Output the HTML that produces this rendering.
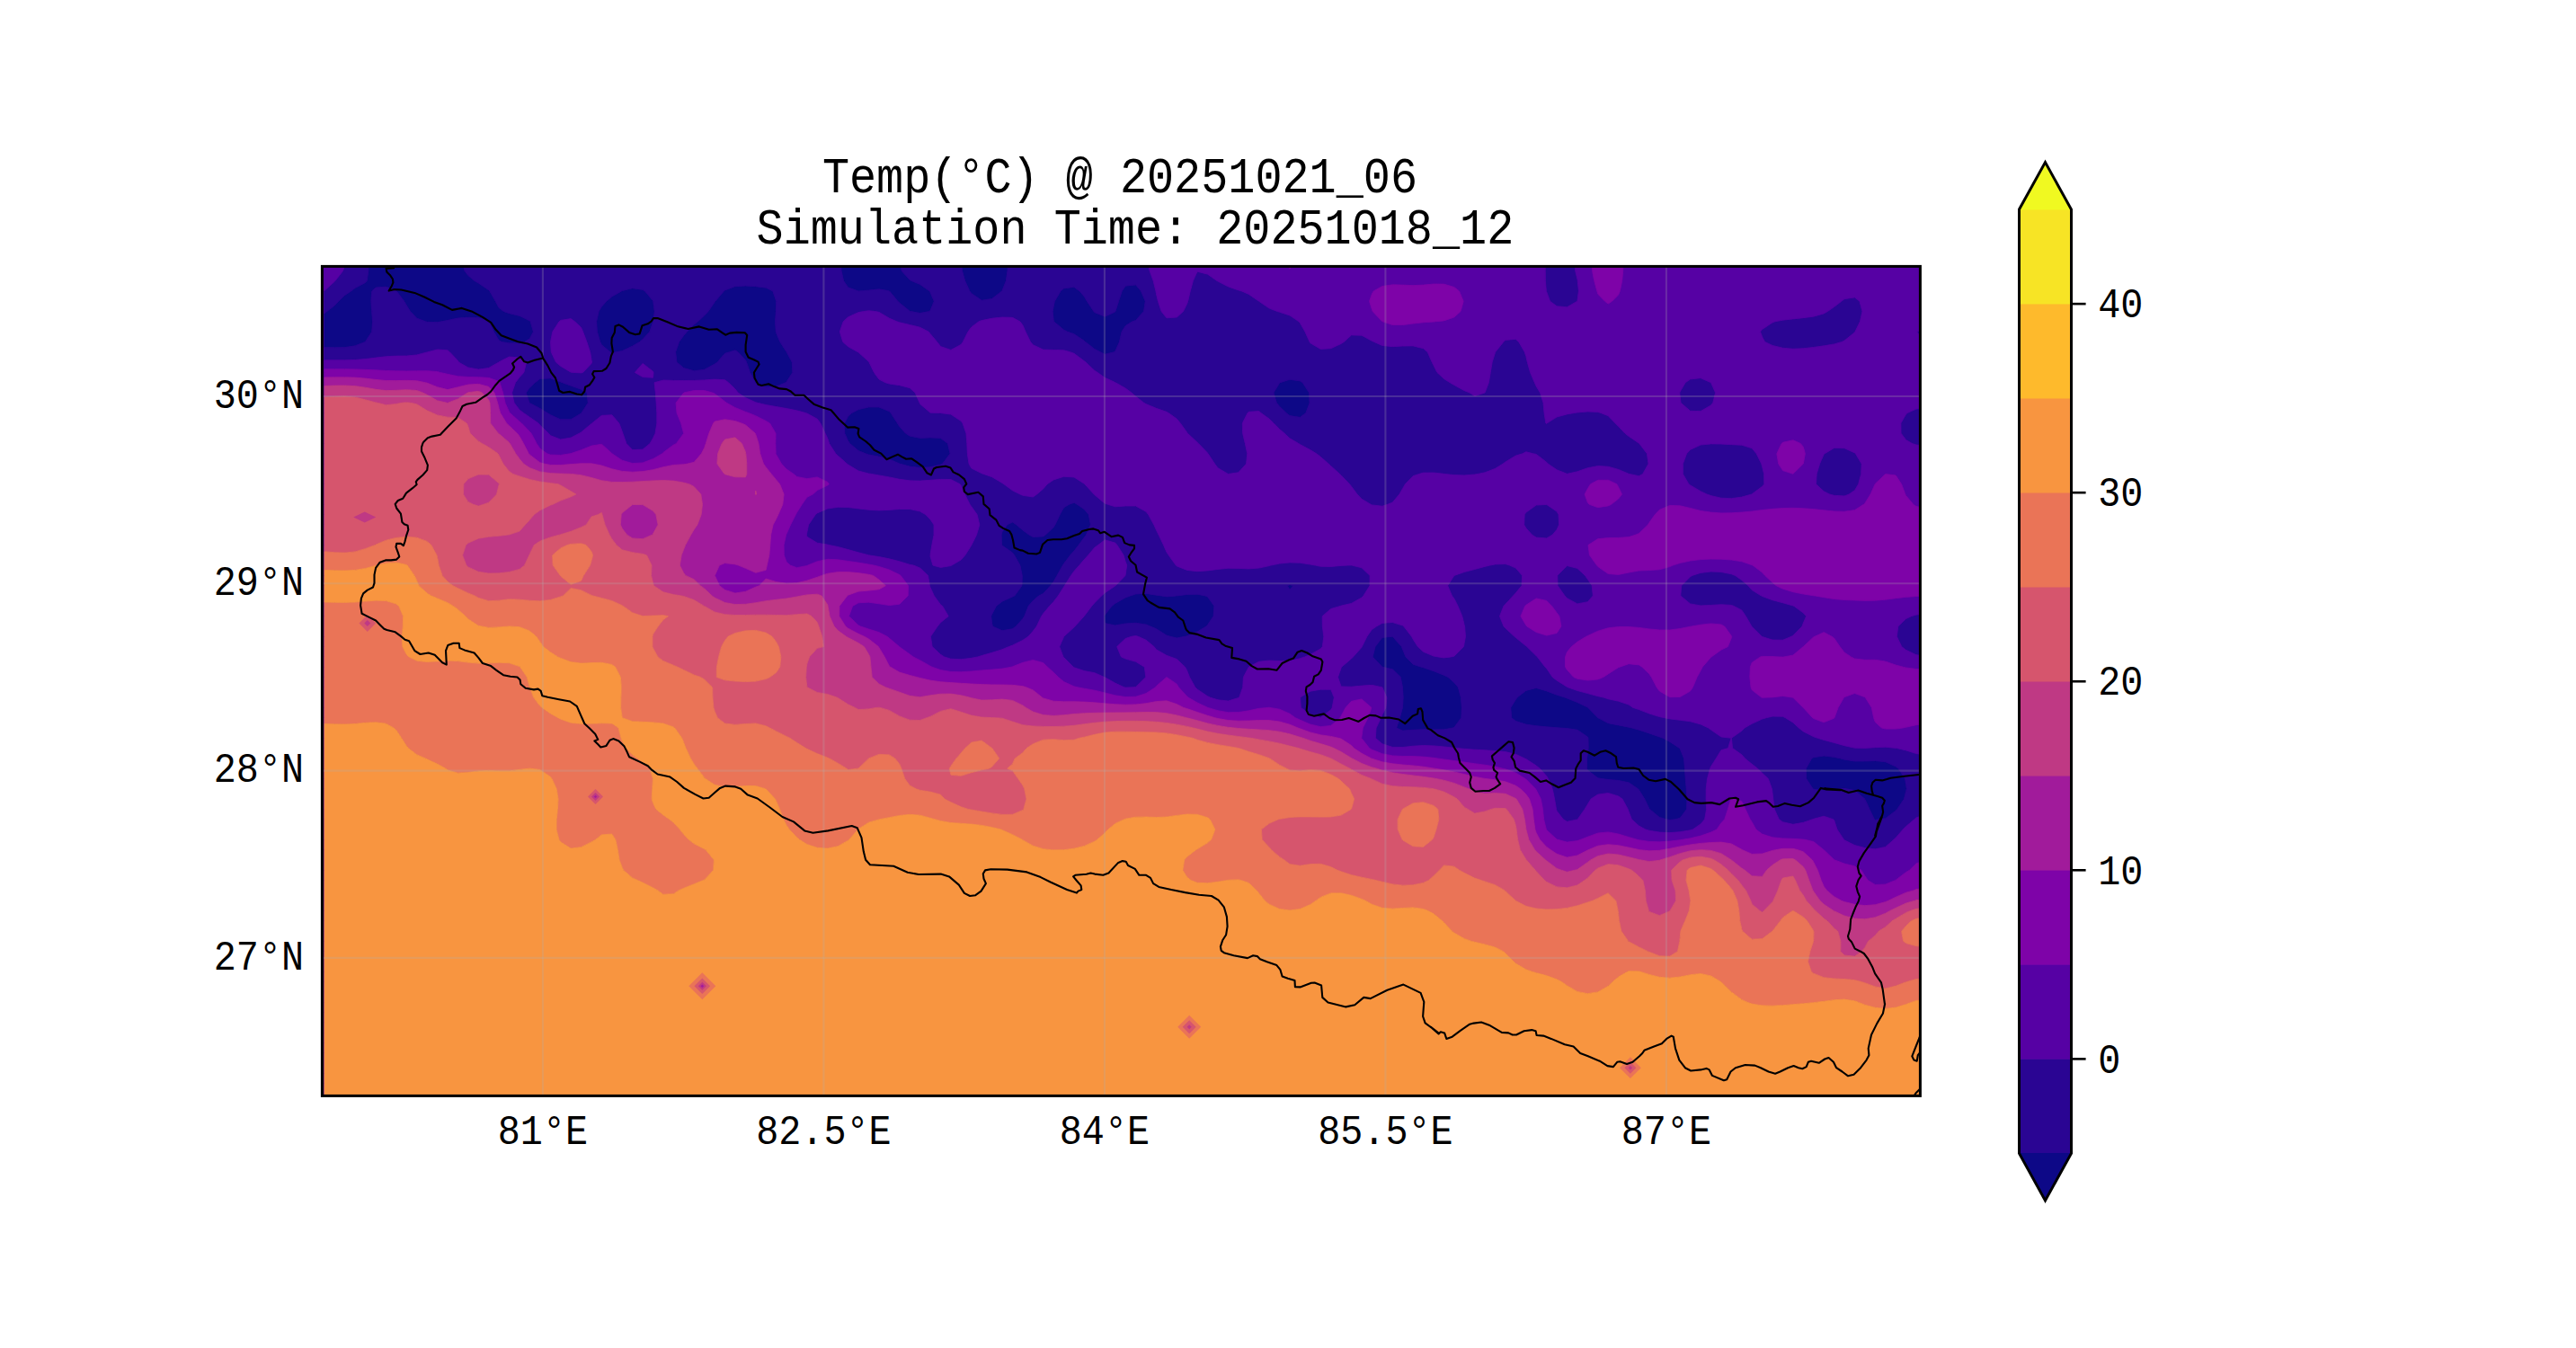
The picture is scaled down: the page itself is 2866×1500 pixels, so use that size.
<!DOCTYPE html><html><head><meta charset="utf-8"><style>html,body{margin:0;padding:0;background:#fff;}svg{display:block}</style></head><body>
<svg width="2866" height="1500" viewBox="0 0 2866 1500">
<rect x="0" y="0" width="2866" height="1500" fill="#ffffff"/>
<defs><clipPath id="pc"><rect x="358.4" y="296.4" width="1778.0" height="923.0"/></clipPath></defs>
<g clip-path="url(#pc)">
<rect x="358.4" y="296.4" width="1778.0" height="923.0" fill="#5601a4"/>
<path d="M418.0 267.4L429.4 267.4L440.8 267.4L452.3 267.4L463.7 267.4L475.1 267.4L486.6 267.4L498.0 267.4L509.4 267.4L517.2 267.4L515.4 278.7L514.6 290.0L516.8 301.3L520.8 306.5L528.0 312.6L532.3 315.1L543.7 322.8L544.8 323.9L551.2 335.2L555.1 342.6L560.4 346.5L566.5 348.7L578.0 351.4L589.4 357.1L590.1 357.8L593.3 369.1L589.4 376.7L583.6 380.4L578.0 381.7L566.5 381.8L558.4 380.4L555.1 378.8L549.4 369.1L544.1 357.8L543.7 357.4L532.3 353.6L520.8 353.2L509.4 354.0L498.0 356.4L491.0 357.8L486.6 358.6L475.1 358.3L473.6 357.8L463.7 354.1L456.5 346.5L452.3 339.8L449.7 335.2L441.2 323.9L440.8 323.6L429.4 319.1L418.0 320.0L413.7 323.9L412.8 335.2L413.6 346.5L414.5 357.8L413.7 369.1L406.6 380.1L406.2 380.4L395.1 384.8L383.7 386.5L372.3 386.8L360.9 386.5L360.9 380.4L360.9 369.1L360.9 357.8L360.9 348.9L363.8 346.5L372.3 339.9L376.8 335.2L383.7 328.5L390.7 323.9L395.1 320.5L406.6 314.5L408.2 312.6L409.9 301.3L410.0 290.0L410.0 278.7L409.8 267.4ZM875.1 275.4L879.1 278.7L886.5 285.6L886.8 290.0L886.5 291.8L875.1 297.0L874.2 290.0L874.7 278.7ZM943.6 267.4L955.1 267.4L966.5 267.4L977.9 267.4L989.3 267.4L1000.8 267.4L1003.2 267.4L1002.2 278.7L1001.7 290.0L1003.0 301.3L1012.2 311.5L1014.2 312.6L1023.6 316.5L1034.2 323.9L1035.0 325.5L1039.2 335.2L1035.0 345.6L1033.8 346.5L1023.6 348.4L1013.4 346.5L1012.2 346.2L1000.8 337.0L998.9 335.2L989.6 323.9L989.3 323.7L977.9 321.8L966.5 323.0L955.1 323.9L955.1 323.9L955.0 323.9L943.6 319.8L938.6 312.6L936.1 301.3L935.5 290.0L935.7 278.7L936.2 267.4ZM1080.8 267.4L1092.2 267.4L1103.6 267.4L1115.0 267.4L1120.9 267.4L1121.2 278.7L1121.4 290.0L1120.9 301.3L1119.3 312.6L1115.0 323.3L1114.7 323.9L1103.6 332.4L1092.2 334.2L1080.8 326.5L1078.9 323.9L1073.7 312.6L1070.5 301.3L1069.4 290.0L1069.8 278.7L1070.6 267.4ZM692.2 323.6L703.7 320.7L715.1 322.4L717.5 323.9L726.5 334.7L726.7 335.2L728.2 346.5L726.8 357.8L726.5 358.6L722.8 369.1L715.1 377.5L711.6 380.4L703.7 385.1L692.2 390.4L685.4 391.7L680.8 392.9L679.0 391.7L669.4 383.8L667.8 380.4L664.4 369.1L663.7 357.8L666.2 346.5L669.4 341.2L674.8 335.2L680.8 330.0L691.6 323.9ZM806.5 323.0L817.9 318.7L829.4 318.1L840.8 318.7L852.2 320.2L859.8 323.9L863.6 335.2L863.3 346.5L862.5 357.8L863.2 369.1L863.6 370.4L867.8 380.4L875.1 391.7L875.1 391.7L881.2 403.1L881.8 414.4L875.1 424.7L874.1 425.7L863.6 430.0L852.2 430.7L840.8 425.9L840.5 425.7L834.5 414.4L830.6 403.1L829.4 400.5L821.1 391.7L817.9 389.7L811.6 391.7L806.5 393.3L798.0 403.1L795.1 405.1L783.7 411.2L772.2 412.7L760.8 409.5L753.0 403.1L751.7 391.7L755.6 380.4L760.8 373.3L764.4 369.1L772.2 361.1L776.5 357.8L783.7 351.1L788.0 346.5L795.1 336.3L795.8 335.2L805.4 323.9ZM1183.6 320.9L1195.0 319.4L1201.0 323.9L1206.4 330.0L1209.3 335.2L1216.8 346.5L1217.9 347.7L1229.3 352.3L1240.7 347.1L1241.0 346.5L1244.6 335.2L1248.3 323.9L1252.2 318.2L1263.6 316.9L1269.4 323.9L1274.2 335.2L1272.5 346.5L1263.6 356.4L1259.7 357.8L1252.2 362.6L1248.0 369.1L1245.4 380.4L1240.7 391.0L1239.5 391.7L1229.3 394.2L1224.3 391.7L1217.9 388.4L1207.6 380.4L1206.4 379.3L1195.0 371.7L1187.6 369.1L1183.6 367.1L1172.5 357.8L1172.2 355.8L1171.2 346.5L1172.2 341.3L1173.4 335.2L1180.1 323.9ZM600.8 421.5L612.3 420.9L623.7 425.0L625.6 425.7L635.1 429.2L646.5 433.3L653.0 437.0L654.2 448.3L646.9 459.6L646.5 459.9L635.1 466.8L623.7 466.8L612.3 461.5L609.1 459.6L600.8 454.4L589.4 448.5L589.0 448.3L585.3 437.0L589.4 431.2L595.4 425.7ZM1435.0 422.3L1446.4 424.0L1449.2 425.7L1456.5 437.0L1457.0 448.3L1452.8 459.6L1446.4 464.3L1435.0 462.6L1431.1 459.6L1423.6 452.2L1420.4 448.3L1417.0 437.0L1423.6 426.2L1424.4 425.7ZM955.1 455.7L966.5 453.1L977.9 453.1L989.3 457.7L991.1 459.6L998.4 470.9L1000.8 474.7L1007.6 482.2L1012.2 485.2L1023.6 487.4L1035.0 486.9L1046.5 487.5L1054.4 493.5L1057.0 504.8L1048.6 516.1L1046.5 517.1L1035.0 519.8L1023.6 520.4L1012.2 519.1L1001.1 516.1L1000.8 515.9L989.3 510.9L977.9 508.1L966.5 505.9L963.3 504.8L955.1 501.5L945.5 493.5L943.6 490.6L939.8 482.2L939.6 470.9L943.6 463.3L947.7 459.6ZM1195.0 559.3L1198.4 561.3L1206.4 566.8L1211.2 572.6L1213.4 583.9L1208.4 595.2L1206.4 597.9L1200.1 606.5L1195.0 613.1L1190.7 617.8L1183.6 627.3L1182.4 629.1L1176.0 640.4L1172.2 647.2L1168.8 651.7L1160.7 660.4L1155.7 663.0L1149.3 668.4L1144.2 674.4L1139.7 685.7L1137.9 688.5L1130.3 697.0L1126.5 699.7L1115.0 701.7L1104.4 697.0L1103.6 693.3L1102.7 685.7L1103.6 683.5L1108.4 674.4L1115.0 669.2L1126.5 664.0L1128.8 663.0L1137.0 651.7L1137.3 640.4L1134.9 629.1L1128.6 617.8L1126.5 615.1L1115.0 607.0L1114.6 606.5L1114.1 595.2L1115.0 591.8L1120.5 583.9L1126.5 580.9L1130.9 583.9L1137.9 590.0L1145.1 595.2L1149.3 597.4L1160.7 596.9L1163.1 595.2L1172.2 586.7L1173.9 583.9L1179.3 572.6L1183.6 564.8L1189.5 561.3ZM1435.0 650.7L1438.8 651.7L1435.0 656.0L1432.2 651.7ZM1263.6 661.0L1275.0 660.4L1286.4 662.2L1292.3 663.0L1297.9 663.9L1308.9 663.0L1309.3 663.0L1320.7 661.5L1332.1 661.2L1341.0 663.0L1343.6 664.1L1350.9 674.4L1350.0 685.7L1343.6 695.3L1342.0 697.0L1332.1 702.9L1320.7 707.7L1318.1 708.3L1309.3 709.9L1302.1 708.3L1297.9 707.0L1286.4 699.7L1279.9 697.0L1275.0 694.9L1263.6 693.2L1252.2 693.9L1240.7 695.9L1229.3 693.6L1228.4 685.7L1229.3 684.3L1236.9 674.4L1240.7 671.4L1252.2 665.0L1257.6 663.0ZM1537.8 709.4L1549.3 708.3L1559.4 719.6L1560.7 723.0L1564.0 730.9L1572.1 739.2L1581.2 742.2L1583.5 742.8L1595.0 746.7L1606.4 751.3L1611.1 753.5L1617.8 759.5L1622.3 764.8L1625.4 776.1L1626.3 787.4L1625.8 798.7L1617.8 809.4L1616.2 810.0L1606.4 811.8L1595.0 811.9L1583.5 811.7L1572.1 812.2L1560.7 813.1L1553.7 810.0L1557.4 798.7L1560.5 787.4L1560.7 784.5L1561.2 776.1L1560.7 768.5L1560.5 764.8L1558.3 753.5L1549.3 744.8L1538.3 742.2L1537.8 742.1L1527.2 730.9L1530.1 719.6ZM1697.8 768.4L1709.2 765.5L1720.7 768.9L1732.1 773.3L1741.1 776.1L1743.5 777.0L1754.9 781.6L1766.4 787.1L1766.9 787.4L1777.8 798.7L1777.8 798.7L1789.2 804.7L1800.6 806.9L1812.1 809.2L1815.5 810.0L1823.5 812.2L1834.9 816.0L1846.3 820.0L1850.2 821.3L1857.8 825.4L1868.7 832.6L1869.2 833.3L1873.5 843.9L1874.4 855.2L1875.2 866.5L1876.2 877.8L1876.9 889.1L1876.6 900.4L1869.2 910.3L1863.9 911.7L1857.8 912.4L1853.8 911.7L1846.3 909.4L1835.4 900.4L1834.9 899.8L1829.8 889.1L1823.5 879.1L1822.4 877.8L1812.1 870.8L1800.6 868.4L1789.2 867.4L1781.9 866.5L1777.8 865.7L1766.4 857.1L1765.4 855.2L1765.6 843.9L1766.4 838.5L1767.2 832.6L1767.0 821.3L1766.4 820.0L1754.9 812.2L1743.5 810.5L1736.3 810.0L1732.1 809.7L1720.7 808.8L1709.2 807.7L1697.8 806.1L1686.4 802.4L1681.7 798.7L1680.8 787.4L1686.4 778.4L1688.0 776.1ZM2017.8 842.8L2029.2 841.0L2040.6 842.5L2047.4 843.9L2052.0 845.2L2063.5 847.1L2074.9 847.0L2086.3 846.6L2097.7 847.8L2109.2 853.0L2112.1 855.2L2119.5 866.5L2120.6 873.7L2121.3 877.8L2120.6 880.3L2118.4 889.1L2110.7 900.4L2109.2 902.1L2097.7 910.7L2089.7 911.7L2086.3 912.4L2085.5 911.7L2080.1 900.4L2074.9 889.3L2074.8 889.1L2063.5 879.5L2054.6 877.8L2052.0 877.3L2047.7 877.8L2040.6 878.5L2029.2 879.8L2017.8 878.2L2017.1 877.8L2009.6 866.5L2009.3 855.2L2015.7 843.9Z" fill="#0d0887" stroke="#0d0887" stroke-width="0.8" fill-rule="evenodd"/>
<path d="M383.7 267.4L395.1 267.4L406.6 267.4L409.8 267.4L410.0 278.7L410.0 290.0L409.9 301.3L408.2 312.6L406.6 314.5L395.1 320.5L390.7 323.9L383.7 328.5L376.8 335.2L372.3 339.9L363.8 346.5L360.9 348.9L360.9 346.5L360.9 335.2L360.9 323.9L360.9 323.6L372.3 313.2L372.9 312.6L381.7 301.3L383.7 294.6L384.8 290.0L383.7 278.7L383.7 278.5L381.2 267.4ZM520.8 267.4L532.3 267.4L543.7 267.4L555.1 267.4L566.5 267.4L578.0 267.4L589.4 267.4L600.8 267.4L612.3 267.4L623.7 267.4L635.1 267.4L646.5 267.4L658.0 267.4L669.4 267.4L680.8 267.4L692.2 267.4L703.7 267.4L715.1 267.4L726.5 267.4L737.9 267.4L749.4 267.4L760.8 267.4L772.2 267.4L783.7 267.4L795.1 267.4L806.5 267.4L817.9 267.4L829.4 267.4L840.8 267.4L852.2 267.4L863.6 267.4L875.1 267.4L886.5 267.4L897.9 267.4L909.3 267.4L920.8 267.4L932.2 267.4L936.2 267.4L935.7 278.7L935.5 290.0L936.1 301.3L938.6 312.6L943.6 319.8L955.0 323.9L955.1 323.9L955.1 323.9L966.5 323.0L977.9 321.8L989.3 323.7L989.6 323.9L998.9 335.2L1000.8 337.0L1012.2 346.2L1013.4 346.5L1023.6 348.4L1033.8 346.5L1035.0 345.6L1039.2 335.2L1035.0 325.5L1034.2 323.9L1023.6 316.5L1014.2 312.6L1012.2 311.5L1003.0 301.3L1001.7 290.0L1002.2 278.7L1003.2 267.4L1012.2 267.4L1023.6 267.4L1035.0 267.4L1046.5 267.4L1057.9 267.4L1069.3 267.4L1070.6 267.4L1069.8 278.7L1069.4 290.0L1070.5 301.3L1073.7 312.6L1078.9 323.9L1080.8 326.5L1092.2 334.2L1103.6 332.4L1114.7 323.9L1115.0 323.3L1119.3 312.6L1120.9 301.3L1121.4 290.0L1121.2 278.7L1120.9 267.4L1126.5 267.4L1137.9 267.4L1149.3 267.4L1160.7 267.4L1172.2 267.4L1183.6 267.4L1195.0 267.4L1206.4 267.4L1217.9 267.4L1229.3 267.4L1240.7 267.4L1252.2 267.4L1263.6 267.4L1275.0 267.4L1279.3 267.4L1277.7 278.7L1276.6 290.0L1279.0 301.3L1283.1 312.6L1285.9 323.9L1286.4 326.9L1288.4 335.2L1292.1 346.5L1297.9 353.8L1309.3 353.1L1316.5 346.5L1320.7 337.9L1321.7 335.2L1324.3 323.9L1327.4 312.6L1332.1 302.2L1343.6 305.2L1354.0 312.6L1355.0 313.1L1366.4 318.9L1377.8 322.9L1381.3 323.9L1389.3 327.4L1400.6 335.2L1400.7 335.3L1412.1 343.1L1421.0 346.5L1423.6 347.3L1435.0 351.0L1445.0 357.8L1446.4 359.4L1451.9 369.1L1457.0 380.4L1457.8 381.7L1469.3 388.5L1480.7 387.8L1492.1 382.5L1495.3 380.4L1503.5 372.9L1515.0 373.2L1526.4 379.4L1528.7 380.4L1537.8 384.5L1549.3 385.7L1560.7 385.1L1572.1 384.9L1583.5 387.7L1588.2 391.7L1593.2 403.1L1595.0 406.7L1598.9 414.4L1606.4 421.4L1613.1 425.7L1617.8 428.4L1629.2 434.7L1635.0 437.0L1640.7 440.7L1652.1 437.0L1652.1 437.0L1656.4 425.7L1658.3 414.4L1660.2 403.1L1663.5 392.4L1663.8 391.7L1672.8 380.4L1674.9 378.4L1686.4 377.4L1689.7 380.4L1696.2 391.7L1697.8 396.5L1699.3 403.1L1702.5 414.4L1707.3 425.7L1709.2 429.9L1713.5 437.0L1717.0 448.3L1718.0 459.6L1719.8 470.9L1720.7 471.5L1721.1 470.9L1732.1 464.1L1743.5 460.9L1751.1 459.6L1754.9 459.0L1766.4 458.0L1777.8 458.5L1781.1 459.6L1789.2 462.7L1797.1 470.9L1800.6 474.5L1807.9 482.2L1812.1 485.5L1823.5 493.3L1823.8 493.5L1832.4 504.8L1834.0 516.1L1827.7 527.4L1823.5 529.7L1812.7 527.4L1812.1 527.3L1800.6 522.4L1789.2 519.2L1777.8 518.6L1766.4 520.7L1754.9 524.8L1743.5 527.3L1732.1 522.8L1722.2 516.1L1720.7 514.3L1709.2 505.4L1705.8 504.8L1697.8 502.7L1693.9 504.8L1686.4 507.0L1674.9 514.0L1672.2 516.1L1663.5 521.4L1652.1 525.8L1644.1 527.4L1640.7 528.0L1629.2 528.9L1617.8 528.6L1606.9 527.4L1606.4 527.3L1595.0 526.0L1583.5 526.1L1578.9 527.4L1572.1 529.7L1563.4 538.7L1560.7 543.4L1556.9 550.0L1549.3 559.1L1543.8 561.3L1537.8 563.2L1526.4 561.9L1525.1 561.3L1515.0 555.2L1510.0 550.0L1503.5 541.2L1501.5 538.7L1492.1 528.9L1490.5 527.4L1480.7 518.5L1478.0 516.1L1469.3 508.3L1464.7 504.8L1457.8 500.6L1446.4 494.6L1444.8 493.5L1435.0 487.8L1429.1 482.2L1423.6 477.5L1417.1 470.9L1412.1 466.0L1403.0 459.6L1400.7 457.5L1389.3 458.3L1388.0 459.6L1382.3 470.9L1382.6 482.2L1385.3 493.5L1387.7 504.8L1386.6 516.1L1377.8 525.8L1366.4 527.4L1355.0 520.8L1351.5 516.1L1344.1 504.8L1343.6 504.1L1333.4 493.5L1332.1 492.3L1321.4 482.2L1320.7 481.2L1313.3 470.9L1309.3 466.1L1300.1 459.6L1297.9 458.3L1286.4 454.3L1275.0 449.6L1272.8 448.3L1263.6 441.1L1259.0 437.0L1252.2 432.0L1241.1 425.7L1240.7 425.5L1229.3 420.3L1221.1 414.4L1217.9 412.4L1208.0 403.1L1206.4 401.8L1195.0 393.3L1190.7 391.7L1183.6 389.7L1172.2 389.4L1160.7 389.1L1149.3 383.7L1146.6 380.4L1141.0 369.1L1137.9 361.7L1134.8 357.8L1126.5 353.3L1115.0 353.0L1103.6 354.2L1092.2 356.6L1089.0 357.8L1080.8 363.9L1077.0 369.1L1071.3 380.4L1069.3 383.3L1057.9 389.4L1046.5 385.5L1042.6 380.4L1035.0 371.4L1033.0 369.1L1023.6 364.2L1012.2 361.4L1000.8 358.8L997.9 357.8L989.3 354.0L977.9 347.3L973.7 346.5L966.5 345.7L960.9 346.5L955.1 347.6L943.6 352.8L938.2 357.8L934.3 369.1L937.7 380.4L943.6 385.7L954.4 391.7L955.1 392.1L966.5 402.4L966.9 403.1L972.4 414.4L977.9 422.1L985.0 425.7L989.3 427.1L1000.8 428.7L1012.2 431.7L1018.1 437.0L1023.1 448.3L1023.6 449.5L1035.0 459.2L1045.1 459.6L1046.5 459.6L1057.9 461.1L1069.3 468.6L1071.0 470.9L1074.9 482.2L1075.8 493.5L1076.3 504.8L1078.0 516.1L1080.8 521.1L1092.2 526.7L1094.2 527.4L1103.6 530.7L1115.0 537.4L1116.9 538.7L1126.5 545.8L1135.0 550.0L1137.9 551.3L1149.3 553.0L1153.6 550.0L1160.7 543.9L1165.1 538.7L1172.2 533.9L1183.6 530.3L1195.0 531.0L1206.4 538.3L1206.8 538.7L1217.2 550.0L1217.9 550.7L1229.3 560.3L1232.6 561.3L1240.7 563.8L1252.2 563.0L1263.6 563.0L1275.0 569.3L1277.6 572.6L1283.8 583.9L1286.4 589.7L1289.1 595.2L1294.5 606.5L1297.9 614.3L1300.2 617.8L1308.3 629.1L1309.3 629.9L1320.7 634.4L1332.1 635.7L1343.6 634.9L1355.0 633.4L1366.4 632.3L1377.8 632.4L1389.3 632.9L1400.7 632.1L1412.1 629.6L1413.9 629.1L1423.6 627.1L1435.0 625.9L1446.4 626.3L1457.8 628.1L1463.5 629.1L1469.3 630.3L1480.7 630.5L1492.1 629.4L1499.9 629.1L1503.5 629.0L1504.1 629.1L1515.0 631.8L1524.1 640.4L1524.0 651.7L1516.9 663.0L1515.0 665.0L1503.5 671.4L1492.1 674.1L1491.1 674.4L1480.7 677.5L1471.2 685.7L1471.3 697.0L1472.8 708.3L1471.3 719.6L1469.3 721.9L1457.8 728.4L1451.6 730.9L1446.4 732.7L1435.0 735.3L1423.6 735.5L1412.1 735.0L1400.7 736.2L1389.3 742.2L1389.3 742.2L1383.4 753.5L1382.7 764.8L1378.7 776.1L1377.8 776.6L1366.4 780.0L1355.0 778.8L1346.4 776.1L1343.6 774.8L1332.1 767.1L1329.8 764.8L1323.5 753.5L1320.7 746.3L1318.5 742.2L1309.3 733.5L1302.4 730.9L1297.9 729.3L1286.4 722.8L1284.0 719.6L1275.0 712.2L1266.5 708.3L1263.6 707.5L1258.8 708.3L1252.2 710.5L1242.7 719.6L1247.4 730.9L1252.2 733.1L1263.6 736.3L1273.3 742.2L1274.8 753.5L1263.6 764.5L1260.2 764.8L1252.2 765.1L1250.8 764.8L1240.7 760.1L1229.3 753.7L1228.7 753.5L1217.9 748.7L1206.4 746.6L1195.0 742.8L1194.2 742.2L1183.6 731.6L1183.0 730.9L1178.7 719.6L1183.6 708.5L1183.7 708.3L1195.0 697.9L1195.9 697.0L1206.2 685.7L1206.4 685.4L1214.6 674.4L1217.9 670.7L1225.5 663.0L1229.3 659.7L1240.7 652.0L1241.1 651.7L1252.0 640.4L1252.2 639.3L1253.7 629.1L1252.2 624.9L1250.1 617.8L1242.9 606.5L1240.7 604.1L1229.3 600.8L1221.7 606.5L1217.9 609.2L1210.7 617.8L1206.4 622.5L1200.8 629.1L1195.0 635.6L1191.5 640.4L1184.4 651.7L1183.6 653.0L1177.3 663.0L1172.2 669.6L1167.6 674.4L1160.7 682.8L1158.7 685.7L1153.3 697.0L1149.3 702.3L1144.0 708.3L1137.9 712.4L1126.5 718.1L1122.4 719.6L1115.0 722.7L1103.6 726.3L1092.2 729.6L1087.8 730.9L1080.8 732.3L1069.3 733.7L1057.9 733.2L1050.6 730.9L1046.5 728.3L1037.2 719.6L1035.4 708.3L1043.0 697.0L1046.5 692.7L1055.2 685.7L1048.6 674.4L1046.5 672.9L1039.3 663.0L1035.0 653.6L1034.4 651.7L1032.5 640.4L1023.6 632.0L1016.5 629.1L1012.2 628.3L1000.8 624.8L989.3 621.8L977.9 619.6L966.6 617.8L966.5 617.8L955.1 614.8L943.6 611.6L932.2 608.5L922.4 606.5L920.8 606.0L909.3 604.2L897.9 597.3L897.3 595.2L897.9 592.2L899.6 583.9L907.3 572.6L909.3 570.9L920.8 566.0L932.2 564.3L943.6 564.5L955.1 565.9L966.5 567.3L977.9 567.9L989.3 567.4L1000.8 566.5L1012.2 566.5L1023.6 569.1L1029.8 572.6L1035.0 577.9L1039.0 583.9L1039.0 595.2L1036.8 606.5L1035.0 617.5L1035.0 617.8L1035.0 619.0L1037.9 629.1L1046.5 631.4L1057.9 629.6L1058.8 629.1L1069.3 622.9L1073.8 617.8L1080.8 606.7L1080.9 606.5L1086.5 595.2L1089.8 583.9L1087.1 572.6L1080.8 563.7L1079.1 561.3L1073.4 550.0L1069.3 540.5L1068.1 538.7L1057.9 533.5L1046.5 533.4L1035.0 534.3L1023.6 535.1L1012.2 534.8L1000.8 533.3L989.3 530.9L977.9 528.9L969.6 527.4L966.5 527.0L955.1 524.0L943.6 517.1L942.4 516.1L932.2 507.0L929.8 504.8L922.6 493.5L920.8 487.8L918.1 482.2L912.9 470.9L909.3 466.2L897.9 460.0L896.7 459.6L886.5 456.8L875.1 454.5L863.6 452.5L852.2 450.5L843.1 448.3L840.8 447.7L829.4 442.5L821.1 437.0L817.9 432.8L810.5 425.7L806.5 422.7L795.1 422.1L783.7 422.9L772.2 423.4L760.8 423.5L749.4 423.4L737.9 423.0L728.0 425.7L729.3 437.0L730.1 448.3L730.8 459.6L730.8 470.9L729.0 482.2L726.5 487.5L723.1 493.5L715.1 500.1L703.7 500.5L696.9 493.5L693.0 482.2L692.2 480.0L688.8 470.9L680.8 461.7L669.4 462.3L658.7 470.9L658.0 471.4L646.5 481.0L644.4 482.2L635.1 487.1L623.7 489.0L612.3 484.6L610.2 482.2L600.8 473.0L599.0 470.9L589.4 464.2L582.6 459.6L578.0 456.0L572.1 448.3L569.6 437.0L573.5 425.7L578.0 419.7L582.9 414.4L585.7 403.1L578.0 397.9L566.5 397.0L555.1 402.8L554.8 403.1L543.7 409.4L532.3 411.1L520.8 408.9L510.4 403.1L509.4 401.3L500.3 391.7L498.0 389.8L486.6 388.9L475.9 391.7L475.1 391.9L463.7 394.9L452.3 396.0L440.8 396.1L429.4 396.7L418.0 398.1L406.6 399.5L395.1 400.4L383.7 400.8L372.3 400.8L360.9 400.8L360.9 391.7L360.9 386.5L372.3 386.8L383.7 386.5L395.1 384.8L406.2 380.4L406.6 380.1L413.7 369.1L414.5 357.8L413.6 346.5L412.8 335.2L413.7 323.9L418.0 320.0L429.4 319.1L440.8 323.6L441.2 323.9L449.7 335.2L452.3 339.8L456.5 346.5L463.7 354.1L473.6 357.8L475.1 358.3L486.6 358.6L491.0 357.8L498.0 356.4L509.4 354.0L520.8 353.2L532.3 353.6L543.7 357.4L544.1 357.8L549.4 369.1L555.1 378.8L558.4 380.4L566.5 381.8L578.0 381.7L583.6 380.4L589.4 376.7L593.3 369.1L590.1 357.8L589.4 357.1L578.0 351.4L566.5 348.7L560.4 346.5L555.1 342.6L551.2 335.2L544.8 323.9L543.7 322.8L532.3 315.1L528.0 312.6L520.8 306.5L516.8 301.3L514.6 290.0L515.4 278.7L517.2 267.4ZM874.7 278.7L874.2 290.0L875.1 297.0L886.5 291.8L886.8 290.0L886.5 285.6L879.1 278.7L875.1 275.4ZM691.6 323.9L680.8 330.0L674.8 335.2L669.4 341.2L666.2 346.5L663.7 357.8L664.4 369.1L667.8 380.4L669.4 383.8L679.0 391.7L680.8 392.9L685.4 391.7L692.2 390.4L703.7 385.1L711.6 380.4L715.1 377.5L722.8 369.1L726.5 358.6L726.8 357.8L728.2 346.5L726.7 335.2L726.5 334.7L717.5 323.9L715.1 322.4L703.7 320.7L692.2 323.6ZM805.4 323.9L795.8 335.2L795.1 336.3L788.0 346.5L783.7 351.1L776.5 357.8L772.2 361.1L764.4 369.1L760.8 373.3L755.6 380.4L751.7 391.7L753.0 403.1L760.8 409.5L772.2 412.7L783.7 411.2L795.1 405.1L798.0 403.1L806.5 393.3L811.6 391.7L817.9 389.7L821.1 391.7L829.4 400.5L830.6 403.1L834.5 414.4L840.5 425.7L840.8 425.9L852.2 430.7L863.6 430.0L874.1 425.7L875.1 424.7L881.8 414.4L881.2 403.1L875.1 391.7L875.1 391.7L867.8 380.4L863.6 370.4L863.2 369.1L862.5 357.8L863.3 346.5L863.6 335.2L859.8 323.9L852.2 320.2L840.8 318.7L829.4 318.1L817.9 318.7L806.5 323.0ZM1180.1 323.9L1173.4 335.2L1172.2 341.3L1171.2 346.5L1172.2 355.8L1172.5 357.8L1183.6 367.1L1187.6 369.1L1195.0 371.7L1206.4 379.3L1207.6 380.4L1217.9 388.4L1224.3 391.7L1229.3 394.2L1239.5 391.7L1240.7 391.0L1245.4 380.4L1248.0 369.1L1252.2 362.6L1259.7 357.8L1263.6 356.4L1272.5 346.5L1274.2 335.2L1269.4 323.9L1263.6 316.9L1252.2 318.2L1248.3 323.9L1244.6 335.2L1241.0 346.5L1240.7 347.1L1229.3 352.3L1217.9 347.7L1216.8 346.5L1209.3 335.2L1206.4 330.0L1201.0 323.9L1195.0 319.4L1183.6 320.9ZM622.1 357.8L614.8 369.1L612.5 380.4L613.2 391.7L618.5 403.1L623.7 407.4L635.1 414.2L637.1 414.4L646.5 415.0L648.6 414.4L658.0 404.5L658.6 403.1L658.0 400.2L656.6 391.7L652.9 380.4L648.6 369.1L646.5 364.3L639.5 357.8L635.1 354.6L623.7 356.4ZM706.3 414.4L715.1 419.6L726.5 420.3L727.1 414.4L726.5 413.3L715.1 404.4ZM595.4 425.7L589.4 431.2L585.3 437.0L589.0 448.3L589.4 448.5L600.8 454.4L609.1 459.6L612.3 461.5L623.7 466.8L635.1 466.8L646.5 459.9L646.9 459.6L654.2 448.3L653.0 437.0L646.5 433.3L635.1 429.2L625.6 425.7L623.7 425.0L612.3 420.9L600.8 421.5ZM1424.4 425.7L1423.6 426.2L1417.0 437.0L1420.4 448.3L1423.6 452.2L1431.1 459.6L1435.0 462.6L1446.4 464.3L1452.8 459.6L1457.0 448.3L1456.5 437.0L1449.2 425.7L1446.4 424.0L1435.0 422.3ZM947.7 459.6L943.6 463.3L939.6 470.9L939.8 482.2L943.6 490.6L945.5 493.5L955.1 501.5L963.3 504.8L966.5 505.9L977.9 508.1L989.3 510.9L1000.8 515.9L1001.1 516.1L1012.2 519.1L1023.6 520.4L1035.0 519.8L1046.5 517.1L1048.6 516.1L1057.0 504.8L1054.4 493.5L1046.5 487.5L1035.0 486.9L1023.6 487.4L1012.2 485.2L1007.6 482.2L1000.8 474.7L998.4 470.9L991.1 459.6L989.3 457.7L977.9 453.1L966.5 453.1L955.1 455.7ZM1189.5 561.3L1183.6 564.8L1179.3 572.6L1173.9 583.9L1172.2 586.7L1163.1 595.2L1160.7 596.9L1149.3 597.4L1145.1 595.2L1137.9 590.0L1130.9 583.9L1126.5 580.9L1120.5 583.9L1115.0 591.8L1114.1 595.2L1114.6 606.5L1115.0 607.0L1126.5 615.1L1128.6 617.8L1134.9 629.1L1137.3 640.4L1137.0 651.7L1128.8 663.0L1126.5 664.0L1115.0 669.2L1108.4 674.4L1103.6 683.5L1102.7 685.7L1103.6 693.3L1104.4 697.0L1115.0 701.7L1126.5 699.7L1130.3 697.0L1137.9 688.5L1139.7 685.7L1144.2 674.4L1149.3 668.4L1155.7 663.0L1160.7 660.4L1168.8 651.7L1172.2 647.2L1176.0 640.4L1182.4 629.1L1183.6 627.3L1190.7 617.8L1195.0 613.1L1200.1 606.5L1206.4 597.9L1208.4 595.2L1213.4 583.9L1211.2 572.6L1206.4 566.8L1198.4 561.3L1195.0 559.3ZM1432.2 651.7L1435.0 656.0L1438.8 651.7L1435.0 650.7ZM1257.6 663.0L1252.2 665.0L1240.7 671.4L1236.9 674.4L1229.3 684.3L1228.4 685.7L1229.3 693.6L1240.7 695.9L1252.2 693.9L1263.6 693.2L1275.0 694.9L1279.9 697.0L1286.4 699.7L1297.9 707.0L1302.1 708.3L1309.3 709.9L1318.1 708.3L1320.7 707.7L1332.1 702.9L1342.0 697.0L1343.6 695.3L1350.0 685.7L1350.9 674.4L1343.6 664.1L1341.0 663.0L1332.1 661.2L1320.7 661.5L1309.3 663.0L1308.9 663.0L1297.9 663.9L1292.3 663.0L1286.4 662.2L1275.0 660.4L1263.6 661.0ZM1720.7 267.4L1732.1 267.4L1743.5 267.4L1752.7 267.4L1752.1 278.7L1751.7 290.0L1752.6 301.3L1754.9 310.8L1755.2 312.6L1756.4 323.9L1754.9 334.7L1754.7 335.2L1743.5 341.7L1732.1 340.7L1724.6 335.2L1720.7 324.7L1720.4 323.9L1719.4 312.6L1719.3 301.3L1719.3 290.0L1719.3 278.7L1719.3 267.4ZM2052.0 332.7L2063.5 330.9L2068.9 335.2L2071.9 346.5L2069.4 357.8L2063.9 369.1L2063.5 369.8L2052.0 379.1L2049.1 380.4L2040.6 382.9L2029.2 384.8L2017.8 386.4L2006.3 387.7L1994.9 388.2L1983.5 387.2L1972.0 384.4L1963.6 380.4L1960.6 374.8L1958.5 369.1L1960.6 366.6L1972.0 358.9L1975.0 357.8L1983.5 356.2L1994.9 354.9L2006.3 353.7L2017.8 352.2L2029.2 348.9L2033.4 346.5L2040.6 341.6L2048.8 335.2ZM2143.4 364.7L2154.9 366.4L2164.0 369.1L2154.9 379.1L2152.1 380.4L2143.4 381.3L2140.3 380.4L2132.8 369.1ZM1880.6 422.0L1892.1 420.7L1903.4 425.7L1903.5 425.7L1908.5 437.0L1905.7 448.3L1903.5 450.9L1892.1 457.6L1880.6 457.3L1870.1 448.3L1869.2 441.2L1868.8 437.0L1869.2 435.9L1875.2 425.7ZM2132.0 455.1L2143.4 453.9L2154.9 454.3L2166.3 455.1L2166.3 459.6L2166.3 470.9L2166.3 482.2L2166.3 493.5L2166.3 494.9L2154.9 495.8L2143.4 496.1L2132.0 495.0L2127.5 493.5L2120.6 489.5L2115.1 482.2L2114.9 470.9L2120.6 460.9L2122.0 459.6ZM1880.6 500.4L1892.1 495.1L1903.5 493.9L1914.9 494.1L1926.3 494.7L1937.8 495.3L1949.2 498.8L1954.1 504.8L1959.7 516.1L1960.6 519.3L1962.6 527.4L1962.8 538.7L1960.6 541.3L1949.2 549.8L1948.8 550.0L1937.8 553.1L1926.3 554.7L1914.9 554.2L1903.5 551.6L1899.1 550.0L1892.1 546.7L1880.6 539.9L1878.9 538.7L1872.4 527.4L1872.4 516.1L1876.6 504.8ZM2040.6 498.5L2052.0 498.7L2063.5 504.0L2064.4 504.8L2071.1 516.1L2070.6 527.4L2067.6 538.7L2063.5 545.6L2057.1 550.0L2052.0 551.9L2040.6 551.3L2035.8 550.0L2029.2 546.8L2020.5 538.7L2021.2 527.4L2024.6 516.1L2029.2 505.6L2030.1 504.8ZM1697.8 570.2L1709.2 562.1L1720.7 561.4L1732.1 569.2L1734.0 572.6L1734.6 583.9L1732.1 589.3L1727.1 595.2L1720.7 598.9L1709.2 598.1L1704.6 595.2L1697.8 587.6L1695.7 583.9L1696.2 572.6ZM1663.5 627.9L1674.9 627.6L1679.6 629.1L1686.4 632.1L1693.6 640.4L1693.0 651.7L1686.4 659.8L1683.5 663.0L1674.9 672.3L1672.9 674.4L1668.5 685.7L1673.0 697.0L1674.9 698.9L1684.9 708.3L1686.4 709.5L1697.8 718.8L1698.8 719.6L1709.2 729.7L1710.4 730.9L1719.1 742.2L1720.7 743.8L1727.3 753.5L1732.1 757.2L1743.5 764.4L1744.3 764.8L1754.9 768.5L1766.4 771.6L1777.8 774.7L1784.1 776.1L1789.2 777.8L1800.6 780.2L1812.1 784.1L1816.8 787.4L1823.5 789.6L1834.9 794.0L1846.3 797.6L1851.7 798.7L1857.8 799.9L1869.2 801.3L1880.6 802.8L1892.1 805.9L1900.6 810.0L1903.5 812.1L1914.9 819.9L1926.1 821.3L1922.6 832.6L1914.9 834.8L1909.3 843.9L1903.5 853.0L1902.6 855.2L1899.5 866.5L1898.2 877.8L1898.1 889.1L1898.6 900.4L1896.6 911.7L1892.1 916.9L1883.3 923.0L1880.6 923.8L1869.2 925.7L1857.8 926.6L1846.3 926.1L1834.9 924.2L1830.8 923.0L1823.5 919.0L1815.4 911.7L1812.1 903.1L1811.2 900.4L1805.0 889.1L1800.6 885.9L1789.2 882.5L1777.8 884.0L1770.0 889.1L1766.4 895.0L1763.1 900.4L1755.2 911.7L1754.9 911.9L1743.5 914.3L1739.3 911.7L1732.1 902.4L1731.5 900.4L1729.6 889.1L1727.2 877.8L1722.4 866.5L1720.7 863.5L1713.2 855.2L1709.2 852.0L1697.8 844.6L1696.3 843.9L1686.4 839.3L1674.9 836.6L1663.5 835.5L1652.1 834.8L1640.7 834.2L1629.2 833.3L1621.4 832.6L1617.8 832.2L1606.4 830.9L1595.0 829.9L1583.5 829.5L1572.1 830.2L1560.7 831.5L1549.3 831.4L1537.8 827.7L1530.3 821.3L1531.1 810.0L1536.5 798.7L1537.8 795.4L1541.9 787.4L1542.9 776.1L1537.9 764.8L1537.8 764.8L1526.4 762.3L1515.0 763.1L1503.5 764.2L1492.1 763.9L1488.5 753.5L1492.1 743.4L1492.6 742.2L1503.5 732.9L1505.5 730.9L1515.0 720.3L1515.3 719.6L1520.9 708.3L1526.4 700.5L1531.5 697.0L1537.8 693.4L1549.3 692.5L1560.7 696.1L1561.8 697.0L1570.5 708.3L1572.1 711.3L1577.4 719.6L1583.5 725.2L1595.0 730.1L1599.9 730.9L1606.4 731.9L1614.6 730.9L1617.8 730.2L1628.4 719.6L1629.2 715.4L1630.5 708.3L1629.6 697.0L1629.2 695.5L1626.8 685.7L1622.1 674.4L1617.8 665.9L1615.5 663.0L1610.7 651.7L1617.8 640.6L1618.0 640.4L1629.2 636.5L1640.7 633.5L1652.1 630.4L1657.7 629.1ZM1530.1 719.6L1527.2 730.9L1537.8 742.1L1538.3 742.2L1549.3 744.8L1558.3 753.5L1560.5 764.8L1560.7 768.5L1561.2 776.1L1560.7 784.5L1560.5 787.4L1557.4 798.7L1553.7 810.0L1560.7 813.1L1572.1 812.2L1583.5 811.7L1595.0 811.9L1606.4 811.8L1616.2 810.0L1617.8 809.4L1625.8 798.7L1626.3 787.4L1625.4 776.1L1622.3 764.8L1617.8 759.5L1611.1 753.5L1606.4 751.3L1595.0 746.7L1583.5 742.8L1581.2 742.2L1572.1 739.2L1564.0 730.9L1560.7 723.0L1559.4 719.6L1549.3 708.3L1537.8 709.4ZM1688.0 776.1L1686.4 778.4L1680.8 787.4L1681.7 798.7L1686.4 802.4L1697.8 806.1L1709.2 807.7L1720.7 808.8L1732.1 809.7L1736.3 810.0L1743.5 810.5L1754.9 812.2L1766.4 820.0L1767.0 821.3L1767.2 832.6L1766.4 838.5L1765.6 843.9L1765.4 855.2L1766.4 857.1L1777.8 865.7L1781.9 866.5L1789.2 867.4L1800.6 868.4L1812.1 870.8L1822.4 877.8L1823.5 879.1L1829.8 889.1L1834.9 899.8L1835.4 900.4L1846.3 909.4L1853.8 911.7L1857.8 912.4L1863.9 911.7L1869.2 910.3L1876.6 900.4L1876.9 889.1L1876.2 877.8L1875.2 866.5L1874.4 855.2L1873.5 843.9L1869.2 833.3L1868.7 832.6L1857.8 825.4L1850.2 821.3L1846.3 820.0L1834.9 816.0L1823.5 812.2L1815.5 810.0L1812.1 809.2L1800.6 806.9L1789.2 804.7L1777.8 798.7L1777.8 798.7L1766.9 787.4L1766.4 787.1L1754.9 781.6L1743.5 777.0L1741.1 776.1L1732.1 773.3L1720.7 768.9L1709.2 765.5L1697.8 768.4ZM1743.5 629.6L1754.9 632.4L1763.5 640.4L1766.4 644.5L1771.2 651.7L1772.3 663.0L1766.4 669.7L1754.9 671.9L1743.5 665.7L1741.0 663.0L1733.1 651.7L1732.7 640.4ZM1892.1 637.4L1903.5 636.0L1914.9 636.5L1926.3 638.8L1930.6 640.4L1937.8 645.6L1945.0 651.7L1949.2 656.6L1959.6 663.0L1960.6 663.5L1972.0 667.7L1983.5 670.8L1994.9 674.0L1996.0 674.4L2006.3 682.0L2009.6 685.7L2006.3 693.3L2005.0 697.0L1994.9 707.2L1993.0 708.3L1983.5 712.2L1972.0 712.1L1960.6 708.5L1960.2 708.3L1949.2 697.4L1948.9 697.0L1942.4 685.7L1937.8 679.0L1929.0 674.4L1926.3 673.4L1914.9 672.7L1903.5 673.4L1892.1 673.9L1880.6 671.9L1869.8 663.0L1870.7 651.7L1880.6 641.8L1882.7 640.4ZM2132.0 684.1L2143.4 683.1L2154.9 683.4L2166.3 684.1L2166.3 685.7L2166.3 697.0L2166.3 708.3L2166.3 719.6L2166.3 728.5L2154.9 729.6L2143.4 730.1L2132.0 728.7L2120.6 723.3L2115.8 719.6L2110.4 708.3L2111.8 697.0L2120.6 688.6L2126.6 685.7ZM1457.8 769.2L1469.3 767.2L1480.7 767.3L1484.3 776.1L1482.1 787.4L1480.7 789.8L1469.3 798.4L1457.8 794.8L1447.4 787.4L1446.5 776.1ZM1972.0 797.1L1983.5 797.3L1986.3 798.7L1994.9 804.0L2001.3 810.0L2006.3 813.9L2017.8 819.8L2022.2 821.3L2029.2 823.4L2040.6 826.5L2052.0 829.7L2063.5 832.3L2074.9 832.5L2086.3 831.7L2097.7 831.3L2109.2 832.4L2110.5 832.6L2120.6 835.0L2132.0 838.6L2143.4 840.4L2154.9 839.7L2166.3 838.5L2166.3 843.9L2166.3 855.2L2166.3 866.5L2166.3 877.8L2166.3 889.1L2166.3 900.4L2166.3 910.1L2154.9 907.4L2143.4 906.1L2132.0 909.8L2129.9 911.7L2120.6 919.6L2117.2 923.0L2109.2 932.2L2106.9 934.3L2097.7 942.4L2086.3 944.8L2074.9 943.5L2063.5 940.5L2052.0 934.8L2051.5 934.3L2044.0 923.0L2040.6 912.5L2039.7 911.7L2029.2 908.2L2017.8 911.3L2016.7 911.7L2006.3 915.3L1994.9 917.3L1983.5 914.7L1979.3 911.7L1974.2 900.4L1972.8 889.1L1972.0 882.4L1971.4 877.8L1967.3 866.5L1960.6 860.2L1955.6 855.2L1949.2 850.3L1941.4 843.9L1937.8 839.8L1927.6 832.6L1926.4 821.3L1937.8 813.3L1941.0 810.0L1949.2 805.3L1960.6 800.1L1965.2 798.7ZM2015.7 843.9L2009.3 855.2L2009.6 866.5L2017.1 877.8L2017.8 878.2L2029.2 879.8L2040.6 878.5L2047.7 877.8L2052.0 877.3L2054.6 877.8L2063.5 879.5L2074.8 889.1L2074.9 889.3L2080.1 900.4L2085.5 911.7L2086.3 912.4L2089.7 911.7L2097.7 910.7L2109.2 902.1L2110.7 900.4L2118.4 889.1L2120.6 880.3L2121.3 877.8L2120.6 873.7L2119.5 866.5L2112.1 855.2L2109.2 853.0L2097.7 847.8L2086.3 846.6L2074.9 847.0L2063.5 847.1L2052.0 845.2L2047.4 843.9L2040.6 842.5L2029.2 841.0L2017.8 842.8Z" fill="#2a0593" stroke="#2a0593" stroke-width="0.8" fill-rule="evenodd"/>
<path d="M372.3 267.4L381.2 267.4L383.7 278.5L383.7 278.7L384.8 290.0L383.7 294.6L381.7 301.3L372.9 312.6L372.3 313.2L360.9 323.6L360.9 312.6L360.9 301.3L360.9 290.0L360.9 278.7L360.9 267.4ZM1286.4 267.4L1297.9 267.4L1309.3 267.4L1320.7 267.4L1332.1 267.4L1343.6 267.4L1355.0 267.4L1366.4 267.4L1377.8 267.4L1389.3 267.4L1400.7 267.4L1412.1 267.4L1423.6 267.4L1435.0 267.4L1446.4 267.4L1457.8 267.4L1469.3 267.4L1480.7 267.4L1492.1 267.4L1503.5 267.4L1515.0 267.4L1526.4 267.4L1537.8 267.4L1549.3 267.4L1560.7 267.4L1572.1 267.4L1583.5 267.4L1595.0 267.4L1606.4 267.4L1617.8 267.4L1629.2 267.4L1640.7 267.4L1652.1 267.4L1663.5 267.4L1674.9 267.4L1686.4 267.4L1697.8 267.4L1709.2 267.4L1719.3 267.4L1719.3 278.7L1719.3 290.0L1719.3 301.3L1719.4 312.6L1720.4 323.9L1720.7 324.7L1724.6 335.2L1732.1 340.7L1743.5 341.7L1754.7 335.2L1754.9 334.7L1756.4 323.9L1755.2 312.6L1754.9 310.8L1752.6 301.3L1751.7 290.0L1752.1 278.7L1752.7 267.4L1754.9 267.4L1766.4 267.4L1771.7 267.4L1771.1 278.7L1770.9 290.0L1771.5 301.3L1773.7 312.6L1776.8 323.9L1777.8 327.2L1785.5 335.2L1789.2 338.1L1793.6 335.2L1800.6 328.1L1802.3 323.9L1804.7 312.6L1805.8 301.3L1806.1 290.0L1806.0 278.7L1805.8 267.4L1812.1 267.4L1823.5 267.4L1834.9 267.4L1846.3 267.4L1857.8 267.4L1869.2 267.4L1880.6 267.4L1892.1 267.4L1903.5 267.4L1914.9 267.4L1926.3 267.4L1937.8 267.4L1949.2 267.4L1960.6 267.4L1972.0 267.4L1983.5 267.4L1994.9 267.4L2006.3 267.4L2017.8 267.4L2029.2 267.4L2040.6 267.4L2052.0 267.4L2063.5 267.4L2074.9 267.4L2086.3 267.4L2097.7 267.4L2109.2 267.4L2120.6 267.4L2132.0 267.4L2143.4 267.4L2154.9 267.4L2166.3 267.4L2166.3 278.7L2166.3 290.0L2166.3 301.3L2166.3 312.6L2166.3 323.9L2166.3 335.2L2166.3 346.5L2166.3 357.8L2166.3 369.1L2166.3 380.4L2166.3 391.7L2166.3 403.1L2166.3 414.4L2166.3 425.7L2166.3 437.0L2166.3 448.3L2166.3 455.1L2154.9 454.3L2143.4 453.9L2132.0 455.1L2122.0 459.6L2120.6 460.9L2114.9 470.9L2115.1 482.2L2120.6 489.5L2127.5 493.5L2132.0 495.0L2143.4 496.1L2154.9 495.8L2166.3 494.9L2166.3 504.8L2166.3 516.1L2166.3 527.4L2166.3 538.7L2166.3 550.0L2166.3 561.3L2166.3 563.3L2154.9 564.8L2143.4 565.5L2132.0 563.5L2128.8 561.3L2120.6 551.5L2119.8 550.0L2115.6 538.7L2109.2 528.9L2097.7 527.5L2086.3 538.3L2086.1 538.7L2081.0 550.0L2074.9 559.9L2073.4 561.3L2063.5 567.6L2052.0 569.2L2040.6 568.9L2029.2 567.8L2017.8 566.6L2006.3 565.7L1994.9 565.3L1983.5 565.5L1972.0 566.3L1960.6 567.5L1949.2 569.0L1937.8 570.1L1926.3 570.8L1914.9 570.9L1903.5 570.1L1892.1 568.4L1880.6 565.4L1869.2 562.8L1857.8 562.4L1846.3 567.3L1841.3 572.6L1834.9 581.6L1833.4 583.9L1823.5 593.6L1819.5 595.2L1812.1 597.6L1800.6 598.4L1789.2 598.6L1777.8 599.6L1767.0 606.5L1768.5 617.8L1776.6 629.1L1777.8 630.5L1789.2 638.5L1800.6 639.4L1812.1 637.1L1823.5 635.0L1834.9 634.6L1846.3 633.8L1857.8 630.6L1861.1 629.1L1869.2 626.5L1880.6 624.0L1892.1 622.6L1903.5 622.1L1914.9 622.2L1926.3 623.0L1937.8 624.8L1949.2 628.7L1950.0 629.1L1960.6 636.9L1963.7 640.4L1972.0 648.2L1976.2 651.7L1983.5 655.2L1994.9 658.7L2006.3 661.0L2017.8 662.8L2019.4 663.0L2029.2 664.7L2040.6 666.6L2052.0 667.6L2063.5 668.0L2074.9 668.4L2086.3 668.2L2097.7 667.3L2109.2 665.7L2120.6 664.4L2132.0 663.6L2143.4 663.4L2154.9 663.5L2166.3 663.6L2166.3 674.4L2166.3 684.1L2154.9 683.4L2143.4 683.1L2132.0 684.1L2126.6 685.7L2120.6 688.6L2111.8 697.0L2110.4 708.3L2115.8 719.6L2120.6 723.3L2132.0 728.7L2143.4 730.1L2154.9 729.6L2166.3 728.5L2166.3 730.9L2166.3 742.2L2166.3 744.4L2154.9 744.7L2143.4 744.9L2132.0 744.4L2120.6 742.9L2117.6 742.2L2109.2 740.0L2097.7 736.0L2086.3 734.2L2074.9 734.3L2063.5 732.9L2059.5 730.9L2052.0 725.9L2047.1 719.6L2040.6 710.0L2038.2 708.3L2029.2 703.6L2018.9 708.3L2017.8 708.8L2006.3 719.5L2006.2 719.6L1994.9 729.1L1984.7 730.9L1983.5 731.1L1979.3 730.9L1972.0 730.6L1960.6 730.4L1958.6 730.9L1949.2 737.2L1947.4 742.2L1946.8 753.5L1948.0 764.8L1949.2 767.8L1959.8 776.1L1960.6 776.3L1966.8 776.1L1972.0 775.9L1983.5 774.5L1993.9 776.1L1994.9 776.3L2006.2 787.4L2006.3 787.5L2016.6 798.7L2017.8 799.6L2029.2 803.8L2040.6 799.2L2041.0 798.7L2045.1 787.4L2051.6 776.1L2052.0 775.7L2063.5 771.5L2074.9 775.8L2075.2 776.1L2082.3 787.4L2084.6 798.7L2086.3 803.5L2093.4 810.0L2097.7 811.1L2109.2 811.1L2117.0 810.0L2120.6 809.3L2132.0 806.7L2143.4 805.6L2154.9 806.0L2166.3 806.8L2166.3 810.0L2166.3 821.3L2166.3 832.6L2166.3 838.5L2154.9 839.7L2143.4 840.4L2132.0 838.6L2120.6 835.0L2110.5 832.6L2109.2 832.4L2097.7 831.3L2086.3 831.7L2074.9 832.5L2063.5 832.3L2052.0 829.7L2040.6 826.5L2029.2 823.4L2022.2 821.3L2017.8 819.8L2006.3 813.9L2001.3 810.0L1994.9 804.0L1986.3 798.7L1983.5 797.3L1972.0 797.1L1965.2 798.7L1960.6 800.1L1949.2 805.3L1941.0 810.0L1937.8 813.3L1926.4 821.3L1927.6 832.6L1937.8 839.8L1941.4 843.9L1949.2 850.3L1955.6 855.2L1960.6 860.2L1967.3 866.5L1971.4 877.8L1972.0 882.4L1972.8 889.1L1974.2 900.4L1979.3 911.7L1983.5 914.7L1994.9 917.3L2006.3 915.3L2016.7 911.7L2017.8 911.3L2029.2 908.2L2039.7 911.7L2040.6 912.5L2044.0 923.0L2051.5 934.3L2052.0 934.8L2063.5 940.5L2074.9 943.5L2086.3 944.8L2097.7 942.4L2106.9 934.3L2109.2 932.2L2117.2 923.0L2120.6 919.6L2129.9 911.7L2132.0 909.8L2143.4 906.1L2154.9 907.4L2166.3 910.1L2166.3 911.7L2166.3 923.0L2166.3 934.3L2166.3 945.7L2166.3 957.0L2166.3 961.1L2154.9 958.3L2144.0 957.0L2143.4 956.9L2143.3 957.0L2132.0 960.8L2124.4 968.3L2120.6 970.5L2109.2 979.2L2108.6 979.6L2097.7 984.0L2086.3 984.4L2078.3 979.6L2074.9 974.7L2071.0 968.3L2063.5 963.8L2052.0 961.0L2041.6 957.0L2040.6 956.6L2029.2 945.7L2029.1 945.7L2017.8 936.6L2008.0 934.3L2006.3 934.1L1994.9 933.3L1983.5 932.9L1972.0 931.8L1960.6 928.1L1953.8 923.0L1949.2 914.7L1947.2 911.7L1942.0 900.4L1937.8 891.7L1929.7 889.1L1926.3 888.2L1925.8 889.1L1922.4 900.4L1918.7 911.7L1914.9 915.8L1910.0 923.0L1903.5 926.1L1892.1 930.1L1880.6 932.8L1871.9 934.3L1869.2 934.7L1857.8 936.1L1846.3 936.8L1834.9 936.4L1823.5 934.7L1821.6 934.3L1812.1 931.5L1800.6 928.0L1789.2 925.9L1777.8 927.0L1766.4 931.2L1758.6 934.3L1754.9 935.6L1743.5 937.1L1733.0 934.3L1732.1 934.0L1720.7 923.6L1720.4 923.0L1717.6 911.7L1716.5 900.4L1714.3 889.1L1709.2 879.0L1708.5 877.8L1697.8 867.1L1696.9 866.5L1686.4 859.9L1674.9 855.8L1672.2 855.2L1663.5 853.1L1652.1 851.2L1640.7 849.7L1629.2 848.1L1617.8 846.5L1606.4 844.9L1599.2 843.9L1595.0 843.3L1583.5 842.1L1572.1 841.6L1560.7 841.5L1549.3 840.9L1537.8 838.7L1526.4 834.2L1523.7 832.6L1515.0 821.7L1514.7 821.3L1515.0 819.6L1516.3 810.0L1522.0 798.7L1525.9 787.4L1515.0 777.9L1503.5 780.3L1497.0 787.4L1492.1 796.8L1491.1 798.7L1480.7 807.4L1469.3 808.7L1457.8 806.0L1446.4 801.1L1441.2 798.7L1435.0 794.2L1423.6 789.2L1412.8 787.4L1412.1 787.1L1411.0 787.4L1400.7 788.3L1389.3 790.8L1377.8 792.6L1366.4 792.7L1355.0 790.7L1343.8 787.4L1343.6 787.3L1332.1 781.9L1322.0 776.1L1320.7 774.9L1311.4 764.8L1309.3 761.2L1297.9 753.5L1286.4 763.4L1285.5 764.8L1275.0 771.6L1263.6 775.2L1252.2 775.5L1240.7 773.8L1229.3 770.9L1217.9 768.2L1206.4 766.2L1199.0 764.8L1195.0 763.8L1183.6 758.6L1177.5 753.5L1172.2 748.3L1165.5 742.2L1160.7 737.6L1149.3 734.4L1137.9 737.3L1126.5 741.8L1125.2 742.2L1115.0 744.1L1103.6 745.1L1092.2 745.9L1080.8 747.0L1069.3 747.7L1057.9 747.5L1046.5 745.5L1037.1 742.2L1035.0 741.2L1023.6 734.7L1016.1 730.9L1012.2 728.0L1000.8 719.8L1000.6 719.6L989.3 710.1L987.1 708.3L977.9 703.6L966.5 700.0L957.5 697.0L955.1 695.8L944.5 685.7L948.6 674.4L955.1 670.8L966.5 670.2L977.9 671.8L989.3 673.6L1000.8 672.2L1010.2 663.0L1010.5 651.7L1002.1 640.4L1000.8 639.6L989.3 634.0L977.9 630.4L972.4 629.1L966.5 628.0L955.1 626.1L943.6 624.4L932.2 622.8L920.8 622.3L909.3 624.7L898.7 629.1L897.9 629.5L886.5 631.7L879.4 629.1L875.1 625.4L872.3 617.8L872.1 606.5L874.6 595.2L875.1 594.1L879.6 583.9L885.4 572.6L886.5 570.4L892.3 561.3L897.9 553.3L904.4 550.0L909.3 545.6L920.8 540.0L922.3 538.7L920.8 536.4L909.3 530.9L897.9 532.7L886.5 530.4L883.0 527.4L875.1 522.1L869.5 516.1L863.6 505.7L863.2 504.8L862.9 493.5L863.1 482.2L856.5 470.9L852.2 468.4L840.8 462.7L833.2 459.6L829.4 458.2L817.9 453.5L808.5 448.3L806.5 446.7L795.1 438.0L792.9 437.0L783.7 434.5L772.2 434.5L760.8 436.9L760.7 437.0L752.0 448.3L753.0 459.6L757.6 470.9L760.6 482.2L752.4 493.5L749.4 494.9L737.9 503.5L736.7 504.8L726.5 510.6L715.1 514.9L703.7 515.6L692.2 512.2L681.1 504.8L680.8 504.4L669.4 494.2L658.0 496.1L646.5 500.7L635.1 504.6L634.0 504.8L623.7 506.4L612.3 506.0L608.8 504.8L600.8 499.1L597.1 493.5L591.1 482.2L589.4 480.3L580.4 470.9L578.0 469.1L567.5 459.6L566.5 458.3L562.1 448.3L559.6 437.0L556.1 425.7L555.1 424.4L543.7 420.3L532.3 419.7L520.8 419.4L509.4 418.7L498.0 416.3L489.6 414.4L486.6 413.5L475.1 412.7L463.7 412.8L452.3 412.9L440.8 412.8L429.4 412.4L418.0 411.8L406.6 411.3L395.1 410.9L383.7 410.8L372.3 410.8L360.9 410.8L360.9 403.1L360.9 400.8L372.3 400.8L383.7 400.8L395.1 400.4L406.6 399.5L418.0 398.1L429.4 396.7L440.8 396.1L452.3 396.0L463.7 394.9L475.1 391.9L475.9 391.7L486.6 388.9L498.0 389.8L500.3 391.7L509.4 401.3L510.4 403.1L520.8 408.9L532.3 411.1L543.7 409.4L554.8 403.1L555.1 402.8L566.5 397.0L578.0 397.9L585.7 403.1L582.9 414.4L578.0 419.7L573.5 425.7L569.6 437.0L572.1 448.3L578.0 456.0L582.6 459.6L589.4 464.2L599.0 470.9L600.8 473.0L610.2 482.2L612.3 484.6L623.7 489.0L635.1 487.1L644.4 482.2L646.5 481.0L658.0 471.4L658.7 470.9L669.4 462.3L680.8 461.7L688.8 470.9L692.2 480.0L693.0 482.2L696.9 493.5L703.7 500.5L715.1 500.1L723.1 493.5L726.5 487.5L729.0 482.2L730.8 470.9L730.8 459.6L730.1 448.3L729.3 437.0L728.0 425.7L737.9 423.0L749.4 423.4L760.8 423.5L772.2 423.4L783.7 422.9L795.1 422.1L806.5 422.7L810.5 425.7L817.9 432.8L821.1 437.0L829.4 442.5L840.8 447.7L843.1 448.3L852.2 450.5L863.6 452.5L875.1 454.5L886.5 456.8L896.7 459.6L897.9 460.0L909.3 466.2L912.9 470.9L918.1 482.2L920.8 487.8L922.6 493.5L929.8 504.8L932.2 507.0L942.4 516.1L943.6 517.1L955.1 524.0L966.5 527.0L969.6 527.4L977.9 528.9L989.3 530.9L1000.8 533.3L1012.2 534.8L1023.6 535.1L1035.0 534.3L1046.5 533.4L1057.9 533.5L1068.1 538.7L1069.3 540.5L1073.4 550.0L1079.1 561.3L1080.8 563.7L1087.1 572.6L1089.8 583.9L1086.5 595.2L1080.9 606.5L1080.8 606.7L1073.8 617.8L1069.3 622.9L1058.8 629.1L1057.9 629.6L1046.5 631.4L1037.9 629.1L1035.0 619.0L1035.0 617.8L1035.0 617.5L1036.8 606.5L1039.0 595.2L1039.0 583.9L1035.0 577.9L1029.8 572.6L1023.6 569.1L1012.2 566.5L1000.8 566.5L989.3 567.4L977.9 567.9L966.5 567.3L955.1 565.9L943.6 564.5L932.2 564.3L920.8 566.0L909.3 570.9L907.3 572.6L899.6 583.9L897.9 592.2L897.3 595.2L897.9 597.3L909.3 604.2L920.8 606.0L922.4 606.5L932.2 608.5L943.6 611.6L955.1 614.8L966.5 617.8L966.6 617.8L977.9 619.6L989.3 621.8L1000.8 624.8L1012.2 628.3L1016.5 629.1L1023.6 632.0L1032.5 640.4L1034.4 651.7L1035.0 653.6L1039.3 663.0L1046.5 672.9L1048.6 674.4L1055.2 685.7L1046.5 692.7L1043.0 697.0L1035.4 708.3L1037.2 719.6L1046.5 728.3L1050.6 730.9L1057.9 733.2L1069.3 733.7L1080.8 732.3L1087.8 730.9L1092.2 729.6L1103.6 726.3L1115.0 722.7L1122.4 719.6L1126.5 718.1L1137.9 712.4L1144.0 708.3L1149.3 702.3L1153.3 697.0L1158.7 685.7L1160.7 682.8L1167.6 674.4L1172.2 669.6L1177.3 663.0L1183.6 653.0L1184.4 651.7L1191.5 640.4L1195.0 635.6L1200.8 629.1L1206.4 622.5L1210.7 617.8L1217.9 609.2L1221.7 606.5L1229.3 600.8L1240.7 604.1L1242.9 606.5L1250.1 617.8L1252.2 624.9L1253.7 629.1L1252.2 639.3L1252.0 640.4L1241.1 651.7L1240.7 652.0L1229.3 659.7L1225.5 663.0L1217.9 670.7L1214.6 674.4L1206.4 685.4L1206.2 685.7L1195.9 697.0L1195.0 697.9L1183.7 708.3L1183.6 708.5L1178.7 719.6L1183.0 730.9L1183.6 731.6L1194.2 742.2L1195.0 742.8L1206.4 746.6L1217.9 748.7L1228.7 753.5L1229.3 753.7L1240.7 760.1L1250.8 764.8L1252.2 765.1L1260.2 764.8L1263.6 764.5L1274.8 753.5L1273.3 742.2L1263.6 736.3L1252.2 733.1L1247.4 730.9L1242.7 719.6L1252.2 710.5L1258.8 708.3L1263.6 707.5L1266.5 708.3L1275.0 712.2L1284.0 719.6L1286.4 722.8L1297.9 729.3L1302.4 730.9L1309.3 733.5L1318.5 742.2L1320.7 746.3L1323.5 753.5L1329.8 764.8L1332.1 767.1L1343.6 774.8L1346.4 776.1L1355.0 778.8L1366.4 780.0L1377.8 776.6L1378.7 776.1L1382.7 764.8L1383.4 753.5L1389.3 742.2L1389.3 742.2L1400.7 736.2L1412.1 735.0L1423.6 735.5L1435.0 735.3L1446.4 732.7L1451.6 730.9L1457.8 728.4L1469.3 721.9L1471.3 719.6L1472.8 708.3L1471.3 697.0L1471.2 685.7L1480.7 677.5L1491.1 674.4L1492.1 674.1L1503.5 671.4L1515.0 665.0L1516.9 663.0L1524.0 651.7L1524.1 640.4L1515.0 631.8L1504.1 629.1L1503.5 629.0L1499.9 629.1L1492.1 629.4L1480.7 630.5L1469.3 630.3L1463.5 629.1L1457.8 628.1L1446.4 626.3L1435.0 625.9L1423.6 627.1L1413.9 629.1L1412.1 629.6L1400.7 632.1L1389.3 632.9L1377.8 632.4L1366.4 632.3L1355.0 633.4L1343.6 634.9L1332.1 635.7L1320.7 634.4L1309.3 629.9L1308.3 629.1L1300.2 617.8L1297.9 614.3L1294.5 606.5L1289.1 595.2L1286.4 589.7L1283.8 583.9L1277.6 572.6L1275.0 569.3L1263.6 563.0L1252.2 563.0L1240.7 563.8L1232.6 561.3L1229.3 560.3L1217.9 550.7L1217.2 550.0L1206.8 538.7L1206.4 538.3L1195.0 531.0L1183.6 530.3L1172.2 533.9L1165.1 538.7L1160.7 543.9L1153.6 550.0L1149.3 553.0L1137.9 551.3L1135.0 550.0L1126.5 545.8L1116.9 538.7L1115.0 537.4L1103.6 530.7L1094.2 527.4L1092.2 526.7L1080.8 521.1L1078.0 516.1L1076.3 504.8L1075.8 493.5L1074.9 482.2L1071.0 470.9L1069.3 468.6L1057.9 461.1L1046.5 459.6L1045.1 459.6L1035.0 459.2L1023.6 449.5L1023.1 448.3L1018.1 437.0L1012.2 431.7L1000.8 428.7L989.3 427.1L985.0 425.7L977.9 422.1L972.4 414.4L966.9 403.1L966.5 402.4L955.1 392.1L954.4 391.7L943.6 385.7L937.7 380.4L934.3 369.1L938.2 357.8L943.6 352.8L955.1 347.6L960.9 346.5L966.5 345.7L973.7 346.5L977.9 347.3L989.3 354.0L997.9 357.8L1000.8 358.8L1012.2 361.4L1023.6 364.2L1033.0 369.1L1035.0 371.4L1042.6 380.4L1046.5 385.5L1057.9 389.4L1069.3 383.3L1071.3 380.4L1077.0 369.1L1080.8 363.9L1089.0 357.8L1092.2 356.6L1103.6 354.2L1115.0 353.0L1126.5 353.3L1134.8 357.8L1137.9 361.7L1141.0 369.1L1146.6 380.4L1149.3 383.7L1160.7 389.1L1172.2 389.4L1183.6 389.7L1190.7 391.7L1195.0 393.3L1206.4 401.8L1208.0 403.1L1217.9 412.4L1221.1 414.4L1229.3 420.3L1240.7 425.5L1241.1 425.7L1252.2 432.0L1259.0 437.0L1263.6 441.1L1272.8 448.3L1275.0 449.6L1286.4 454.3L1297.9 458.3L1300.1 459.6L1309.3 466.1L1313.3 470.9L1320.7 481.2L1321.4 482.2L1332.1 492.3L1333.4 493.5L1343.6 504.1L1344.1 504.8L1351.5 516.1L1355.0 520.8L1366.4 527.4L1377.8 525.8L1386.6 516.1L1387.7 504.8L1385.3 493.5L1382.6 482.2L1382.3 470.9L1388.0 459.6L1389.3 458.3L1400.7 457.5L1403.0 459.6L1412.1 466.0L1417.1 470.9L1423.6 477.5L1429.1 482.2L1435.0 487.8L1444.8 493.5L1446.4 494.6L1457.8 500.6L1464.7 504.8L1469.3 508.3L1478.0 516.1L1480.7 518.5L1490.5 527.4L1492.1 528.9L1501.5 538.7L1503.5 541.2L1510.0 550.0L1515.0 555.2L1525.1 561.3L1526.4 561.9L1537.8 563.2L1543.8 561.3L1549.3 559.1L1556.9 550.0L1560.7 543.4L1563.4 538.7L1572.1 529.7L1578.9 527.4L1583.5 526.1L1595.0 526.0L1606.4 527.3L1606.9 527.4L1617.8 528.6L1629.2 528.9L1640.7 528.0L1644.1 527.4L1652.1 525.8L1663.5 521.4L1672.2 516.1L1674.9 514.0L1686.4 507.0L1693.9 504.8L1697.8 502.7L1705.8 504.8L1709.2 505.4L1720.7 514.3L1722.2 516.1L1732.1 522.8L1743.5 527.3L1754.9 524.8L1766.4 520.7L1777.8 518.6L1789.2 519.2L1800.6 522.4L1812.1 527.3L1812.7 527.4L1823.5 529.7L1827.7 527.4L1834.0 516.1L1832.4 504.8L1823.8 493.5L1823.5 493.3L1812.1 485.5L1807.9 482.2L1800.6 474.5L1797.1 470.9L1789.2 462.7L1781.1 459.6L1777.8 458.5L1766.4 458.0L1754.9 459.0L1751.1 459.6L1743.5 460.9L1732.1 464.1L1721.1 470.9L1720.7 471.5L1719.8 470.9L1718.0 459.6L1717.0 448.3L1713.5 437.0L1709.2 429.9L1707.3 425.7L1702.5 414.4L1699.3 403.1L1697.8 396.5L1696.2 391.7L1689.7 380.4L1686.4 377.4L1674.9 378.4L1672.8 380.4L1663.8 391.7L1663.5 392.4L1660.2 403.1L1658.3 414.4L1656.4 425.7L1652.1 437.0L1652.1 437.0L1640.7 440.7L1635.0 437.0L1629.2 434.7L1617.8 428.4L1613.1 425.7L1606.4 421.4L1598.9 414.4L1595.0 406.7L1593.2 403.1L1588.2 391.7L1583.5 387.7L1572.1 384.9L1560.7 385.1L1549.3 385.7L1537.8 384.5L1528.7 380.4L1526.4 379.4L1515.0 373.2L1503.5 372.9L1495.3 380.4L1492.1 382.5L1480.7 387.8L1469.3 388.5L1457.8 381.7L1457.0 380.4L1451.9 369.1L1446.4 359.4L1445.0 357.8L1435.0 351.0L1423.6 347.3L1421.0 346.5L1412.1 343.1L1400.7 335.3L1400.6 335.2L1389.3 327.4L1381.3 323.9L1377.8 322.9L1366.4 318.9L1355.0 313.1L1354.0 312.6L1343.6 305.2L1332.1 302.2L1327.4 312.6L1324.3 323.9L1321.7 335.2L1320.7 337.9L1316.5 346.5L1309.3 353.1L1297.9 353.8L1292.1 346.5L1288.4 335.2L1286.4 326.9L1285.9 323.9L1283.1 312.6L1279.0 301.3L1276.6 290.0L1277.7 278.7L1279.3 267.4ZM1434.3 278.7L1433.6 290.0L1435.0 299.4L1438.2 290.0L1436.7 278.7L1435.0 272.3ZM1528.2 323.9L1526.4 327.0L1523.5 335.2L1526.4 344.3L1527.1 346.5L1537.8 357.7L1538.1 357.8L1549.3 361.6L1560.7 361.6L1572.1 360.1L1583.5 358.8L1595.0 358.1L1597.4 357.8L1606.4 356.9L1617.8 353.1L1625.1 346.5L1628.2 335.2L1623.5 323.9L1617.8 319.4L1606.4 316.1L1595.0 316.0L1583.5 317.1L1572.1 317.6L1560.7 317.1L1549.3 316.8L1537.8 318.5ZM2048.8 335.2L2040.6 341.6L2033.4 346.5L2029.2 348.9L2017.8 352.2L2006.3 353.7L1994.9 354.9L1983.5 356.2L1975.0 357.8L1972.0 358.9L1960.6 366.6L1958.5 369.1L1960.6 374.8L1963.6 380.4L1972.0 384.4L1983.5 387.2L1994.9 388.2L2006.3 387.7L2017.8 386.4L2029.2 384.8L2040.6 382.9L2049.1 380.4L2052.0 379.1L2063.5 369.8L2063.9 369.1L2069.4 357.8L2071.9 346.5L2068.9 335.2L2063.5 330.9L2052.0 332.7ZM2132.8 369.1L2140.3 380.4L2143.4 381.3L2152.1 380.4L2154.9 379.1L2164.0 369.1L2154.9 366.4L2143.4 364.7ZM1875.2 425.7L1869.2 435.9L1868.8 437.0L1869.2 441.2L1870.1 448.3L1880.6 457.3L1892.1 457.6L1903.5 450.9L1905.7 448.3L1908.5 437.0L1903.5 425.7L1903.4 425.7L1892.1 420.7L1880.6 422.0ZM1982.1 493.5L1976.8 504.8L1978.7 516.1L1983.5 523.6L1994.9 527.3L2006.3 516.1L2006.3 516.1L2008.4 504.8L2006.3 497.2L2003.3 493.5L1994.9 489.7L1983.5 492.3ZM1876.6 504.8L1872.4 516.1L1872.4 527.4L1878.9 538.7L1880.6 539.9L1892.1 546.7L1899.1 550.0L1903.5 551.6L1914.9 554.2L1926.3 554.7L1937.8 553.1L1948.8 550.0L1949.2 549.8L1960.6 541.3L1962.8 538.7L1962.6 527.4L1960.6 519.3L1959.7 516.1L1954.1 504.8L1949.2 498.8L1937.8 495.3L1926.3 494.7L1914.9 494.1L1903.5 493.9L1892.1 495.1L1880.6 500.4ZM2030.1 504.8L2029.2 505.6L2024.6 516.1L2021.2 527.4L2020.5 538.7L2029.2 546.8L2035.8 550.0L2040.6 551.3L2052.0 551.9L2057.1 550.0L2063.5 545.6L2067.6 538.7L2070.6 527.4L2071.1 516.1L2064.4 504.8L2063.5 504.0L2052.0 498.7L2040.6 498.5ZM1769.5 538.7L1766.4 543.8L1763.1 550.0L1766.4 559.3L1768.3 561.3L1777.8 564.7L1789.2 562.9L1792.6 561.3L1800.6 555.1L1804.5 550.0L1800.6 541.9L1798.8 538.7L1789.2 534.2L1777.8 534.3ZM1696.2 572.6L1695.7 583.9L1697.8 587.6L1704.6 595.2L1709.2 598.1L1720.7 598.9L1727.1 595.2L1732.1 589.3L1734.6 583.9L1734.0 572.6L1732.1 569.2L1720.7 561.4L1709.2 562.1L1697.8 570.2ZM1657.7 629.1L1652.1 630.4L1640.7 633.5L1629.2 636.5L1618.0 640.4L1617.8 640.6L1610.7 651.7L1615.5 663.0L1617.8 665.9L1622.1 674.4L1626.8 685.7L1629.2 695.5L1629.6 697.0L1630.5 708.3L1629.2 715.4L1628.4 719.6L1617.8 730.2L1614.6 730.9L1606.4 731.9L1599.9 730.9L1595.0 730.1L1583.5 725.2L1577.4 719.6L1572.1 711.3L1570.5 708.3L1561.8 697.0L1560.7 696.1L1549.3 692.5L1537.8 693.4L1531.5 697.0L1526.4 700.5L1520.9 708.3L1515.3 719.6L1515.0 720.3L1505.5 730.9L1503.5 732.9L1492.6 742.2L1492.1 743.4L1488.5 753.5L1492.1 763.9L1503.5 764.2L1515.0 763.1L1526.4 762.3L1537.8 764.8L1537.9 764.8L1542.9 776.1L1541.9 787.4L1537.8 795.4L1536.5 798.7L1531.1 810.0L1530.3 821.3L1537.8 827.7L1549.3 831.4L1560.7 831.5L1572.1 830.2L1583.5 829.5L1595.0 829.9L1606.4 830.9L1617.8 832.2L1621.4 832.6L1629.2 833.3L1640.7 834.2L1652.1 834.8L1663.5 835.5L1674.9 836.6L1686.4 839.3L1696.3 843.9L1697.8 844.6L1709.2 852.0L1713.2 855.2L1720.7 863.5L1722.4 866.5L1727.2 877.8L1729.6 889.1L1731.5 900.4L1732.1 902.4L1739.3 911.7L1743.5 914.3L1754.9 911.9L1755.2 911.7L1763.1 900.4L1766.4 895.0L1770.0 889.1L1777.8 884.0L1789.2 882.5L1800.6 885.9L1805.0 889.1L1811.2 900.4L1812.1 903.1L1815.4 911.7L1823.5 919.0L1830.8 923.0L1834.9 924.2L1846.3 926.1L1857.8 926.6L1869.2 925.7L1880.6 923.8L1883.3 923.0L1892.1 916.9L1896.6 911.7L1898.6 900.4L1898.1 889.1L1898.2 877.8L1899.5 866.5L1902.6 855.2L1903.5 853.0L1909.3 843.9L1914.9 834.8L1922.6 832.6L1926.1 821.3L1914.9 819.9L1903.5 812.1L1900.6 810.0L1892.1 805.9L1880.6 802.8L1869.2 801.3L1857.8 799.9L1851.7 798.7L1846.3 797.6L1834.9 794.0L1823.5 789.6L1816.8 787.4L1812.1 784.1L1800.6 780.2L1789.2 777.8L1784.1 776.1L1777.8 774.7L1766.4 771.6L1754.9 768.5L1744.3 764.8L1743.5 764.4L1732.1 757.2L1727.3 753.5L1720.7 743.8L1719.1 742.2L1710.4 730.9L1709.2 729.7L1698.8 719.6L1697.8 718.8L1686.4 709.5L1684.9 708.3L1674.9 698.9L1673.0 697.0L1668.5 685.7L1672.9 674.4L1674.9 672.3L1683.5 663.0L1686.4 659.8L1693.0 651.7L1693.6 640.4L1686.4 632.1L1679.6 629.1L1674.9 627.6L1663.5 627.9ZM1732.7 640.4L1733.1 651.7L1741.0 663.0L1743.5 665.7L1754.9 671.9L1766.4 669.7L1772.3 663.0L1771.2 651.7L1766.4 644.5L1763.5 640.4L1754.9 632.4L1743.5 629.6ZM1882.7 640.4L1880.6 641.8L1870.7 651.7L1869.8 663.0L1880.6 671.9L1892.1 673.9L1903.5 673.4L1914.9 672.7L1926.3 673.4L1929.0 674.4L1937.8 679.0L1942.4 685.7L1948.9 697.0L1949.2 697.4L1960.2 708.3L1960.6 708.5L1972.0 712.1L1983.5 712.2L1993.0 708.3L1994.9 707.2L2005.0 697.0L2006.3 693.3L2009.6 685.7L2006.3 682.0L1996.0 674.4L1994.9 674.0L1983.5 670.8L1972.0 667.7L1960.6 663.5L1959.6 663.0L1949.2 656.6L1945.0 651.7L1937.8 645.6L1930.6 640.4L1926.3 638.8L1914.9 636.5L1903.5 636.0L1892.1 637.4ZM1696.7 674.4L1691.9 685.7L1697.8 695.7L1698.9 697.0L1709.2 703.5L1720.7 707.1L1732.1 704.5L1736.9 697.0L1734.9 685.7L1732.1 681.9L1726.6 674.4L1720.7 668.4L1709.2 665.9L1697.8 673.3ZM1881.9 697.0L1880.6 697.2L1869.2 699.5L1857.8 701.0L1846.3 701.0L1834.9 699.9L1823.5 698.4L1812.1 697.5L1800.6 697.5L1789.2 698.8L1777.8 702.2L1766.4 707.5L1764.7 708.3L1754.9 714.3L1748.4 719.6L1743.5 725.5L1741.5 730.9L1741.5 742.2L1743.5 745.4L1750.8 753.5L1754.9 755.3L1766.4 757.1L1777.8 756.0L1783.9 753.5L1789.2 750.0L1800.6 742.7L1802.1 742.2L1812.1 738.7L1823.5 739.9L1826.9 742.2L1834.9 749.9L1837.3 753.5L1843.2 764.8L1846.3 769.0L1857.8 775.7L1869.2 775.5L1880.6 769.0L1883.4 764.8L1888.1 753.5L1892.1 746.3L1894.2 742.2L1903.5 731.4L1904.2 730.9L1914.9 723.2L1922.4 719.6L1926.3 709.9L1926.7 708.3L1926.3 707.5L1918.7 697.0L1914.9 694.9L1903.5 693.9L1892.1 695.2ZM1446.5 776.1L1447.4 787.4L1457.8 794.8L1469.3 798.4L1480.7 789.8L1482.1 787.4L1484.3 776.1L1480.7 767.3L1469.3 767.2L1457.8 769.2ZM623.7 356.4L635.1 354.6L639.5 357.8L646.5 364.3L648.6 369.1L652.9 380.4L656.6 391.7L658.0 400.2L658.6 403.1L658.0 404.5L648.6 414.4L646.5 415.0L637.1 414.4L635.1 414.2L623.7 407.4L618.5 403.1L613.2 391.7L612.5 380.4L614.8 369.1L622.1 357.8ZM715.1 404.4L726.5 413.3L727.1 414.4L726.5 420.3L715.1 419.6L706.3 414.4Z" fill="#5601a4" stroke="#5601a4" stroke-width="0.8" fill-rule="evenodd"/>
<path d="M1435.0 272.3L1436.7 278.7L1438.2 290.0L1435.0 299.4L1433.6 290.0L1434.3 278.7ZM1777.8 267.4L1789.2 267.4L1800.6 267.4L1805.8 267.4L1806.0 278.7L1806.1 290.0L1805.8 301.3L1804.7 312.6L1802.3 323.9L1800.6 328.1L1793.6 335.2L1789.2 338.1L1785.5 335.2L1777.8 327.2L1776.8 323.9L1773.7 312.6L1771.5 301.3L1770.9 290.0L1771.1 278.7L1771.7 267.4ZM1537.8 318.5L1549.3 316.8L1560.7 317.1L1572.1 317.6L1583.5 317.1L1595.0 316.0L1606.4 316.1L1617.8 319.4L1623.5 323.9L1628.2 335.2L1625.1 346.5L1617.8 353.1L1606.4 356.9L1597.4 357.8L1595.0 358.1L1583.5 358.8L1572.1 360.1L1560.7 361.6L1549.3 361.6L1538.1 357.8L1537.8 357.7L1527.1 346.5L1526.4 344.3L1523.5 335.2L1526.4 327.0L1528.2 323.9ZM372.3 410.8L383.7 410.8L395.1 410.9L406.6 411.3L418.0 411.8L429.4 412.4L440.8 412.8L452.3 412.9L463.7 412.8L475.1 412.7L486.6 413.5L489.6 414.4L498.0 416.3L509.4 418.7L520.8 419.4L532.3 419.7L543.7 420.3L555.1 424.4L556.1 425.7L559.6 437.0L562.1 448.3L566.5 458.3L567.5 459.6L578.0 469.1L580.4 470.9L589.4 480.3L591.1 482.2L597.1 493.5L600.8 499.1L608.8 504.8L612.3 506.0L623.7 506.4L634.0 504.8L635.1 504.6L646.5 500.7L658.0 496.1L669.4 494.2L680.8 504.4L681.1 504.8L692.2 512.2L703.7 515.6L715.1 514.9L726.5 510.6L736.7 504.8L737.9 503.5L749.4 494.9L752.4 493.5L760.6 482.2L757.6 470.9L753.0 459.6L752.0 448.3L760.7 437.0L760.8 436.9L772.2 434.5L783.7 434.5L792.9 437.0L795.1 438.0L806.5 446.7L808.5 448.3L817.9 453.5L829.4 458.2L833.2 459.6L840.8 462.7L852.2 468.4L856.5 470.9L863.1 482.2L862.9 493.5L863.2 504.8L863.6 505.7L869.5 516.1L875.1 522.1L883.0 527.4L886.5 530.4L897.9 532.7L909.3 530.9L920.8 536.4L922.3 538.7L920.8 540.0L909.3 545.6L904.4 550.0L897.9 553.3L892.3 561.3L886.5 570.4L885.4 572.6L879.6 583.9L875.1 594.1L874.6 595.2L872.1 606.5L872.3 617.8L875.1 625.4L879.4 629.1L886.5 631.7L897.9 629.5L898.7 629.1L909.3 624.7L920.8 622.3L932.2 622.8L943.6 624.4L955.1 626.1L966.5 628.0L972.4 629.1L977.9 630.4L989.3 634.0L1000.8 639.6L1002.1 640.4L1010.5 651.7L1010.2 663.0L1000.8 672.2L989.3 673.6L977.9 671.8L966.5 670.2L955.1 670.8L948.6 674.4L944.5 685.7L955.1 695.8L957.5 697.0L966.5 700.0L977.9 703.6L987.1 708.3L989.3 710.1L1000.6 719.6L1000.8 719.8L1012.2 728.0L1016.1 730.9L1023.6 734.7L1035.0 741.2L1037.1 742.2L1046.5 745.5L1057.9 747.5L1069.3 747.7L1080.8 747.0L1092.2 745.9L1103.6 745.1L1115.0 744.1L1125.2 742.2L1126.5 741.8L1137.9 737.3L1149.3 734.4L1160.7 737.6L1165.5 742.2L1172.2 748.3L1177.5 753.5L1183.6 758.6L1195.0 763.8L1199.0 764.8L1206.4 766.2L1217.9 768.2L1229.3 770.9L1240.7 773.8L1252.2 775.5L1263.6 775.2L1275.0 771.6L1285.5 764.8L1286.4 763.4L1297.9 753.5L1309.3 761.2L1311.4 764.8L1320.7 774.9L1322.0 776.1L1332.1 781.9L1343.6 787.3L1343.8 787.4L1355.0 790.7L1366.4 792.7L1377.8 792.6L1389.3 790.8L1400.7 788.3L1411.0 787.4L1412.1 787.1L1412.8 787.4L1423.6 789.2L1435.0 794.2L1441.2 798.7L1446.4 801.1L1457.8 806.0L1469.3 808.7L1480.7 807.4L1491.1 798.7L1492.1 796.8L1497.0 787.4L1503.5 780.3L1515.0 777.9L1525.9 787.4L1522.0 798.7L1516.3 810.0L1515.0 819.6L1514.7 821.3L1515.0 821.7L1523.7 832.6L1526.4 834.2L1537.8 838.7L1549.3 840.9L1560.7 841.5L1572.1 841.6L1583.5 842.1L1595.0 843.3L1599.2 843.9L1606.4 844.9L1617.8 846.5L1629.2 848.1L1640.7 849.7L1652.1 851.2L1663.5 853.1L1672.2 855.2L1674.9 855.8L1686.4 859.9L1696.9 866.5L1697.8 867.1L1708.5 877.8L1709.2 879.0L1714.3 889.1L1716.5 900.4L1717.6 911.7L1720.4 923.0L1720.7 923.6L1732.1 934.0L1733.0 934.3L1743.5 937.1L1754.9 935.6L1758.6 934.3L1766.4 931.2L1777.8 927.0L1789.2 925.9L1800.6 928.0L1812.1 931.5L1821.6 934.3L1823.5 934.7L1834.9 936.4L1846.3 936.8L1857.8 936.1L1869.2 934.7L1871.9 934.3L1880.6 932.8L1892.1 930.1L1903.5 926.1L1910.0 923.0L1914.9 915.8L1918.7 911.7L1922.4 900.4L1925.8 889.1L1926.3 888.2L1929.7 889.1L1937.8 891.7L1942.0 900.4L1947.2 911.7L1949.2 914.7L1953.8 923.0L1960.6 928.1L1972.0 931.8L1983.5 932.9L1994.9 933.3L2006.3 934.1L2008.0 934.3L2017.8 936.6L2029.1 945.7L2029.2 945.7L2040.6 956.6L2041.6 957.0L2052.0 961.0L2063.5 963.8L2071.0 968.3L2074.9 974.7L2078.3 979.6L2086.3 984.4L2097.7 984.0L2108.6 979.6L2109.2 979.2L2120.6 970.5L2124.4 968.3L2132.0 960.8L2143.3 957.0L2143.4 956.9L2144.0 957.0L2154.9 958.3L2166.3 961.1L2166.3 968.3L2166.3 979.6L2166.3 989.7L2154.9 988.6L2143.4 988.1L2132.0 989.6L2128.9 990.9L2120.6 993.2L2109.2 998.2L2101.0 1002.2L2097.7 1003.6L2086.3 1006.7L2074.9 1007.6L2063.5 1006.3L2052.0 1003.5L2048.8 1002.2L2040.6 997.7L2032.6 990.9L2029.2 986.4L2026.2 979.6L2022.3 968.3L2017.8 959.5L2016.4 957.0L2006.3 947.8L2000.0 945.7L1994.9 944.3L1983.5 944.3L1975.6 945.7L1972.0 946.4L1960.6 950.0L1949.2 950.4L1938.5 945.7L1937.8 945.3L1926.3 938.9L1914.9 937.1L1903.5 937.5L1892.1 938.4L1880.6 939.9L1869.2 941.9L1857.8 944.3L1849.4 945.7L1846.3 946.3L1834.9 946.8L1824.7 945.7L1823.5 945.5L1812.1 943.1L1800.6 940.7L1789.2 939.7L1777.8 941.2L1767.1 945.7L1766.4 946.0L1754.9 951.9L1743.5 954.1L1732.1 950.2L1725.4 945.7L1720.7 942.4L1713.2 934.3L1709.2 926.7L1707.9 923.0L1706.3 911.7L1705.1 900.4L1701.5 889.1L1697.8 883.8L1691.6 877.8L1686.4 874.2L1674.9 869.8L1663.5 867.8L1653.2 866.5L1652.1 866.4L1640.7 864.3L1629.2 861.5L1617.8 858.9L1606.4 856.8L1596.5 855.2L1595.0 855.0L1583.5 853.2L1572.1 851.9L1560.7 851.0L1549.3 849.8L1537.8 847.8L1526.4 844.2L1525.7 843.9L1515.0 838.3L1506.3 832.6L1503.5 829.5L1492.1 822.1L1489.2 821.3L1480.7 819.4L1469.3 817.8L1457.8 814.9L1446.4 810.8L1444.2 810.0L1435.0 806.2L1423.6 803.0L1412.1 801.5L1400.7 801.5L1389.3 802.0L1377.8 802.2L1366.4 801.5L1355.0 799.5L1351.8 798.7L1343.6 796.3L1332.1 792.5L1320.7 788.6L1316.8 787.4L1309.3 783.6L1297.9 779.8L1286.4 780.6L1275.0 782.7L1263.6 783.9L1252.2 784.2L1240.7 783.7L1229.3 782.8L1217.9 781.8L1206.4 781.1L1195.0 780.7L1183.6 780.8L1172.2 780.2L1160.7 776.9L1159.5 776.1L1149.3 767.9L1141.7 764.8L1137.9 763.6L1126.5 762.3L1115.0 762.0L1103.6 761.9L1092.2 761.6L1080.8 761.0L1069.3 760.3L1057.9 759.6L1046.5 758.7L1035.0 757.1L1023.6 754.4L1020.1 753.5L1012.2 751.4L1000.8 748.1L990.7 742.2L989.3 740.9L984.2 730.9L977.9 720.4L977.5 719.6L966.5 711.0L961.7 708.3L955.1 705.3L943.6 699.2L940.8 697.0L933.7 685.7L933.9 674.4L942.6 663.0L943.6 662.2L955.1 658.1L966.5 657.1L977.9 655.8L985.4 651.7L977.9 645.1L971.5 640.4L966.5 639.3L955.1 637.6L943.6 636.6L932.2 636.6L920.8 638.2L914.2 640.4L909.3 642.2L897.9 646.1L886.5 648.7L875.1 649.2L863.6 647.5L852.2 644.0L844.8 651.7L840.8 653.1L829.4 658.3L817.9 660.0L806.5 656.4L800.5 651.7L795.3 640.4L800.4 629.1L806.5 626.6L817.9 627.9L821.6 629.1L829.4 632.3L840.8 637.3L852.2 634.3L853.3 629.1L855.8 617.8L856.8 606.5L857.6 595.2L860.1 583.9L863.6 577.5L865.9 572.6L870.8 561.3L872.1 550.0L867.6 538.7L863.6 533.9L858.2 527.4L852.2 519.9L849.5 516.1L845.7 504.8L844.0 493.5L840.8 483.4L840.3 482.2L829.4 472.8L824.9 470.9L817.9 468.5L806.5 466.7L795.1 469.1L793.6 470.9L788.8 482.2L785.3 493.5L783.7 498.3L780.3 504.8L772.2 514.3L764.7 516.1L760.8 516.7L749.4 517.4L737.9 519.7L726.5 522.7L715.1 524.6L703.7 525.2L692.2 524.4L680.8 521.8L669.4 518.0L659.5 516.1L658.0 515.8L646.5 515.7L642.4 516.1L635.1 516.6L623.7 517.5L612.3 517.4L605.7 516.1L600.8 514.7L589.4 506.0L588.3 504.8L582.5 493.5L578.0 485.5L575.5 482.2L566.5 473.7L563.6 470.9L556.7 459.6L555.1 454.2L553.7 448.3L550.0 437.0L543.7 430.3L532.3 427.3L520.8 428.0L509.4 430.8L498.0 433.6L486.6 430.7L475.1 426.1L473.2 425.7L463.7 423.7L452.3 423.3L440.8 423.6L429.4 423.5L418.0 422.4L406.6 421.1L395.1 420.1L383.7 419.8L372.3 419.8L360.9 419.9L360.9 414.4L360.9 410.8ZM1983.5 492.3L1994.9 489.7L2003.3 493.5L2006.3 497.2L2008.4 504.8L2006.3 516.1L2006.3 516.1L1994.9 527.3L1983.5 523.6L1978.7 516.1L1976.8 504.8L1982.1 493.5ZM1777.8 534.3L1789.2 534.2L1798.8 538.7L1800.6 541.9L1804.5 550.0L1800.6 555.1L1792.6 561.3L1789.2 562.9L1777.8 564.7L1768.3 561.3L1766.4 559.3L1763.1 550.0L1766.4 543.8L1769.5 538.7ZM2086.3 538.3L2097.7 527.5L2109.2 528.9L2115.6 538.7L2119.8 550.0L2120.6 551.5L2128.8 561.3L2132.0 563.5L2143.4 565.5L2154.9 564.8L2166.3 563.3L2166.3 572.6L2166.3 583.9L2166.3 595.2L2166.3 606.5L2166.3 617.8L2166.3 629.1L2166.3 640.4L2166.3 651.7L2166.3 663.0L2166.3 663.6L2154.9 663.5L2143.4 663.4L2132.0 663.6L2120.6 664.4L2109.2 665.7L2097.7 667.3L2086.3 668.2L2074.9 668.4L2063.5 668.0L2052.0 667.6L2040.6 666.6L2029.2 664.7L2019.4 663.0L2017.8 662.8L2006.3 661.0L1994.9 658.7L1983.5 655.2L1976.2 651.7L1972.0 648.2L1963.7 640.4L1960.6 636.9L1950.0 629.1L1949.2 628.7L1937.8 624.8L1926.3 623.0L1914.9 622.2L1903.5 622.1L1892.1 622.6L1880.6 624.0L1869.2 626.5L1861.1 629.1L1857.8 630.6L1846.3 633.8L1834.9 634.6L1823.5 635.0L1812.1 637.1L1800.6 639.4L1789.2 638.5L1777.8 630.5L1776.6 629.1L1768.5 617.8L1767.0 606.5L1777.8 599.6L1789.2 598.6L1800.6 598.4L1812.1 597.6L1819.5 595.2L1823.5 593.6L1833.4 583.9L1834.9 581.6L1841.3 572.6L1846.3 567.3L1857.8 562.4L1869.2 562.8L1880.6 565.4L1892.1 568.4L1903.5 570.1L1914.9 570.9L1926.3 570.8L1937.8 570.1L1949.2 569.0L1960.6 567.5L1972.0 566.3L1983.5 565.5L1994.9 565.3L2006.3 565.7L2017.8 566.6L2029.2 567.8L2040.6 568.9L2052.0 569.2L2063.5 567.6L2073.4 561.3L2074.9 559.9L2081.0 550.0L2086.1 538.7ZM1697.8 673.3L1709.2 665.9L1720.7 668.4L1726.6 674.4L1732.1 681.9L1734.9 685.7L1736.9 697.0L1732.1 704.5L1720.7 707.1L1709.2 703.5L1698.9 697.0L1697.8 695.7L1691.9 685.7L1696.7 674.4ZM1892.1 695.2L1903.5 693.9L1914.9 694.9L1918.7 697.0L1926.3 707.5L1926.7 708.3L1926.3 709.9L1922.4 719.6L1914.9 723.2L1904.2 730.9L1903.5 731.4L1894.2 742.2L1892.1 746.3L1888.1 753.5L1883.4 764.8L1880.6 769.0L1869.2 775.5L1857.8 775.7L1846.3 769.0L1843.2 764.8L1837.3 753.5L1834.9 749.9L1826.9 742.2L1823.5 739.9L1812.1 738.7L1802.1 742.2L1800.6 742.7L1789.2 750.0L1783.9 753.5L1777.8 756.0L1766.4 757.1L1754.9 755.3L1750.8 753.5L1743.5 745.4L1741.5 742.2L1741.5 730.9L1743.5 725.5L1748.4 719.6L1754.9 714.3L1764.7 708.3L1766.4 707.5L1777.8 702.2L1789.2 698.8L1800.6 697.5L1812.1 697.5L1823.5 698.4L1834.9 699.9L1846.3 701.0L1857.8 701.0L1869.2 699.5L1880.6 697.2L1881.9 697.0ZM2029.2 703.6L2038.2 708.3L2040.6 710.0L2047.1 719.6L2052.0 725.9L2059.5 730.9L2063.5 732.9L2074.9 734.3L2086.3 734.2L2097.7 736.0L2109.2 740.0L2117.6 742.2L2120.6 742.9L2132.0 744.4L2143.4 744.9L2154.9 744.7L2166.3 744.4L2166.3 753.5L2166.3 764.8L2166.3 776.1L2166.3 787.4L2166.3 798.7L2166.3 806.8L2154.9 806.0L2143.4 805.6L2132.0 806.7L2120.6 809.3L2117.0 810.0L2109.2 811.1L2097.7 811.1L2093.4 810.0L2086.3 803.5L2084.6 798.7L2082.3 787.4L2075.2 776.1L2074.9 775.8L2063.5 771.5L2052.0 775.7L2051.6 776.1L2045.1 787.4L2041.0 798.7L2040.6 799.2L2029.2 803.8L2017.8 799.6L2016.6 798.7L2006.3 787.5L2006.2 787.4L1994.9 776.3L1993.9 776.1L1983.5 774.5L1972.0 775.9L1966.8 776.1L1960.6 776.3L1959.8 776.1L1949.2 767.8L1948.0 764.8L1946.8 753.5L1947.4 742.2L1949.2 737.2L1958.6 730.9L1960.6 730.4L1972.0 730.6L1979.3 730.9L1983.5 731.1L1984.7 730.9L1994.9 729.1L2006.2 719.6L2006.3 719.5L2017.8 708.8L2018.9 708.3Z" fill="#7e03a8" stroke="#7e03a8" stroke-width="0.8" fill-rule="evenodd"/>
<path d="M372.3 419.8L383.7 419.8L395.1 420.1L406.6 421.1L418.0 422.4L429.4 423.5L440.8 423.6L452.3 423.3L463.7 423.7L473.2 425.7L475.1 426.1L486.6 430.7L498.0 433.6L509.4 430.8L520.8 428.0L532.3 427.3L543.7 430.3L550.0 437.0L553.7 448.3L555.1 454.2L556.7 459.6L563.6 470.9L566.5 473.7L575.5 482.2L578.0 485.5L582.5 493.5L588.3 504.8L589.4 506.0L600.8 514.7L605.7 516.1L612.3 517.4L623.7 517.5L635.1 516.6L642.4 516.1L646.5 515.7L658.0 515.8L659.5 516.1L669.4 518.0L680.8 521.8L692.2 524.4L703.7 525.2L715.1 524.6L726.5 522.7L737.9 519.7L749.4 517.4L760.8 516.7L764.7 516.1L772.2 514.3L780.3 504.8L783.7 498.3L785.3 493.5L788.8 482.2L793.6 470.9L795.1 469.1L806.5 466.7L817.9 468.5L824.9 470.9L829.4 472.8L840.3 482.2L840.8 483.4L844.0 493.5L845.7 504.8L849.5 516.1L852.2 519.9L858.2 527.4L863.6 533.9L867.6 538.7L872.1 550.0L870.8 561.3L865.9 572.6L863.6 577.5L860.1 583.9L857.6 595.2L856.8 606.5L855.8 617.8L853.3 629.1L852.2 634.3L840.8 637.3L829.4 632.3L821.6 629.1L817.9 627.9L806.5 626.6L800.4 629.1L795.3 640.4L800.5 651.7L806.5 656.4L817.9 660.0L829.4 658.3L840.8 653.1L844.8 651.7L852.2 644.0L863.6 647.5L875.1 649.2L886.5 648.7L897.9 646.1L909.3 642.2L914.2 640.4L920.8 638.2L932.2 636.6L943.6 636.6L955.1 637.6L966.5 639.3L971.5 640.4L977.9 645.1L985.4 651.7L977.9 655.8L966.5 657.1L955.1 658.1L943.6 662.2L942.6 663.0L933.9 674.4L933.7 685.7L940.8 697.0L943.6 699.2L955.1 705.3L961.7 708.3L966.5 711.0L977.5 719.6L977.9 720.4L984.2 730.9L989.3 740.9L990.7 742.2L1000.8 748.1L1012.2 751.4L1020.1 753.5L1023.6 754.4L1035.0 757.1L1046.5 758.7L1057.9 759.6L1069.3 760.3L1080.8 761.0L1092.2 761.6L1103.6 761.9L1115.0 762.0L1126.5 762.3L1137.9 763.6L1141.7 764.8L1149.3 767.9L1159.5 776.1L1160.7 776.9L1172.2 780.2L1183.6 780.8L1195.0 780.7L1206.4 781.1L1217.9 781.8L1229.3 782.8L1240.7 783.7L1252.2 784.2L1263.6 783.9L1275.0 782.7L1286.4 780.6L1297.9 779.8L1309.3 783.6L1316.8 787.4L1320.7 788.6L1332.1 792.5L1343.6 796.3L1351.8 798.7L1355.0 799.5L1366.4 801.5L1377.8 802.2L1389.3 802.0L1400.7 801.5L1412.1 801.5L1423.6 803.0L1435.0 806.2L1444.2 810.0L1446.4 810.8L1457.8 814.9L1469.3 817.8L1480.7 819.4L1489.2 821.3L1492.1 822.1L1503.5 829.5L1506.3 832.6L1515.0 838.3L1525.7 843.9L1526.4 844.2L1537.8 847.8L1549.3 849.8L1560.7 851.0L1572.1 851.9L1583.5 853.2L1595.0 855.0L1596.5 855.2L1606.4 856.8L1617.8 858.9L1629.2 861.5L1640.7 864.3L1652.1 866.4L1653.2 866.5L1663.5 867.8L1674.9 869.8L1686.4 874.2L1691.6 877.8L1697.8 883.8L1701.5 889.1L1705.1 900.4L1706.3 911.7L1707.9 923.0L1709.2 926.7L1713.2 934.3L1720.7 942.4L1725.4 945.7L1732.1 950.2L1743.5 954.1L1754.9 951.9L1766.4 946.0L1767.1 945.7L1777.8 941.2L1789.2 939.7L1800.6 940.7L1812.1 943.1L1823.5 945.5L1824.7 945.7L1834.9 946.8L1846.3 946.3L1849.4 945.7L1857.8 944.3L1869.2 941.9L1880.6 939.9L1892.1 938.4L1903.5 937.5L1914.9 937.1L1926.3 938.9L1937.8 945.3L1938.5 945.7L1949.2 950.4L1960.6 950.0L1972.0 946.4L1975.6 945.7L1983.5 944.3L1994.9 944.3L2000.0 945.7L2006.3 947.8L2016.4 957.0L2017.8 959.5L2022.3 968.3L2026.2 979.6L2029.2 986.4L2032.6 990.9L2040.6 997.7L2048.8 1002.2L2052.0 1003.5L2063.5 1006.3L2074.9 1007.6L2086.3 1006.7L2097.7 1003.6L2101.0 1002.2L2109.2 998.2L2120.6 993.2L2128.9 990.9L2132.0 989.6L2143.4 988.1L2154.9 988.6L2166.3 989.7L2166.3 990.9L2166.3 1001.7L2154.9 1000.9L2143.4 1000.4L2132.0 1001.6L2130.4 1002.2L2120.6 1005.0L2109.2 1010.3L2102.7 1013.5L2097.7 1016.3L2086.3 1020.8L2074.9 1022.7L2063.5 1022.1L2052.0 1019.0L2040.6 1013.7L2040.2 1013.5L2029.2 1006.3L2024.9 1002.2L2017.8 992.1L2017.0 990.9L2012.7 979.6L2008.7 968.3L2006.3 964.5L1997.6 957.0L1994.9 955.6L1983.5 955.8L1980.5 957.0L1972.0 962.6L1965.5 968.3L1960.6 975.4L1949.2 974.8L1941.2 968.3L1937.8 966.1L1926.4 957.0L1926.3 956.9L1914.9 949.7L1903.5 946.4L1892.5 945.7L1892.1 945.6L1891.8 945.7L1880.6 946.8L1869.2 949.7L1857.8 953.7L1846.8 957.0L1846.3 957.3L1834.9 958.7L1826.3 957.0L1823.5 956.6L1812.1 953.7L1800.6 951.0L1789.2 950.0L1777.8 952.5L1769.6 957.0L1766.4 959.4L1754.9 967.6L1751.9 968.3L1743.5 970.3L1737.4 968.3L1732.1 966.4L1720.7 957.8L1719.7 957.0L1709.2 947.5L1707.6 945.7L1700.9 934.3L1697.9 923.0L1697.8 922.2L1696.3 911.7L1693.8 900.4L1687.1 889.1L1686.4 888.5L1674.9 883.3L1663.5 882.5L1652.1 883.1L1640.7 881.1L1634.2 877.8L1629.2 875.9L1617.8 871.4L1606.4 868.2L1597.9 866.5L1595.0 866.0L1583.5 864.3L1572.1 862.9L1560.7 861.5L1549.3 859.8L1537.8 857.2L1531.9 855.2L1526.4 853.8L1515.0 849.5L1504.3 843.9L1503.5 843.5L1492.1 836.6L1484.1 832.6L1480.7 831.1L1469.3 827.6L1457.8 824.2L1449.7 821.3L1446.4 820.3L1435.0 816.8L1423.6 814.2L1412.1 812.7L1400.7 811.9L1389.3 811.3L1377.8 810.5L1373.6 810.0L1366.4 809.3L1355.0 807.4L1343.6 804.9L1332.1 801.8L1320.7 798.8L1320.2 798.7L1309.3 795.9L1297.9 793.7L1286.4 792.6L1275.0 792.5L1263.6 792.7L1252.2 792.9L1240.7 793.0L1229.3 793.1L1217.9 793.3L1206.4 793.7L1195.0 794.5L1183.6 795.7L1172.2 796.4L1160.7 795.6L1149.3 792.0L1141.4 787.4L1137.9 784.9L1126.5 779.4L1115.0 778.1L1103.6 778.8L1092.2 779.1L1080.8 776.7L1078.8 776.1L1069.3 773.8L1057.9 772.1L1046.5 772.2L1035.0 773.8L1023.6 775.7L1012.2 774.3L1000.8 770.2L989.3 766.2L985.4 764.8L977.9 761.0L970.2 753.5L969.0 742.2L967.9 730.9L966.5 728.1L961.4 719.6L955.1 715.5L943.6 709.5L941.5 708.3L932.2 701.6L928.1 697.0L923.1 685.7L921.0 674.4L920.8 673.0L914.1 663.0L909.3 661.2L897.9 661.9L891.5 663.0L886.5 664.0L875.1 666.0L863.6 667.3L852.2 668.7L840.8 670.7L829.4 672.3L817.9 672.6L806.5 670.5L795.1 665.1L792.2 663.0L783.7 654.9L779.3 651.7L772.2 644.7L762.9 640.4L760.8 637.8L756.3 629.1L758.2 617.8L760.8 611.0L762.6 606.5L768.7 595.2L772.2 589.2L775.9 583.9L780.2 572.6L781.5 561.3L779.8 550.0L772.2 541.5L766.9 538.7L760.8 537.1L749.4 535.1L737.9 534.5L726.5 534.9L715.1 535.6L703.7 536.2L692.2 536.6L680.8 536.4L669.4 534.7L658.0 531.5L646.5 528.7L635.5 527.4L635.1 527.4L623.7 527.1L612.3 526.6L600.8 524.9L589.4 520.6L582.5 516.1L578.0 510.6L573.8 504.8L567.3 493.5L566.5 492.4L555.1 482.6L554.4 482.2L545.7 470.9L545.6 459.6L545.0 448.3L543.7 445.0L536.4 437.0L532.3 435.3L520.8 436.7L520.2 437.0L509.4 443.9L498.3 448.3L498.0 448.4L497.5 448.3L486.6 445.8L475.1 439.2L470.5 437.0L463.7 434.5L452.3 433.7L440.8 434.3L429.4 434.6L418.0 433.3L406.6 431.2L395.1 429.6L383.7 429.0L372.3 429.1L360.9 429.4L360.9 425.7L360.9 419.9ZM803.1 493.5L798.6 504.8L797.9 516.1L805.9 527.4L806.5 527.7L817.9 530.8L829.4 530.9L830.8 527.4L830.8 516.1L829.8 504.8L829.4 502.8L825.4 493.5L817.9 486.8L806.5 489.0ZM840.3 550.0L840.8 550.6L841.7 550.0L840.8 546.1ZM692.2 570.8L703.7 561.5L715.1 561.6L726.5 568.5L729.8 572.6L732.1 583.9L726.5 594.1L725.4 595.2L715.1 599.7L703.7 598.9L697.7 595.2L692.2 588.0L690.3 583.9L691.2 572.6Z" fill="#a11b9b" stroke="#a11b9b" stroke-width="0.8" fill-rule="evenodd"/>
<path d="M372.3 429.1L383.7 429.0L395.1 429.6L406.6 431.2L418.0 433.3L429.4 434.6L440.8 434.3L452.3 433.7L463.7 434.5L470.5 437.0L475.1 439.2L486.6 445.8L497.5 448.3L498.0 448.4L498.3 448.3L509.4 443.9L520.2 437.0L520.8 436.7L532.3 435.3L536.4 437.0L543.7 445.0L545.0 448.3L545.6 459.6L545.7 470.9L554.4 482.2L555.1 482.6L566.5 492.4L567.3 493.5L573.8 504.8L578.0 510.6L582.5 516.1L589.4 520.6L600.8 524.9L612.3 526.6L623.7 527.1L635.1 527.4L635.5 527.4L646.5 528.7L658.0 531.5L669.4 534.7L680.8 536.4L692.2 536.6L703.7 536.2L715.1 535.6L726.5 534.9L737.9 534.5L749.4 535.1L760.8 537.1L766.9 538.7L772.2 541.5L779.8 550.0L781.5 561.3L780.2 572.6L775.9 583.9L772.2 589.2L768.7 595.2L762.6 606.5L760.8 611.0L758.2 617.8L756.3 629.1L760.8 637.8L762.9 640.4L772.2 644.7L779.3 651.7L783.7 654.9L792.2 663.0L795.1 665.1L806.5 670.5L817.9 672.6L829.4 672.3L840.8 670.7L852.2 668.7L863.6 667.3L875.1 666.0L886.5 664.0L891.5 663.0L897.9 661.9L909.3 661.2L914.1 663.0L920.8 673.0L921.0 674.4L923.1 685.7L928.1 697.0L932.2 701.6L941.5 708.3L943.6 709.5L955.1 715.5L961.4 719.6L966.5 728.1L967.9 730.9L969.0 742.2L970.2 753.5L977.9 761.0L985.4 764.8L989.3 766.2L1000.8 770.2L1012.2 774.3L1023.6 775.7L1035.0 773.8L1046.5 772.2L1057.9 772.1L1069.3 773.8L1078.8 776.1L1080.8 776.7L1092.2 779.1L1103.6 778.8L1115.0 778.1L1126.5 779.4L1137.9 784.9L1141.4 787.4L1149.3 792.0L1160.7 795.6L1172.2 796.4L1183.6 795.7L1195.0 794.5L1206.4 793.7L1217.9 793.3L1229.3 793.1L1240.7 793.0L1252.2 792.9L1263.6 792.7L1275.0 792.5L1286.4 792.6L1297.9 793.7L1309.3 795.9L1320.2 798.7L1320.7 798.8L1332.1 801.8L1343.6 804.9L1355.0 807.4L1366.4 809.3L1373.6 810.0L1377.8 810.5L1389.3 811.3L1400.7 811.9L1412.1 812.7L1423.6 814.2L1435.0 816.8L1446.4 820.3L1449.7 821.3L1457.8 824.2L1469.3 827.6L1480.7 831.1L1484.1 832.6L1492.1 836.6L1503.5 843.5L1504.3 843.9L1515.0 849.5L1526.4 853.8L1531.9 855.2L1537.8 857.2L1549.3 859.8L1560.7 861.5L1572.1 862.9L1583.5 864.3L1595.0 866.0L1597.9 866.5L1606.4 868.2L1617.8 871.4L1629.2 875.9L1634.2 877.8L1640.7 881.1L1652.1 883.1L1663.5 882.5L1674.9 883.3L1686.4 888.5L1687.1 889.1L1693.8 900.4L1696.3 911.7L1697.8 922.2L1697.9 923.0L1700.9 934.3L1707.6 945.7L1709.2 947.5L1719.7 957.0L1720.7 957.8L1732.1 966.4L1737.4 968.3L1743.5 970.3L1751.9 968.3L1754.9 967.6L1766.4 959.4L1769.6 957.0L1777.8 952.5L1789.2 950.0L1800.6 951.0L1812.1 953.7L1823.5 956.6L1826.3 957.0L1834.9 958.7L1846.3 957.3L1846.8 957.0L1857.8 953.7L1869.2 949.7L1880.6 946.8L1891.8 945.7L1892.1 945.6L1892.5 945.7L1903.5 946.4L1914.9 949.7L1926.3 956.9L1926.4 957.0L1937.8 966.1L1941.2 968.3L1949.2 974.8L1960.6 975.4L1965.5 968.3L1972.0 962.6L1980.5 957.0L1983.5 955.8L1994.9 955.6L1997.6 957.0L2006.3 964.5L2008.7 968.3L2012.7 979.6L2017.0 990.9L2017.8 992.1L2024.9 1002.2L2029.2 1006.3L2040.2 1013.5L2040.6 1013.7L2052.0 1019.0L2063.5 1022.1L2074.9 1022.7L2086.3 1020.8L2097.7 1016.3L2102.7 1013.5L2109.2 1010.3L2120.6 1005.0L2130.4 1002.2L2132.0 1001.6L2143.4 1000.4L2154.9 1000.9L2166.3 1001.7L2166.3 1002.2L2166.3 1011.4L2154.9 1010.5L2143.4 1010.0L2132.0 1011.3L2125.4 1013.5L2120.6 1015.5L2109.2 1022.3L2105.0 1024.8L2097.7 1031.5L2090.2 1036.1L2086.3 1040.9L2078.4 1047.4L2074.9 1054.2L2071.1 1058.7L2063.5 1064.1L2052.0 1063.0L2047.8 1058.7L2047.9 1047.4L2044.7 1036.1L2040.6 1033.0L2033.2 1024.8L2029.2 1022.1L2020.0 1013.5L2017.8 1011.3L2009.6 1002.2L2006.3 996.1L2002.4 990.9L1997.5 979.6L1994.9 975.0L1983.5 977.0L1981.9 979.6L1977.9 990.9L1972.9 1002.2L1972.0 1003.4L1962.4 1013.5L1960.6 1015.1L1958.0 1013.5L1949.2 1006.0L1947.8 1002.2L1942.5 990.9L1937.8 984.9L1933.9 979.6L1926.3 971.9L1922.7 968.3L1914.9 961.8L1907.3 957.0L1903.5 955.3L1892.1 953.2L1880.6 954.2L1872.0 957.0L1869.2 958.9L1859.6 968.3L1860.1 979.6L1864.0 990.9L1864.6 1002.2L1858.0 1013.5L1857.8 1013.8L1846.3 1018.7L1834.9 1014.4L1834.4 1013.5L1831.2 1002.2L1830.4 990.9L1827.9 979.6L1823.5 975.1L1815.6 968.3L1812.1 966.8L1800.6 962.7L1789.2 961.6L1777.8 966.0L1774.8 968.3L1766.4 977.0L1762.8 979.6L1754.9 985.0L1743.5 987.8L1732.1 986.9L1720.7 981.3L1718.6 979.6L1709.2 969.5L1708.2 968.3L1698.3 957.0L1697.8 956.3L1691.4 945.7L1688.6 934.3L1687.1 923.0L1686.4 918.7L1684.3 911.7L1676.2 900.4L1674.9 899.6L1663.5 899.3L1659.2 900.4L1652.1 902.9L1640.7 905.1L1633.1 900.4L1629.2 898.2L1621.4 889.1L1617.8 886.8L1606.4 881.0L1595.4 877.8L1595.0 877.7L1583.5 876.4L1572.1 875.8L1560.7 875.5L1549.3 874.7L1537.8 872.2L1526.4 866.9L1525.7 866.5L1515.0 862.4L1503.5 856.2L1502.0 855.2L1492.1 850.1L1480.8 843.9L1480.7 843.9L1469.3 839.7L1457.8 836.6L1446.4 833.1L1445.0 832.6L1435.0 830.1L1423.6 827.2L1412.1 824.9L1400.7 822.9L1392.1 821.3L1389.3 821.0L1377.8 819.5L1366.4 818.0L1355.0 816.3L1343.6 814.0L1332.1 811.1L1327.7 810.0L1320.7 808.4L1309.3 806.2L1297.9 804.4L1286.4 803.3L1275.0 802.6L1263.6 802.3L1252.2 802.3L1240.7 802.6L1229.3 803.2L1217.9 804.3L1206.4 805.7L1195.0 807.3L1183.6 808.2L1172.2 808.5L1160.7 808.4L1149.3 808.0L1137.9 806.7L1126.5 803.0L1115.0 799.2L1107.1 798.7L1103.6 798.6L1092.2 798.1L1080.8 796.1L1069.3 792.3L1057.9 788.7L1046.5 791.4L1035.0 797.4L1031.1 798.7L1023.6 801.5L1012.2 801.2L1005.5 798.7L1000.8 796.9L989.3 790.4L979.2 787.4L977.9 787.2L975.3 787.4L966.5 788.9L955.1 789.6L951.3 787.4L943.6 783.8L932.2 776.5L931.3 776.1L920.8 772.5L909.3 770.5L898.1 764.8L897.9 764.3L896.6 753.5L897.3 742.2L897.9 738.6L900.6 730.9L909.3 721.3L916.4 719.6L914.7 708.3L910.9 697.0L909.3 692.6L903.1 685.7L897.9 683.0L886.5 683.7L875.1 684.7L863.6 684.5L852.2 684.2L840.8 684.2L829.4 684.5L817.9 684.5L806.5 683.7L795.1 681.0L783.7 674.5L783.4 674.4L772.2 667.6L760.8 663.5L758.3 663.0L749.4 661.6L737.9 658.8L727.5 651.7L726.5 648.6L724.5 640.4L725.0 629.1L719.5 617.8L715.1 616.4L703.7 614.7L692.2 611.8L685.9 606.5L680.8 599.7L678.2 595.2L673.1 583.9L670.0 572.6L669.4 570.4L665.4 572.6L658.0 575.0L652.2 583.9L646.5 586.7L635.1 591.3L623.7 594.8L622.2 595.2L612.3 597.9L600.8 602.1L594.2 606.5L589.4 616.4L588.8 617.8L583.5 629.1L578.0 633.4L566.5 636.5L555.1 637.8L543.7 638.0L532.3 636.3L520.8 630.9L518.9 629.1L514.6 617.8L518.4 606.5L520.8 604.3L532.3 599.2L543.7 597.3L555.1 596.3L564.5 595.2L566.5 594.9L578.0 591.1L584.4 583.9L589.4 578.5L594.3 572.6L600.8 567.9L612.3 562.2L614.9 561.3L623.7 557.1L635.1 552.8L640.9 550.0L635.1 546.6L623.7 539.9L621.1 538.7L612.3 537.6L600.8 536.0L589.4 533.5L578.0 529.9L570.7 527.4L566.5 524.5L559.9 516.1L555.1 506.7L554.1 504.8L543.7 497.5L536.4 493.5L532.3 490.9L523.1 482.2L520.8 474.3L519.2 470.9L509.4 464.4L498.0 464.2L486.6 461.9L481.4 459.6L475.1 456.8L463.7 449.7L456.9 448.3L452.3 447.8L447.0 448.3L440.8 449.5L429.4 450.7L420.2 448.3L418.0 447.9L406.6 444.8L395.1 442.0L383.7 441.0L372.3 441.3L360.9 442.1L360.9 437.0L360.9 429.4ZM691.2 572.6L690.3 583.9L692.2 588.0L697.7 595.2L703.7 598.9L715.1 599.7L725.4 595.2L726.5 594.1L732.1 583.9L729.8 572.6L726.5 568.5L715.1 561.6L703.7 561.5L692.2 570.8ZM806.5 489.0L817.9 486.8L825.4 493.5L829.4 502.8L829.8 504.8L830.8 516.1L830.8 527.4L829.4 530.9L817.9 530.8L806.5 527.7L805.9 527.4L797.9 516.1L798.6 504.8L803.1 493.5ZM520.8 532.8L532.3 528.0L543.7 528.2L555.1 537.8L555.4 538.7L555.1 539.5L552.5 550.0L543.7 559.2L537.8 561.3L532.3 563.1L526.6 561.3L520.8 558.4L515.4 550.0L515.9 538.7ZM840.8 546.1L841.7 550.0L840.8 550.6L840.3 550.0Z" fill="#bf3984" stroke="#bf3984" stroke-width="0.8" fill-rule="evenodd"/>
<path d="M372.3 441.3L383.7 441.0L395.1 442.0L406.6 444.8L418.0 447.9L420.2 448.3L429.4 450.7L440.8 449.5L447.0 448.3L452.3 447.8L456.9 448.3L463.7 449.7L475.1 456.8L481.4 459.6L486.6 461.9L498.0 464.2L509.4 464.4L519.2 470.9L520.8 474.3L523.1 482.2L532.3 490.9L536.4 493.5L543.7 497.5L554.1 504.8L555.1 506.7L559.9 516.1L566.5 524.5L570.7 527.4L578.0 529.9L589.4 533.5L600.8 536.0L612.3 537.6L621.1 538.7L623.7 539.9L635.1 546.6L640.9 550.0L635.1 552.8L623.7 557.1L614.9 561.3L612.3 562.2L600.8 567.9L594.3 572.6L589.4 578.5L584.4 583.9L578.0 591.1L566.5 594.9L564.5 595.2L555.1 596.3L543.7 597.3L532.3 599.2L520.8 604.3L518.4 606.5L514.6 617.8L518.9 629.1L520.8 630.9L532.3 636.3L543.7 638.0L555.1 637.8L566.5 636.5L578.0 633.4L583.5 629.1L588.8 617.8L589.4 616.4L594.2 606.5L600.8 602.1L612.3 597.9L622.2 595.2L623.7 594.8L635.1 591.3L646.5 586.7L652.2 583.9L658.0 575.0L665.4 572.6L669.4 570.4L670.0 572.6L673.1 583.9L678.2 595.2L680.8 599.7L685.9 606.5L692.2 611.8L703.7 614.7L715.1 616.4L719.5 617.8L725.0 629.1L724.5 640.4L726.5 648.6L727.5 651.7L737.9 658.8L749.4 661.6L758.3 663.0L760.8 663.5L772.2 667.6L783.4 674.4L783.7 674.5L795.1 681.0L806.5 683.7L817.9 684.5L829.4 684.5L840.8 684.2L852.2 684.2L863.6 684.5L875.1 684.7L886.5 683.7L897.9 683.0L903.1 685.7L909.3 692.6L910.9 697.0L914.7 708.3L916.4 719.6L909.3 721.3L900.6 730.9L897.9 738.6L897.3 742.2L896.6 753.5L897.9 764.3L898.1 764.8L909.3 770.5L920.8 772.5L931.3 776.1L932.2 776.5L943.6 783.8L951.3 787.4L955.1 789.6L966.5 788.9L975.3 787.4L977.9 787.2L979.2 787.4L989.3 790.4L1000.8 796.9L1005.5 798.7L1012.2 801.2L1023.6 801.5L1031.1 798.7L1035.0 797.4L1046.5 791.4L1057.9 788.7L1069.3 792.3L1080.8 796.1L1092.2 798.1L1103.6 798.6L1107.1 798.7L1115.0 799.2L1126.5 803.0L1137.9 806.7L1149.3 808.0L1160.7 808.4L1172.2 808.5L1183.6 808.2L1195.0 807.3L1206.4 805.7L1217.9 804.3L1229.3 803.2L1240.7 802.6L1252.2 802.3L1263.6 802.3L1275.0 802.6L1286.4 803.3L1297.9 804.4L1309.3 806.2L1320.7 808.4L1327.7 810.0L1332.1 811.1L1343.6 814.0L1355.0 816.3L1366.4 818.0L1377.8 819.5L1389.3 821.0L1392.1 821.3L1400.7 822.9L1412.1 824.9L1423.6 827.2L1435.0 830.1L1445.0 832.6L1446.4 833.1L1457.8 836.6L1469.3 839.7L1480.7 843.9L1480.8 843.9L1492.1 850.1L1502.0 855.2L1503.5 856.2L1515.0 862.4L1525.7 866.5L1526.4 866.9L1537.8 872.2L1549.3 874.7L1560.7 875.5L1572.1 875.8L1583.5 876.4L1595.0 877.7L1595.4 877.8L1606.4 881.0L1617.8 886.8L1621.4 889.1L1629.2 898.2L1633.1 900.4L1640.7 905.1L1652.1 902.9L1659.2 900.4L1663.5 899.3L1674.9 899.6L1676.2 900.4L1684.3 911.7L1686.4 918.7L1687.1 923.0L1688.6 934.3L1691.4 945.7L1697.8 956.3L1698.3 957.0L1708.2 968.3L1709.2 969.5L1718.6 979.6L1720.7 981.3L1732.1 986.9L1743.5 987.8L1754.9 985.0L1762.8 979.6L1766.4 977.0L1774.8 968.3L1777.8 966.0L1789.2 961.6L1800.6 962.7L1812.1 966.8L1815.6 968.3L1823.5 975.1L1827.9 979.6L1830.4 990.9L1831.2 1002.2L1834.4 1013.5L1834.9 1014.4L1846.3 1018.7L1857.8 1013.8L1858.0 1013.5L1864.6 1002.2L1864.0 990.9L1860.1 979.6L1859.6 968.3L1869.2 958.9L1872.0 957.0L1880.6 954.2L1892.1 953.2L1903.5 955.3L1907.3 957.0L1914.9 961.8L1922.7 968.3L1926.3 971.9L1933.9 979.6L1937.8 984.9L1942.5 990.9L1947.8 1002.2L1949.2 1006.0L1958.0 1013.5L1960.6 1015.1L1962.4 1013.5L1972.0 1003.4L1972.9 1002.2L1977.9 990.9L1981.9 979.6L1983.5 977.0L1994.9 975.0L1997.5 979.6L2002.4 990.9L2006.3 996.1L2009.6 1002.2L2017.8 1011.3L2020.0 1013.5L2029.2 1022.1L2033.2 1024.8L2040.6 1033.0L2044.7 1036.1L2047.9 1047.4L2047.8 1058.7L2052.0 1063.0L2063.5 1064.1L2071.1 1058.7L2074.9 1054.2L2078.4 1047.4L2086.3 1040.9L2090.2 1036.1L2097.7 1031.5L2105.0 1024.8L2109.2 1022.3L2120.6 1015.5L2125.4 1013.5L2132.0 1011.3L2143.4 1010.0L2154.9 1010.5L2166.3 1011.4L2166.3 1013.5L2166.3 1022.5L2154.9 1021.3L2143.4 1020.7L2132.0 1022.3L2126.3 1024.8L2120.6 1030.4L2115.6 1036.1L2117.6 1047.4L2120.6 1049.6L2132.0 1052.7L2143.4 1053.4L2154.9 1053.2L2166.3 1052.7L2166.3 1058.7L2166.3 1070.0L2166.3 1081.3L2166.3 1089.6L2154.9 1089.0L2143.4 1088.7L2132.0 1089.5L2121.1 1092.6L2120.6 1092.7L2109.2 1097.1L2097.7 1100.0L2086.3 1097.9L2074.9 1093.7L2071.3 1092.6L2063.5 1090.6L2052.0 1089.5L2040.6 1089.0L2029.2 1087.7L2017.8 1083.2L2015.3 1081.3L2011.5 1070.0L2013.8 1058.7L2017.6 1047.4L2017.8 1042.3L2017.9 1036.1L2017.8 1035.8L2010.7 1024.8L2006.3 1020.4L1995.3 1013.5L1994.9 1013.2L1994.4 1013.5L1983.5 1020.9L1980.7 1024.8L1972.0 1036.0L1971.9 1036.1L1960.6 1044.6L1949.2 1045.2L1938.6 1036.1L1937.8 1033.9L1935.8 1024.8L1934.8 1013.5L1932.8 1002.2L1927.9 990.9L1926.3 988.8L1918.4 979.6L1914.9 976.2L1906.0 968.3L1903.5 966.6L1892.1 963.0L1880.6 965.6L1877.1 968.3L1876.0 979.6L1879.1 990.9L1880.6 1000.8L1880.9 1002.2L1880.6 1004.1L1879.3 1013.5L1874.7 1024.8L1869.8 1036.1L1869.2 1043.5L1868.8 1047.4L1866.4 1058.7L1857.8 1064.1L1846.3 1063.7L1834.9 1059.3L1833.5 1058.7L1823.5 1053.8L1812.1 1047.7L1811.7 1047.4L1803.9 1036.1L1801.4 1024.8L1800.6 1016.4L1800.2 1013.5L1797.8 1002.2L1789.2 993.8L1777.8 999.5L1772.0 1002.2L1766.4 1004.0L1754.9 1007.8L1743.5 1010.4L1732.1 1011.7L1720.7 1012.0L1709.2 1011.0L1697.8 1008.3L1686.4 1002.3L1686.2 1002.2L1674.9 991.5L1674.3 990.9L1663.5 984.7L1652.1 980.9L1648.2 979.6L1640.7 977.1L1629.2 971.3L1623.8 968.3L1617.8 964.2L1606.4 962.9L1601.3 968.3L1595.0 974.5L1589.5 979.6L1583.5 982.4L1572.1 984.8L1560.7 985.2L1549.3 983.9L1537.8 981.2L1531.0 979.6L1526.4 978.5L1515.0 976.2L1503.5 973.6L1492.1 969.8L1488.0 968.3L1480.7 964.6L1469.3 961.3L1457.8 961.6L1446.4 963.3L1435.0 961.6L1429.0 957.0L1423.6 953.4L1414.5 945.7L1412.1 942.7L1404.2 934.3L1403.4 923.0L1412.1 916.3L1422.3 911.7L1423.6 911.4L1435.0 909.5L1446.4 908.9L1457.8 908.9L1469.3 909.1L1480.7 908.9L1492.1 907.1L1503.4 900.4L1503.5 900.2L1506.6 889.1L1503.5 882.5L1501.6 877.8L1492.1 869.1L1489.3 866.5L1480.7 861.7L1469.3 857.4L1457.8 856.7L1446.4 857.9L1435.0 857.1L1431.5 855.2L1423.6 851.2L1412.6 843.9L1412.1 843.7L1400.7 839.7L1389.3 836.3L1378.4 832.6L1377.8 832.5L1366.4 830.5L1355.0 828.7L1343.6 826.4L1332.1 823.3L1326.9 821.3L1320.7 820.0L1309.3 817.7L1297.9 815.9L1286.4 815.0L1275.0 814.7L1263.6 814.5L1252.2 814.2L1240.7 814.2L1229.3 815.1L1217.9 817.3L1206.4 820.2L1200.7 821.3L1195.0 823.3L1183.6 823.7L1172.2 822.7L1160.7 823.2L1149.3 827.8L1142.0 832.6L1137.9 837.6L1129.2 843.9L1126.5 850.0L1120.7 855.2L1126.5 857.6L1132.7 866.5L1137.9 873.9L1139.7 877.8L1142.0 889.1L1138.8 900.4L1137.9 901.4L1126.5 906.3L1115.0 906.4L1103.6 904.9L1092.2 903.0L1080.8 901.1L1077.1 900.4L1069.3 897.8L1057.9 892.6L1051.0 889.1L1046.5 884.2L1035.0 881.1L1023.6 879.3L1019.3 877.8L1012.2 874.0L1006.7 866.5L1002.9 855.2L1000.8 850.3L995.8 843.9L989.3 839.9L977.9 839.4L966.5 843.9L966.5 843.9L955.1 855.0L953.5 855.2L943.6 856.6L942.0 855.2L932.2 849.2L922.7 843.9L920.8 843.1L909.3 838.6L897.9 833.3L896.7 832.6L886.5 826.3L878.9 821.3L875.1 819.5L863.6 813.7L856.6 810.0L852.2 807.8L840.8 805.0L829.4 805.5L817.9 806.4L806.5 805.0L798.3 798.7L795.1 791.2L793.9 787.4L792.9 776.1L792.6 764.8L783.7 756.0L779.6 753.5L772.2 751.0L760.8 745.5L753.9 742.2L749.4 740.3L737.9 735.4L731.9 730.9L726.5 721.0L725.9 719.6L725.9 708.3L726.5 705.8L732.2 697.0L737.9 689.7L743.4 685.7L737.9 684.6L726.5 685.1L715.1 685.6L703.7 681.8L693.4 674.4L692.2 673.7L680.8 668.5L669.4 665.5L659.8 663.0L658.0 662.4L646.5 656.7L635.1 654.5L626.3 663.0L623.7 663.9L612.3 667.5L600.8 668.8L589.4 668.3L578.0 667.2L566.5 666.8L555.1 668.2L543.7 668.7L532.3 665.3L528.3 663.0L520.8 659.9L509.4 654.5L504.0 651.7L498.0 647.2L492.1 640.4L488.2 629.1L486.6 620.4L486.0 617.8L479.8 606.5L475.1 602.4L463.7 598.2L452.3 597.3L440.8 598.4L429.4 601.2L418.0 606.1L417.3 606.5L406.6 610.5L395.1 613.9L383.7 615.1L372.3 614.7L360.9 613.8L360.9 606.5L360.9 595.2L360.9 583.9L360.9 572.6L360.9 561.3L360.9 550.0L360.9 538.7L360.9 527.4L360.9 516.1L360.9 504.8L360.9 493.5L360.9 482.2L360.9 470.9L360.9 459.6L360.9 448.3L360.9 442.1ZM515.9 538.7L515.4 550.0L520.8 558.4L526.6 561.3L532.3 563.1L537.8 561.3L543.7 559.2L552.5 550.0L555.1 539.5L555.4 538.7L555.1 537.8L543.7 528.2L532.3 528.0L520.8 532.8ZM631.1 606.5L623.7 610.0L614.6 617.8L615.2 629.1L623.3 640.4L623.7 641.1L635.1 650.4L646.5 646.4L649.3 640.4L656.5 629.1L658.0 623.9L659.6 617.8L658.0 613.6L652.2 606.5L646.5 604.8L635.1 605.4ZM809.8 708.3L806.5 712.6L802.7 719.6L799.6 730.9L797.4 742.2L797.3 753.5L806.5 756.8L817.9 758.0L829.4 758.6L840.8 758.1L852.2 755.5L856.7 753.5L863.6 748.4L867.7 742.2L868.8 730.9L866.4 719.6L863.6 714.3L859.1 708.3L852.2 704.1L840.8 701.4L829.4 701.8L817.9 704.5ZM1073.6 832.6L1069.3 837.8L1063.9 843.9L1057.9 852.5L1056.3 855.2L1057.9 862.3L1069.3 863.3L1080.8 859.7L1092.2 856.8L1100.3 855.2L1103.6 853.3L1111.7 843.9L1103.9 832.6L1103.6 832.4L1092.2 824.1L1080.8 826.1ZM1560.4 900.4L1555.1 911.7L1555.2 923.0L1560.1 934.3L1560.7 935.0L1572.1 941.7L1583.5 942.4L1593.6 934.3L1595.0 931.8L1597.9 923.0L1600.8 911.7L1599.8 900.4L1595.0 896.4L1583.5 892.7L1572.1 893.8L1560.7 900.2Z" fill="#d6556d" stroke="#d6556d" stroke-width="0.8" fill-rule="evenodd"/>
<path d="M418.0 606.1L429.4 601.2L440.8 598.4L452.3 597.3L463.7 598.2L475.1 602.4L479.8 606.5L486.0 617.8L486.6 620.4L488.2 629.1L492.1 640.4L498.0 647.2L504.0 651.7L509.4 654.5L520.8 659.9L528.3 663.0L532.3 665.3L543.7 668.7L555.1 668.2L566.5 666.8L578.0 667.2L589.4 668.3L600.8 668.8L612.3 667.5L623.7 663.9L626.3 663.0L635.1 654.5L646.5 656.7L658.0 662.4L659.8 663.0L669.4 665.5L680.8 668.5L692.2 673.7L693.4 674.4L703.7 681.8L715.1 685.6L726.5 685.1L737.9 684.6L743.4 685.7L737.9 689.7L732.2 697.0L726.5 705.8L725.9 708.3L725.9 719.6L726.5 721.0L731.9 730.9L737.9 735.4L749.4 740.3L753.9 742.2L760.8 745.5L772.2 751.0L779.6 753.5L783.7 756.0L792.6 764.8L792.9 776.1L793.9 787.4L795.1 791.2L798.3 798.7L806.5 805.0L817.9 806.4L829.4 805.5L840.8 805.0L852.2 807.8L856.6 810.0L863.6 813.7L875.1 819.5L878.9 821.3L886.5 826.3L896.7 832.6L897.9 833.3L909.3 838.6L920.8 843.1L922.7 843.9L932.2 849.2L942.0 855.2L943.6 856.6L953.5 855.2L955.1 855.0L966.5 843.9L966.5 843.9L977.9 839.4L989.3 839.9L995.8 843.9L1000.8 850.3L1002.9 855.2L1006.7 866.5L1012.2 874.0L1019.3 877.8L1023.6 879.3L1035.0 881.1L1046.5 884.2L1051.0 889.1L1057.9 892.6L1069.3 897.8L1077.1 900.4L1080.8 901.1L1092.2 903.0L1103.6 904.9L1115.0 906.4L1126.5 906.3L1137.9 901.4L1138.8 900.4L1142.0 889.1L1139.7 877.8L1137.9 873.9L1132.7 866.5L1126.5 857.6L1120.7 855.2L1126.5 850.0L1129.2 843.9L1137.9 837.6L1142.0 832.6L1149.3 827.8L1160.7 823.2L1172.2 822.7L1183.6 823.7L1195.0 823.3L1200.7 821.3L1206.4 820.2L1217.9 817.3L1229.3 815.1L1240.7 814.2L1252.2 814.2L1263.6 814.5L1275.0 814.7L1286.4 815.0L1297.9 815.9L1309.3 817.7L1320.7 820.0L1326.9 821.3L1332.1 823.3L1343.6 826.4L1355.0 828.7L1366.4 830.5L1377.8 832.5L1378.4 832.6L1389.3 836.3L1400.7 839.7L1412.1 843.7L1412.6 843.9L1423.6 851.2L1431.5 855.2L1435.0 857.1L1446.4 857.9L1457.8 856.7L1469.3 857.4L1480.7 861.7L1489.3 866.5L1492.1 869.1L1501.6 877.8L1503.5 882.5L1506.6 889.1L1503.5 900.2L1503.4 900.4L1492.1 907.1L1480.7 908.9L1469.3 909.1L1457.8 908.9L1446.4 908.9L1435.0 909.5L1423.6 911.4L1422.3 911.7L1412.1 916.3L1403.4 923.0L1404.2 934.3L1412.1 942.7L1414.5 945.7L1423.6 953.4L1429.0 957.0L1435.0 961.6L1446.4 963.3L1457.8 961.6L1469.3 961.3L1480.7 964.6L1488.0 968.3L1492.1 969.8L1503.5 973.6L1515.0 976.2L1526.4 978.5L1531.0 979.6L1537.8 981.2L1549.3 983.9L1560.7 985.2L1572.1 984.8L1583.5 982.4L1589.5 979.6L1595.0 974.5L1601.3 968.3L1606.4 962.9L1617.8 964.2L1623.8 968.3L1629.2 971.3L1640.7 977.1L1648.2 979.6L1652.1 980.9L1663.5 984.7L1674.3 990.9L1674.9 991.5L1686.2 1002.2L1686.4 1002.3L1697.8 1008.3L1709.2 1011.0L1720.7 1012.0L1732.1 1011.7L1743.5 1010.4L1754.9 1007.8L1766.4 1004.0L1772.0 1002.2L1777.8 999.5L1789.2 993.8L1797.8 1002.2L1800.2 1013.5L1800.6 1016.4L1801.4 1024.8L1803.9 1036.1L1811.7 1047.4L1812.1 1047.7L1823.5 1053.8L1833.5 1058.7L1834.9 1059.3L1846.3 1063.7L1857.8 1064.1L1866.4 1058.7L1868.8 1047.4L1869.2 1043.5L1869.8 1036.1L1874.7 1024.8L1879.3 1013.5L1880.6 1004.1L1880.9 1002.2L1880.6 1000.8L1879.1 990.9L1876.0 979.6L1877.1 968.3L1880.6 965.6L1892.1 963.0L1903.5 966.6L1906.0 968.3L1914.9 976.2L1918.4 979.6L1926.3 988.8L1927.9 990.9L1932.8 1002.2L1934.8 1013.5L1935.8 1024.8L1937.8 1033.9L1938.6 1036.1L1949.2 1045.2L1960.6 1044.6L1971.9 1036.1L1972.0 1036.0L1980.7 1024.8L1983.5 1020.9L1994.4 1013.5L1994.9 1013.2L1995.3 1013.5L2006.3 1020.4L2010.7 1024.8L2017.8 1035.8L2017.9 1036.1L2017.8 1042.3L2017.6 1047.4L2013.8 1058.7L2011.5 1070.0L2015.3 1081.3L2017.8 1083.2L2029.2 1087.7L2040.6 1089.0L2052.0 1089.5L2063.5 1090.6L2071.3 1092.6L2074.9 1093.7L2086.3 1097.9L2097.7 1100.0L2109.2 1097.1L2120.6 1092.7L2121.1 1092.6L2132.0 1089.5L2143.4 1088.7L2154.9 1089.0L2166.3 1089.6L2166.3 1092.6L2166.3 1103.9L2166.3 1113.6L2154.9 1112.6L2143.4 1112.0L2132.0 1113.5L2127.0 1115.2L2120.6 1117.6L2109.2 1121.1L2097.7 1122.4L2086.3 1121.3L2074.9 1118.2L2067.3 1115.2L2063.5 1113.8L2052.0 1112.1L2040.6 1112.7L2029.2 1114.3L2021.2 1115.2L2017.8 1115.7L2006.3 1116.8L1994.9 1117.7L1983.5 1118.7L1972.0 1119.2L1960.6 1118.9L1949.2 1117.1L1943.9 1115.2L1937.8 1112.4L1926.4 1103.9L1926.3 1103.8L1914.9 1092.7L1914.8 1092.6L1903.5 1085.9L1892.1 1083.5L1880.6 1084.7L1869.2 1087.0L1857.8 1088.2L1846.3 1087.3L1834.9 1084.4L1825.0 1081.3L1823.5 1080.8L1812.1 1080.7L1810.6 1081.3L1800.6 1087.1L1794.1 1092.6L1789.2 1097.3L1777.8 1103.8L1777.4 1103.9L1766.4 1105.7L1757.4 1103.9L1754.9 1103.4L1743.5 1096.7L1737.6 1092.6L1732.1 1089.8L1720.7 1085.6L1709.2 1082.6L1704.7 1081.3L1697.8 1078.8L1686.4 1072.1L1684.0 1070.0L1674.9 1060.7L1672.5 1058.7L1663.5 1054.1L1652.1 1050.9L1640.7 1048.3L1637.3 1047.4L1629.2 1044.5L1617.8 1038.0L1615.5 1036.1L1606.4 1026.5L1604.8 1024.8L1595.0 1016.8L1588.9 1013.5L1583.5 1011.5L1572.1 1009.9L1560.7 1010.5L1549.3 1011.2L1537.8 1010.3L1526.4 1006.3L1519.1 1002.2L1515.0 1000.4L1503.5 996.3L1492.1 993.8L1480.7 993.9L1469.3 998.4L1464.1 1002.2L1457.8 1006.5L1446.4 1011.5L1435.0 1013.0L1423.6 1011.5L1412.1 1006.2L1407.2 1002.2L1400.7 994.0L1398.1 990.9L1389.3 982.4L1380.8 979.6L1377.8 978.9L1366.4 979.3L1365.2 979.6L1355.0 981.3L1343.6 982.7L1332.1 982.3L1325.2 979.6L1320.7 976.1L1315.9 968.3L1317.6 957.0L1320.7 953.4L1330.6 945.7L1332.1 944.8L1343.6 937.8L1347.6 934.3L1351.8 923.0L1346.2 911.7L1343.6 909.8L1332.1 906.3L1320.7 906.1L1309.3 907.4L1297.9 909.1L1286.4 909.5L1275.0 909.1L1263.6 909.2L1252.2 911.2L1250.7 911.7L1240.7 916.5L1232.8 923.0L1229.3 926.6L1220.7 934.3L1217.9 936.2L1206.4 941.4L1195.0 944.2L1184.0 945.7L1183.6 945.7L1172.2 945.9L1169.5 945.7L1160.7 944.7L1149.3 941.2L1137.9 934.7L1137.4 934.3L1126.5 928.7L1115.0 923.6L1113.8 923.0L1103.6 920.6L1092.2 918.4L1080.8 917.1L1069.3 916.3L1057.9 915.5L1046.5 913.5L1040.0 911.7L1035.0 910.3L1023.6 907.2L1012.2 906.3L1000.8 907.5L989.3 909.7L978.9 911.7L977.9 911.9L966.5 915.2L955.1 922.5L954.6 923.0L944.6 934.3L943.6 935.2L932.2 941.7L920.8 944.1L909.3 943.3L897.9 939.6L889.6 934.3L886.5 931.8L878.3 923.0L875.1 918.3L871.7 911.7L867.5 900.4L863.6 891.4L862.6 889.1L852.2 878.1L851.6 877.8L840.8 874.6L829.4 874.5L817.9 875.4L806.5 875.7L795.1 873.3L784.9 866.5L783.7 865.4L776.0 855.2L772.2 850.2L768.4 843.9L763.1 832.6L760.8 826.6L758.7 821.3L750.7 810.0L749.4 809.0L737.9 805.1L726.5 803.9L715.1 803.3L703.7 802.8L692.2 798.7L692.2 798.7L690.6 787.4L690.8 776.1L691.2 764.8L690.4 753.5L684.6 742.2L680.8 739.5L669.4 737.3L658.0 737.6L646.5 738.1L635.1 736.6L623.7 732.3L620.6 730.9L612.3 725.6L604.6 719.6L600.8 714.2L596.7 708.3L589.4 702.1L578.0 697.7L566.8 697.0L566.5 696.9L566.4 697.0L555.1 697.9L543.7 698.4L536.0 697.0L532.3 696.3L520.8 688.8L517.9 685.7L509.4 678.0L504.4 674.4L498.0 670.7L486.6 665.8L479.8 663.0L475.1 660.1L466.1 651.7L463.7 646.2L461.0 640.4L453.2 629.1L452.3 628.5L440.8 625.9L429.4 626.9L419.0 629.1L418.0 629.4L406.6 632.5L395.1 634.4L383.7 635.0L372.3 634.8L360.9 634.4L360.9 629.1L360.9 617.8L360.9 613.8L372.3 614.7L383.7 615.1L395.1 613.9L406.6 610.5L417.3 606.5ZM635.1 605.4L646.5 604.8L652.2 606.5L658.0 613.6L659.6 617.8L658.0 623.9L656.5 629.1L649.3 640.4L646.5 646.4L635.1 650.4L623.7 641.1L623.3 640.4L615.2 629.1L614.6 617.8L623.7 610.0L631.1 606.5ZM372.3 670.3L383.7 670.4L395.1 670.0L406.6 669.0L418.0 668.2L429.4 668.5L440.8 672.0L443.8 674.4L448.6 685.7L448.3 697.0L447.3 708.3L447.8 719.6L452.3 728.3L454.9 730.9L463.7 735.3L475.1 736.5L486.6 735.9L498.0 735.1L509.4 735.6L520.8 737.1L532.3 738.1L543.7 737.8L555.1 737.3L566.5 737.7L578.0 741.6L578.7 742.2L586.3 753.5L589.4 764.5L589.5 764.8L593.7 776.1L600.8 785.6L603.0 787.4L612.3 793.9L620.9 798.7L623.7 800.2L635.1 804.2L646.5 805.4L658.0 805.2L669.4 804.7L680.8 804.9L688.2 810.0L691.0 821.3L692.2 824.1L696.0 832.6L703.7 839.8L709.3 843.9L715.1 847.9L723.0 855.2L726.5 866.5L725.8 877.8L725.2 889.1L726.5 893.2L729.8 900.4L737.9 906.9L744.7 911.7L749.4 915.3L756.4 923.0L760.8 928.6L766.3 934.3L772.2 938.8L783.7 944.7L785.2 945.7L794.4 957.0L793.7 968.3L783.7 978.9L782.3 979.6L772.2 983.7L760.8 988.3L754.9 990.9L749.4 994.7L737.9 995.3L732.0 990.9L726.5 987.8L715.1 982.1L709.6 979.6L703.7 976.9L693.7 968.3L692.2 965.2L689.1 957.0L687.3 945.7L684.8 934.3L680.8 928.1L669.4 928.9L662.6 934.3L658.0 936.9L646.5 942.7L635.1 944.1L623.7 936.8L622.0 934.3L619.0 923.0L619.2 911.7L620.4 900.4L621.0 889.1L619.2 877.8L614.0 866.5L612.3 864.3L600.8 856.5L590.0 855.2L589.4 855.1L588.7 855.2L578.0 856.4L566.5 857.9L555.1 857.9L543.7 857.4L532.3 857.9L520.8 859.6L509.4 860.2L498.0 856.8L495.9 855.2L486.6 850.1L475.1 844.8L473.3 843.9L463.7 839.7L454.4 832.6L452.3 830.1L446.7 821.3L440.8 812.5L438.0 810.0L429.4 805.2L418.0 803.8L406.6 804.3L395.1 805.5L383.7 806.0L372.3 805.8L360.9 805.5L360.9 798.7L360.9 787.4L360.9 776.1L360.9 764.8L360.9 753.5L360.9 742.2L360.9 730.9L360.9 719.6L360.9 708.3L360.9 697.0L360.9 685.7L360.9 674.4L360.9 670.0ZM817.9 704.5L829.4 701.8L840.8 701.4L852.2 704.1L859.1 708.3L863.6 714.3L866.4 719.6L868.8 730.9L867.7 742.2L863.6 748.4L856.7 753.5L852.2 755.5L840.8 758.1L829.4 758.6L817.9 758.0L806.5 756.8L797.3 753.5L797.4 742.2L799.6 730.9L802.7 719.6L806.5 712.6L809.8 708.3ZM1080.8 826.1L1092.2 824.1L1103.6 832.4L1103.9 832.6L1111.7 843.9L1103.6 853.3L1100.3 855.2L1092.2 856.8L1080.8 859.7L1069.3 863.3L1057.9 862.3L1056.3 855.2L1057.9 852.5L1063.9 843.9L1069.3 837.8L1073.6 832.6ZM1560.7 900.2L1572.1 893.8L1583.5 892.7L1595.0 896.4L1599.8 900.4L1600.8 911.7L1597.9 923.0L1595.0 931.8L1593.6 934.3L1583.5 942.4L1572.1 941.7L1560.7 935.0L1560.1 934.3L1555.2 923.0L1555.1 911.7L1560.4 900.4ZM2132.0 1022.3L2143.4 1020.7L2154.9 1021.3L2166.3 1022.5L2166.3 1024.8L2166.3 1036.1L2166.3 1047.4L2166.3 1052.7L2154.9 1053.2L2143.4 1053.4L2132.0 1052.7L2120.6 1049.6L2117.6 1047.4L2115.6 1036.1L2120.6 1030.4L2126.3 1024.8Z" fill="#ea7457" stroke="#ea7457" stroke-width="0.8" fill-rule="evenodd"/>
<path d="M429.4 626.9L440.8 625.9L452.3 628.5L453.2 629.1L461.0 640.4L463.7 646.2L466.1 651.7L475.1 660.1L479.8 663.0L486.6 665.8L498.0 670.7L504.4 674.4L509.4 678.0L517.9 685.7L520.8 688.8L532.3 696.3L536.0 697.0L543.7 698.4L555.1 697.9L566.4 697.0L566.5 696.9L566.8 697.0L578.0 697.7L589.4 702.1L596.7 708.3L600.8 714.2L604.6 719.6L612.3 725.6L620.6 730.9L623.7 732.3L635.1 736.6L646.5 738.1L658.0 737.6L669.4 737.3L680.8 739.5L684.6 742.2L690.4 753.5L691.2 764.8L690.8 776.1L690.6 787.4L692.2 798.7L692.2 798.7L703.7 802.8L715.1 803.3L726.5 803.9L737.9 805.1L749.4 809.0L750.7 810.0L758.7 821.3L760.8 826.6L763.1 832.6L768.4 843.9L772.2 850.2L776.0 855.2L783.7 865.4L784.9 866.5L795.1 873.3L806.5 875.7L817.9 875.4L829.4 874.5L840.8 874.6L851.6 877.8L852.2 878.1L862.6 889.1L863.6 891.4L867.5 900.4L871.7 911.7L875.1 918.3L878.3 923.0L886.5 931.8L889.6 934.3L897.9 939.6L909.3 943.3L920.8 944.1L932.2 941.7L943.6 935.2L944.6 934.3L954.6 923.0L955.1 922.5L966.5 915.2L977.9 911.9L978.9 911.7L989.3 909.7L1000.8 907.5L1012.2 906.3L1023.6 907.2L1035.0 910.3L1040.0 911.7L1046.5 913.5L1057.9 915.5L1069.3 916.3L1080.8 917.1L1092.2 918.4L1103.6 920.6L1113.8 923.0L1115.0 923.6L1126.5 928.7L1137.4 934.3L1137.9 934.7L1149.3 941.2L1160.7 944.7L1169.5 945.7L1172.2 945.9L1183.6 945.7L1184.0 945.7L1195.0 944.2L1206.4 941.4L1217.9 936.2L1220.7 934.3L1229.3 926.6L1232.8 923.0L1240.7 916.5L1250.7 911.7L1252.2 911.2L1263.6 909.2L1275.0 909.1L1286.4 909.5L1297.9 909.1L1309.3 907.4L1320.7 906.1L1332.1 906.3L1343.6 909.8L1346.2 911.7L1351.8 923.0L1347.6 934.3L1343.6 937.8L1332.1 944.8L1330.6 945.7L1320.7 953.4L1317.6 957.0L1315.9 968.3L1320.7 976.1L1325.2 979.6L1332.1 982.3L1343.6 982.7L1355.0 981.3L1365.2 979.6L1366.4 979.3L1377.8 978.9L1380.8 979.6L1389.3 982.4L1398.1 990.9L1400.7 994.0L1407.2 1002.2L1412.1 1006.2L1423.6 1011.5L1435.0 1013.0L1446.4 1011.5L1457.8 1006.5L1464.1 1002.2L1469.3 998.4L1480.7 993.9L1492.1 993.8L1503.5 996.3L1515.0 1000.4L1519.1 1002.2L1526.4 1006.3L1537.8 1010.3L1549.3 1011.2L1560.7 1010.5L1572.1 1009.9L1583.5 1011.5L1588.9 1013.5L1595.0 1016.8L1604.8 1024.8L1606.4 1026.5L1615.5 1036.1L1617.8 1038.0L1629.2 1044.5L1637.3 1047.4L1640.7 1048.3L1652.1 1050.9L1663.5 1054.1L1672.5 1058.7L1674.9 1060.7L1684.0 1070.0L1686.4 1072.1L1697.8 1078.8L1704.7 1081.3L1709.2 1082.6L1720.7 1085.6L1732.1 1089.8L1737.6 1092.6L1743.5 1096.7L1754.9 1103.4L1757.4 1103.9L1766.4 1105.7L1777.4 1103.9L1777.8 1103.8L1789.2 1097.3L1794.1 1092.6L1800.6 1087.1L1810.6 1081.3L1812.1 1080.7L1823.5 1080.8L1825.0 1081.3L1834.9 1084.4L1846.3 1087.3L1857.8 1088.2L1869.2 1087.0L1880.6 1084.7L1892.1 1083.5L1903.5 1085.9L1914.8 1092.6L1914.9 1092.7L1926.3 1103.8L1926.4 1103.9L1937.8 1112.4L1943.9 1115.2L1949.2 1117.1L1960.6 1118.9L1972.0 1119.2L1983.5 1118.7L1994.9 1117.7L2006.3 1116.8L2017.8 1115.7L2021.2 1115.2L2029.2 1114.3L2040.6 1112.7L2052.0 1112.1L2063.5 1113.8L2067.3 1115.2L2074.9 1118.2L2086.3 1121.3L2097.7 1122.4L2109.2 1121.1L2120.6 1117.6L2127.0 1115.2L2132.0 1113.5L2143.4 1112.0L2154.9 1112.6L2166.3 1113.6L2166.3 1115.2L2166.3 1126.5L2166.3 1137.8L2166.3 1149.1L2166.3 1160.4L2166.3 1171.7L2166.3 1183.0L2166.3 1194.3L2166.3 1205.6L2166.3 1217.0L2166.3 1228.3L2166.3 1239.6L2154.9 1239.6L2143.4 1239.6L2132.0 1239.6L2120.6 1239.6L2109.2 1239.6L2097.7 1239.6L2086.3 1239.6L2074.9 1239.6L2063.5 1239.6L2052.0 1239.6L2040.6 1239.6L2029.2 1239.6L2017.8 1239.6L2006.3 1239.6L1994.9 1239.6L1983.5 1239.6L1972.0 1239.6L1960.6 1239.6L1949.2 1239.6L1937.8 1239.6L1926.3 1239.6L1914.9 1239.6L1903.5 1239.6L1892.1 1239.6L1880.6 1239.6L1869.2 1239.6L1857.8 1239.6L1846.3 1239.6L1834.9 1239.6L1823.5 1239.6L1812.1 1239.6L1800.6 1239.6L1789.2 1239.6L1777.8 1239.6L1766.4 1239.6L1754.9 1239.6L1743.5 1239.6L1732.1 1239.6L1720.7 1239.6L1709.2 1239.6L1697.8 1239.6L1686.4 1239.6L1674.9 1239.6L1663.5 1239.6L1652.1 1239.6L1640.7 1239.6L1629.2 1239.6L1617.8 1239.6L1606.4 1239.6L1595.0 1239.6L1583.5 1239.6L1572.1 1239.6L1560.7 1239.6L1549.3 1239.6L1537.8 1239.6L1526.4 1239.6L1515.0 1239.6L1503.5 1239.6L1492.1 1239.6L1480.7 1239.6L1469.3 1239.6L1457.8 1239.6L1446.4 1239.6L1435.0 1239.6L1423.6 1239.6L1412.1 1239.6L1400.7 1239.6L1389.3 1239.6L1377.8 1239.6L1366.4 1239.6L1355.0 1239.6L1343.6 1239.6L1332.1 1239.6L1320.7 1239.6L1309.3 1239.6L1297.9 1239.6L1286.4 1239.6L1275.0 1239.6L1263.6 1239.6L1252.2 1239.6L1240.7 1239.6L1229.3 1239.6L1217.9 1239.6L1206.4 1239.6L1195.0 1239.6L1183.6 1239.6L1172.2 1239.6L1160.7 1239.6L1149.3 1239.6L1137.9 1239.6L1126.5 1239.6L1115.0 1239.6L1103.6 1239.6L1092.2 1239.6L1080.8 1239.6L1069.3 1239.6L1057.9 1239.6L1046.5 1239.6L1035.0 1239.6L1023.6 1239.6L1012.2 1239.6L1000.8 1239.6L989.3 1239.6L977.9 1239.6L966.5 1239.6L955.1 1239.6L943.6 1239.6L932.2 1239.6L920.8 1239.6L909.3 1239.6L897.9 1239.6L886.5 1239.6L875.1 1239.6L863.6 1239.6L852.2 1239.6L840.8 1239.6L829.4 1239.6L817.9 1239.6L806.5 1239.6L795.1 1239.6L783.7 1239.6L772.2 1239.6L760.8 1239.6L749.4 1239.6L737.9 1239.6L726.5 1239.6L715.1 1239.6L703.7 1239.6L692.2 1239.6L680.8 1239.6L669.4 1239.6L658.0 1239.6L646.5 1239.6L635.1 1239.6L623.7 1239.6L612.3 1239.6L600.8 1239.6L589.4 1239.6L578.0 1239.6L566.5 1239.6L555.1 1239.6L543.7 1239.6L532.3 1239.6L520.8 1239.6L509.4 1239.6L498.0 1239.6L486.6 1239.6L475.1 1239.6L463.7 1239.6L452.3 1239.6L440.8 1239.6L429.4 1239.6L418.0 1239.6L406.6 1239.6L395.1 1239.6L383.7 1239.6L372.3 1239.6L360.9 1239.6L360.9 1228.3L360.9 1217.0L360.9 1205.6L360.9 1194.3L360.9 1183.0L360.9 1171.7L360.9 1160.4L360.9 1149.1L360.9 1137.8L360.9 1126.5L360.9 1115.2L360.9 1103.9L360.9 1092.6L360.9 1081.3L360.9 1070.0L360.9 1058.7L360.9 1047.4L360.9 1036.1L360.9 1024.8L360.9 1013.5L360.9 1002.2L360.9 990.9L360.9 979.6L360.9 968.3L360.9 957.0L360.9 945.7L360.9 934.3L360.9 923.0L360.9 911.7L360.9 900.4L360.9 889.1L360.9 877.8L360.9 866.5L360.9 855.2L360.9 843.9L360.9 832.6L360.9 821.3L360.9 810.0L360.9 805.5L372.3 805.8L383.7 806.0L395.1 805.5L406.6 804.3L418.0 803.8L429.4 805.2L438.0 810.0L440.8 812.5L446.7 821.3L452.3 830.1L454.4 832.6L463.7 839.7L473.3 843.9L475.1 844.8L486.6 850.1L495.9 855.2L498.0 856.8L509.4 860.2L520.8 859.6L532.3 857.9L543.7 857.4L555.1 857.9L566.5 857.9L578.0 856.4L588.7 855.2L589.4 855.1L590.0 855.2L600.8 856.5L612.3 864.3L614.0 866.5L619.2 877.8L621.0 889.1L620.4 900.4L619.2 911.7L619.0 923.0L622.0 934.3L623.7 936.8L635.1 944.1L646.5 942.7L658.0 936.9L662.6 934.3L669.4 928.9L680.8 928.1L684.8 934.3L687.3 945.7L689.1 957.0L692.2 965.2L693.7 968.3L703.7 976.9L709.6 979.6L715.1 982.1L726.5 987.8L732.0 990.9L737.9 995.3L749.4 994.7L754.9 990.9L760.8 988.3L772.2 983.7L782.3 979.6L783.7 978.9L793.7 968.3L794.4 957.0L785.2 945.7L783.7 944.7L772.2 938.8L766.3 934.3L760.8 928.6L756.4 923.0L749.4 915.3L744.7 911.7L737.9 906.9L729.8 900.4L726.5 893.2L725.2 889.1L725.8 877.8L726.5 866.5L723.0 855.2L715.1 847.9L709.3 843.9L703.7 839.8L696.0 832.6L692.2 824.1L691.0 821.3L688.2 810.0L680.8 804.9L669.4 804.7L658.0 805.2L646.5 805.4L635.1 804.2L623.7 800.2L620.9 798.7L612.3 793.9L603.0 787.4L600.8 785.6L593.7 776.1L589.5 764.8L589.4 764.5L586.3 753.5L578.7 742.2L578.0 741.6L566.5 737.7L555.1 737.3L543.7 737.8L532.3 738.1L520.8 737.1L509.4 735.6L498.0 735.1L486.6 735.9L475.1 736.5L463.7 735.3L454.9 730.9L452.3 728.3L447.8 719.6L447.3 708.3L448.3 697.0L448.6 685.7L443.8 674.4L440.8 672.0L429.4 668.5L418.0 668.2L406.6 669.0L395.1 670.0L383.7 670.4L372.3 670.3L360.9 670.0L360.9 663.0L360.9 651.7L360.9 640.4L360.9 634.4L372.3 634.8L383.7 635.0L395.1 634.4L406.6 632.5L418.0 629.4L419.0 629.1Z" fill="#f89540" stroke="#f89540" stroke-width="0.8" fill-rule="evenodd"/>
<polygon points="766.3,1097.3 781.3,1082.3 796.3,1097.3 781.3,1112.3" fill="#ea7457"/>
<polygon points="772.5,1097.3 781.3,1088.5 790.1,1097.3 781.3,1106.1" fill="#d6556d"/>
<polygon points="776.8,1097.3 781.3,1092.8 785.8,1097.3 781.3,1101.8" fill="#bf3984"/>
<polygon points="779.5,1097.3 781.3,1095.5 783.1,1097.3 781.3,1099.1" fill="#a11b9b"/>
<polygon points="1310.2,1142.8 1323.2,1129.8 1336.2,1142.8 1323.2,1155.8" fill="#ea7457"/>
<polygon points="1315.7,1142.8 1323.2,1135.3 1330.7,1142.8 1323.2,1150.3" fill="#d6556d"/>
<polygon points="1320.7,1142.8 1323.2,1140.3 1325.7,1142.8 1323.2,1145.3" fill="#bf3984"/>
<polygon points="1802.0,1188.2 1813.9,1176.3 1825.8,1188.2 1813.9,1200.1" fill="#ea7457"/>
<polygon points="1807.4,1188.2 1813.9,1181.7 1820.4,1188.2 1813.9,1194.7" fill="#d6556d"/>
<polygon points="1811.7,1188.2 1813.9,1186.0 1816.1,1188.2 1813.9,1190.4" fill="#bf3984"/>
<polygon points="654.0,886.5 662.5,878.0 671.0,886.5 662.5,895.0" fill="#d6556d"/>
<polygon points="658.0,886.5 662.5,882.0 667.0,886.5 662.5,891.0" fill="#bf3984"/>
<polygon points="660.9,886.5 662.5,884.9 664.1,886.5 662.5,888.1" fill="#a11b9b"/>
<polygon points="399.5,693.6 408.8,684.3 418.1,693.6 408.8,702.9" fill="#d6556d"/>
<polygon points="405.3,693.6 408.8,690.1 412.3,693.6 408.8,697.1" fill="#bf3984"/>
<polygon points="393.2,575.6 405.7,569.6 418.2,575.6 405.7,581.6" fill="#bf3984"/>
<line x1="603.9" y1="296.4" x2="603.9" y2="1219.4" stroke="#b0b0b0" stroke-opacity="0.24" stroke-width="2.1"/>
<line x1="916.4" y1="296.4" x2="916.4" y2="1219.4" stroke="#b0b0b0" stroke-opacity="0.24" stroke-width="2.1"/>
<line x1="1228.9" y1="296.4" x2="1228.9" y2="1219.4" stroke="#b0b0b0" stroke-opacity="0.24" stroke-width="2.1"/>
<line x1="1541.4" y1="296.4" x2="1541.4" y2="1219.4" stroke="#b0b0b0" stroke-opacity="0.24" stroke-width="2.1"/>
<line x1="1853.9" y1="296.4" x2="1853.9" y2="1219.4" stroke="#b0b0b0" stroke-opacity="0.24" stroke-width="2.1"/>
<line x1="358.4" y1="441.0" x2="2136.4" y2="441.0" stroke="#b0b0b0" stroke-opacity="0.24" stroke-width="2.1"/>
<line x1="358.4" y1="649.3" x2="2136.4" y2="649.3" stroke="#b0b0b0" stroke-opacity="0.24" stroke-width="2.1"/>
<line x1="358.4" y1="857.6" x2="2136.4" y2="857.6" stroke="#b0b0b0" stroke-opacity="0.24" stroke-width="2.1"/>
<line x1="358.4" y1="1065.9" x2="2136.4" y2="1065.9" stroke="#b0b0b0" stroke-opacity="0.24" stroke-width="2.1"/>
<path d="M438.1 298.1 L429.6 298.9 L430.4 302.7 L434.3 306.6 L436.9 310.5 L437.4 314.3 L435.8 318.2 L432.7 323.6 L438.9 322.0 L446.6 322.5 L461.3 325.9 L472.1 330.5 L482.9 335.9 L492.1 339.3 L503.0 344.9 L513.8 342.9 L524.6 346.4 L536.9 352.9 L546.2 358.8 L551.6 366.8 L557.7 373.3 L566.2 376.5 L576.3 380.2 L587.1 382.5 L597.1 386.5 L602.5 393.0 L604.0 397.7 M604.0 398.4 L594.8 400.7 L587.1 403.5 L583.2 402.3 L579.3 396.9 L575.5 399.5 L570.1 404.6 L572.1 408.5 L570.9 411.5 L567.8 415.4 L561.6 419.6 L555.4 423.9 L551.6 428.2 L546.2 435.5 L542.3 439.0 L536.9 442.4 L529.2 447.8 L519.2 449.8 L514.5 452.0 L511.4 458.6 L507.6 465.6 L498.3 474.8 L489.8 483.8 L480.6 485.6 L475.9 487.2 L471.3 491.8 L470.5 493.0 L469.0 497.6 L469.0 502.3 L472.1 508.4 L475.9 517.7 L475.2 523.1 L470.5 528.5 L464.4 533.9 L462.8 536.2 L463.6 539.3 L459.0 543.2 L452.0 548.6 L449.7 552.4 L448.2 554.7 L442.8 557.0 L439.7 560.9 L441.2 565.5 L445.9 571.7 L447.4 581.0 L449.7 583.3 L453.6 584.8 L454.3 589.5 L452.0 596.4 L450.5 602.6 L448.9 607.2 L445.9 604.9 L441.2 604.9 L440.5 608.7 L442.8 614.9 L444.3 619.5 L441.2 622.6 L435.0 623.4 L428.9 623.4 L422.7 625.7 L418.1 631.9 L416.5 639.6 L416.5 648.9 L415.0 653.5 L408.8 656.6 L404.2 660.4 L401.9 665.8 L401.1 673.6 L402.6 682.8 L408.8 685.9 L418.1 690.5 L422.7 695.2 L427.3 699.8 L430.4 701.0 L439.7 703.3 L445.9 707.9 L450.5 711.8 L455.1 713.3 L461.3 724.1 L467.5 728.0 L476.7 726.5 L483.7 728.8 L492.1 737.3 L496.8 739.6 L496.0 724.1 L498.3 718.0 L504.5 715.7 L510.7 715.7 L511.4 721.1 L516.8 723.4 L527.6 726.5 L532.3 731.9 L536.9 738.0 L546.2 741.1 L552.3 745.8 L560.0 751.2 L567.8 752.7 L575.5 753.5 L578.6 756.6 L579.3 761.2 L584.7 765.8 L594.0 767.4 L598.6 766.6 L601.7 768.9 L603.3 774.3 L609.4 775.8 L621.8 778.2 L634.1 780.5 L641.8 785.9 L646.5 796.7 L650.3 805.2 L656.0 810.6 L662.2 816.7 L665.3 822.9 L661.4 824.5 L665.3 828.3 L668.3 831.4 L674.5 829.9 L678.4 823.7 L682.2 822.1 L688.4 824.5 L694.6 830.6 L697.7 836.8 L700.0 842.2 L711.6 847.6 L720.8 852.2 L725.4 856.9 L731.6 861.5 L745.5 864.6 L753.2 870.0 L760.9 876.9 L773.3 883.9 L782.5 888.5 L788.7 887.7 L794.9 882.3 L801.1 876.9 L807.2 874.6 L818.0 875.4 L824.2 877.7 L831.9 884.6 L842.7 888.5 L856.6 898.5 L870.5 909.0 L882.9 914.4 L895.2 924.4 L904.5 926.7 L921.4 924.4 L947.7 919.0 L953.8 921.3 L958.5 932.1 L960.8 947.6 L963.1 956.8 L968.0 962.2 L994.2 963.8 L1009.7 970.7 L1022.0 973.0 L1046.7 972.6 L1056.0 975.4 L1066.8 984.6 L1072.9 993.9 L1079.1 997.0 L1085.3 996.2 L1091.5 991.6 L1096.9 983.1 L1094.5 977.7 L1093.8 972.3 L1096.1 968.4 L1102.3 967.3 L1120.8 967.6 L1142.4 970.4 L1157.8 976.1 L1168.6 981.5 L1187.1 990.0 L1197.9 993.6 L1199.5 991.6 L1203.3 990.0 L1202.6 985.4 L1197.9 980.0 L1194.1 975.4 L1196.4 973.8 L1208.7 972.7 L1213.4 971.5 L1218.0 972.6 L1227.3 973.8 L1233.4 971.5 L1244.2 959.9 L1248.9 958.1 L1252.7 958.7 L1255.0 963.0 L1262.8 966.9 L1267.4 973.8 L1275.1 973.8 L1280.0 976.9 L1283.1 983.1 L1289.3 986.9 L1303.1 990.0 L1318.6 993.1 L1334.0 995.7 L1347.9 997.0 L1355.6 1001.6 L1361.8 1009.3 L1364.9 1020.1 L1365.6 1030.9 L1364.1 1040.2 L1360.2 1046.3 L1357.9 1053.3 L1358.7 1057.9 L1361.8 1060.2 L1372.6 1063.3 L1388.0 1066.1 L1394.2 1063.3 L1398.8 1064.1 L1401.9 1067.2 L1409.6 1070.3 L1420.4 1074.1 L1424.3 1078.8 L1426.6 1086.5 L1432.8 1088.8 L1440.5 1091.1 L1440.9 1098.1 L1446.5 1098.4 L1458.9 1093.7 L1462.6 1093.5 L1470.1 1096.5 L1471.3 1109.9 L1477.5 1115.5 L1497.4 1120.4 L1507.3 1118.3 L1517.3 1109.9 L1524.7 1111.1 L1543.4 1101.8 L1561.4 1095.6 L1580.6 1104.9 L1584.3 1114.8 L1583.1 1131.0 L1585.6 1138.4 L1600.0 1149.0 L1592.0 1142.9 L1600.6 1150.5 L1602.8 1148.3 L1607.1 1149.4 L1609.3 1155.9 L1615.7 1153.7 L1624.4 1147.2 L1635.2 1139.7 L1639.5 1138.6 L1648.1 1137.5 L1656.8 1140.7 L1670.8 1148.9 L1678.3 1149.4 L1682.7 1151.5 L1687.0 1151.5 L1695.6 1147.2 L1704.2 1146.1 L1708.6 1147.2 L1709.6 1152.0 L1717.2 1152.6 L1725.8 1155.9 L1740.9 1162.3 L1750.6 1164.5 L1758.2 1172.0 L1766.8 1175.3 L1779.8 1180.7 L1788.4 1186.1 L1794.9 1187.1 L1799.2 1181.8 L1802.4 1181.3 L1810.0 1183.9 L1816.5 1181.8 L1824.0 1175.3 L1827.3 1172.0 L1829.4 1168.8 L1840.2 1164.5 L1848.9 1161.2 L1854.2 1155.9 L1859.6 1152.6 L1861.8 1153.7 L1864.0 1166.6 L1868.3 1179.6 L1874.8 1188.2 L1881.2 1191.5 L1892.0 1190.4 L1898.5 1188.9 L1901.7 1190.4 L1905.0 1196.9 L1917.9 1202.3 L1921.2 1201.2 L1925.5 1192.5 L1930.9 1188.2 L1941.7 1185.0 L1952.5 1185.6 L1958.9 1188.2 L1967.6 1192.5 L1975.1 1194.7 L1980.5 1192.5 L1989.2 1188.2 L1995.6 1186.1 L2001.0 1188.2 L2005.3 1189.3 L2009.7 1187.1 L2011.8 1181.8 L2015.1 1180.7 L2023.7 1182.8 L2030.2 1178.5 L2034.5 1177.0 L2039.9 1181.8 L2043.1 1188.2 L2049.6 1192.5 L2056.1 1197.3 L2062.5 1195.8 L2070.1 1188.2 L2076.6 1179.6 L2079.4 1174.2 L2078.7 1166.6 L2082.0 1151.5 L2088.4 1138.6 L2094.9 1127.8 L2097.1 1117.0 L2096.9 1117.0 L2094.6 1100.4 L2093.0 1093.4 L2086.1 1083.4 L2083.0 1075.7 L2078.4 1067.2 L2073.8 1061.0 L2069.9 1058.7 L2063.7 1055.6 L2059.9 1047.9 L2056.8 1044.8 L2056.0 1041.7 L2058.3 1034.0 L2059.1 1023.2 L2061.4 1017.0 L2064.5 1009.3 L2067.6 1003.1 L2069.1 997.7 L2066.8 992.3 L2065.3 986.2 L2067.6 979.2 L2070.7 974.6 L2068.4 971.5 L2066.8 964.6 L2068.4 958.4 L2073.8 949.1 L2081.5 938.3 L2086.9 930.6 L2089.2 916.7 L2093.8 909.0 L2086.1 930.0 L2088.7 920.1 L2091.4 912.8 L2094.1 907.4 L2095.1 903.4 L2094.1 896.7 L2095.8 894.1 L2096.8 890.7 L2094.1 887.7 L2088.7 886.1 L2084.1 884.7 M604.0 398.4 L609.4 406.9 L613.3 414.6 L617.9 420.5 L620.2 427.7 L622.1 434.7 L626.4 437.0 L634.1 435.9 L641.8 438.5 L647.2 439.3 L650.3 435.5 L651.1 430.8 L656.0 428.2 L659.1 423.9 L661.4 420.0 L659.1 416.2 L660.6 413.1 L669.9 412.8 L674.5 410.0 L678.4 403.8 L679.9 396.1 L681.9 391.5 L680.4 382.2 L680.7 376.0 L683.8 369.9 L684.5 362.9 L688.4 361.4 L693.0 363.7 L700.0 369.9 L706.9 372.2 L711.6 371.4 L714.6 362.2 L720.8 360.3 L724.7 357.5 L727.0 354.1 L731.6 354.0 L742.4 358.3 L753.2 362.9 L765.6 366.0 L777.9 363.4 L788.7 366.8 L798.0 366.3 L804.1 370.6 L807.2 372.7 L811.9 370.6 L819.6 369.9 L828.8 370.3 L831.2 373.0 L829.6 383.8 L829.6 391.5 L832.7 397.7 L838.1 400.0 L843.5 402.6 L844.6 405.4 L841.2 410.8 L838.9 414.6 L839.6 420.8 L843.5 427.7 L847.4 429.0 L855.1 427.3 L861.2 430.1 L867.4 432.4 L875.1 433.1 L879.8 435.5 L884.4 439.8 L894.4 439.8 L899.8 444.7 L906.0 450.1 L915.3 453.5 L924.5 456.3 L933.8 467.1 L943.0 475.6 L950.8 475.3 L955.4 477.1 L954.6 482.5 L956.2 486.4 L963.1 491.0 L968.0 495.3 L972.6 500.7 L980.3 504.6 L986.5 511.2 L992.7 508.4 L998.9 505.7 L1003.5 508.4 L1008.1 510.7 L1014.3 510.3 L1020.5 514.6 L1026.6 519.2 L1031.3 526.2 L1035.9 528.5 L1039.0 521.5 L1042.1 520.0 L1052.1 518.8 L1057.5 520.5 L1060.6 525.4 L1066.8 528.2 L1072.9 533.1 L1075.3 538.5 L1072.2 542.4 L1072.9 547.0 L1076.8 550.1 L1088.4 547.8 L1093.8 552.4 L1094.5 560.9 L1100.7 566.3 L1101.5 573.2 L1108.4 578.6 L1111.5 584.8 L1116.1 587.9 L1123.1 591.0 L1125.4 594.9 L1127.0 601.0 L1128.5 609.5 L1134.7 612.1 L1137.8 612.6 L1143.9 615.7 L1153.2 616.5 L1157.0 614.9 L1160.1 605.7 L1165.5 601.0 L1171.7 600.3 L1181.0 600.3 L1187.1 599.2 L1194.9 596.1 L1201.0 594.1 L1204.1 591.0 L1211.8 589.0 L1216.5 588.4 L1221.9 590.2 L1224.2 593.3 L1228.8 591.8 L1236.5 597.2 L1244.2 595.6 L1248.9 597.9 L1251.2 604.1 L1256.6 606.4 L1262.0 606.9 L1262.0 610.3 L1258.1 615.7 L1255.8 619.5 L1258.1 624.2 L1263.5 628.8 L1265.1 636.5 L1270.5 639.6 L1275.9 642.7 L1274.3 648.9 L1272.0 661.2 L1276.6 668.2 L1280.0 670.5 L1289.3 675.9 L1301.6 677.4 L1307.0 681.3 L1310.9 686.7 L1316.3 690.5 L1319.4 699.8 L1320.1 701.0 L1323.2 704.1 L1332.5 705.9 L1341.7 709.5 L1356.4 712.1 L1359.5 716.4 L1363.3 718.7 L1371.0 721.1 L1370.3 731.9 L1378.8 733.4 L1386.5 735.7 L1392.7 741.1 L1398.8 744.5 L1411.2 744.2 L1420.4 745.8 L1426.6 738.0 L1434.3 734.2 L1439.0 732.6 L1443.6 725.7 L1448.2 724.1 L1454.4 726.5 L1460.6 730.3 L1469.8 733.4 L1471.4 736.5 L1469.8 745.8 L1466.7 750.4 L1462.1 752.7 L1460.6 758.9 L1457.5 762.0 L1453.6 764.3 L1452.8 768.9 L1454.4 775.1 L1454.4 782.8 L1453.6 790.5 L1455.9 795.1 L1462.1 796.7 L1472.9 794.4 L1479.1 799.0 L1485.2 801.3 L1493.0 801.0 L1500.7 799.0 L1506.9 801.3 L1511.5 802.9 L1517.7 799.0 L1523.8 795.9 L1530.8 796.4 L1536.2 798.7 L1545.4 798.5 L1556.2 800.5 L1563.2 805.2 L1571.7 796.7 L1577.1 794.4 L1577.8 789.0 L1580.9 788.2 L1582.5 792.0 L1583.2 801.3 L1588.6 810.6 L1592.0 812.1 L1599.7 818.3 L1607.4 821.4 L1615.1 826.0 L1618.2 832.2 L1622.1 838.3 L1622.9 843.0 L1624.4 849.1 L1630.6 855.3 L1635.2 860.0 L1636.8 864.6 L1635.2 870.8 L1636.8 876.9 L1641.4 880.8 L1650.6 880.0 L1656.8 880.0 L1663.0 876.9 L1669.2 872.3 L1666.1 867.7 L1664.5 864.6 L1666.1 860.0 L1662.2 856.9 L1661.4 853.8 L1663.0 849.1 L1660.7 845.3 L1659.9 841.4 L1666.1 836.0 L1672.2 830.6 L1678.4 825.2 L1683.0 826.0 L1684.6 832.2 L1683.8 838.3 L1681.5 842.2 L1684.6 846.8 L1686.1 853.8 L1690.8 857.6 L1701.6 860.0 L1707.7 864.6 L1713.9 870.0 L1720.1 868.4 L1726.3 872.3 L1734.0 876.2 L1740.1 873.8 L1747.9 870.8 L1752.5 866.1 L1753.3 855.3 L1755.6 850.7 L1758.7 846.1 L1758.7 838.3 L1761.8 835.3 L1766.4 836.8 L1774.1 840.7 L1780.3 836.8 L1786.4 835.3 L1792.6 838.3 L1798.0 842.2 L1798.8 849.1 L1800.3 853.8 L1806.5 855.0 L1817.3 854.5 L1823.5 856.1 L1828.1 863.0 L1834.3 867.7 L1842.0 869.2 L1852.8 866.9 L1859.0 870.0 L1868.2 878.5 L1877.5 889.3 L1885.2 893.1 L1892.9 893.9 L1904.0 893.1 L1913.3 895.1 L1924.1 888.5 L1931.0 887.7 L1934.1 889.3 L1931.0 897.8 L1939.5 896.2 L1954.9 892.4 L1965.0 891.1 L1968.8 893.9 L1972.7 897.8 L1978.1 897.0 L1985.8 893.9 L1993.5 895.8 L2002.8 897.3 L2012.0 893.1 L2018.2 887.7 L2025.9 876.9 L2032.1 878.5 L2047.5 879.2 L2030.0 877.4 L2048.0 878.7 L2056.7 882.1 L2067.4 879.4 L2076.7 882.7 L2084.1 884.7 M2084.1 884.7 L2082.7 880.1 L2082.1 874.7 L2083.4 870.7 L2086.7 867.7 L2094.1 868.4 L2099.4 867.0 L2103.4 865.7 L2116.8 864.0 L2136.8 861.7 M2140.2 1147.2 L2135.9 1153.7 L2131.6 1164.5 L2127.3 1175.3 L2129.4 1179.6 L2132.7 1180.7 L2133.8 1174.2 L2138.1 1168.8 M2129.4 1219.5 L2131.6 1216.3 L2135.9 1212.0 L2140.2 1207.7" fill="none" stroke="#000" stroke-width="2.1" stroke-linejoin="round" stroke-linecap="round"/>
</g>
<rect x="358.4" y="296.4" width="1778.0" height="923.0" fill="none" stroke="#000" stroke-width="3"/>
<text x="914.90" y="193.490" font-size="50.16" text-anchor="start" transform="scale(1,1.1060)" font-family="Liberation Mono, monospace" fill="#000">Temp(°C) @ 20251021_06</text>
<text x="841.60" y="245.027" font-size="50.16" text-anchor="start" transform="scale(1,1.1060)" font-family="Liberation Mono, monospace" fill="#000">Simulation Time: 20251018_12</text>
<text x="603.90" y="1150.995" font-size="41.80" text-anchor="middle" transform="scale(1,1.1060)" font-family="Liberation Mono, monospace" fill="#000">81°E</text>
<text x="916.40" y="1150.995" font-size="41.80" text-anchor="middle" transform="scale(1,1.1060)" font-family="Liberation Mono, monospace" fill="#000">82.5°E</text>
<text x="1228.90" y="1150.995" font-size="41.80" text-anchor="middle" transform="scale(1,1.1060)" font-family="Liberation Mono, monospace" fill="#000">84°E</text>
<text x="1541.40" y="1150.995" font-size="41.80" text-anchor="middle" transform="scale(1,1.1060)" font-family="Liberation Mono, monospace" fill="#000">85.5°E</text>
<text x="1853.90" y="1150.995" font-size="41.80" text-anchor="middle" transform="scale(1,1.1060)" font-family="Liberation Mono, monospace" fill="#000">87°E</text>
<text x="338.10" y="410.307" font-size="41.80" text-anchor="end" transform="scale(1,1.1060)" font-family="Liberation Mono, monospace" fill="#000">30°N</text>
<text x="338.10" y="598.644" font-size="41.80" text-anchor="end" transform="scale(1,1.1060)" font-family="Liberation Mono, monospace" fill="#000">29°N</text>
<text x="338.10" y="786.980" font-size="41.80" text-anchor="end" transform="scale(1,1.1060)" font-family="Liberation Mono, monospace" fill="#000">28°N</text>
<text x="338.10" y="975.316" font-size="41.80" text-anchor="end" transform="scale(1,1.1060)" font-family="Liberation Mono, monospace" fill="#000">27°N</text>
<rect x="2246.5" y="1178.07" width="58.0" height="105.63" fill="#2a0593"/>
<rect x="2246.5" y="1073.04" width="58.0" height="105.63" fill="#5601a4"/>
<rect x="2246.5" y="968.01" width="58.0" height="105.63" fill="#7e03a8"/>
<rect x="2246.5" y="862.98" width="58.0" height="105.63" fill="#a11b9b"/>
<rect x="2246.5" y="757.95" width="58.0" height="105.63" fill="#bf3984"/>
<rect x="2246.5" y="652.92" width="58.0" height="105.63" fill="#d6556d"/>
<rect x="2246.5" y="547.89" width="58.0" height="105.63" fill="#ea7457"/>
<rect x="2246.5" y="442.86" width="58.0" height="105.63" fill="#f89540"/>
<rect x="2246.5" y="337.83" width="58.0" height="105.63" fill="#feba2c"/>
<rect x="2246.5" y="232.80" width="58.0" height="105.63" fill="#f7e425"/>
<polygon points="2246.5,233.4 2275.5,180.6 2304.5,233.4" fill="#f0f921"/>
<polygon points="2246.5,1283.1 2275.5,1335.9 2304.5,1283.1" fill="#0d0887"/>
<polygon points="2246.5,233.1 2275.5,180.6 2304.5,233.1 2304.5,1283.4 2275.5,1335.9 2246.5,1283.4" fill="none" stroke="#000" stroke-width="3" stroke-linejoin="miter"/>
<line x1="2304.5" y1="1178.37" x2="2320.6" y2="1178.37" stroke="#000" stroke-width="2.6"/>
<text x="2334.20" y="1079.177" font-size="41.80" text-anchor="start" transform="scale(1,1.1060)" font-family="Liberation Mono, monospace" fill="#000">0</text>
<line x1="2304.5" y1="968.31" x2="2320.6" y2="968.31" stroke="#000" stroke-width="2.6"/>
<text x="2334.20" y="889.250" font-size="41.80" text-anchor="start" transform="scale(1,1.1060)" font-family="Liberation Mono, monospace" fill="#000">10</text>
<line x1="2304.5" y1="758.25" x2="2320.6" y2="758.25" stroke="#000" stroke-width="2.6"/>
<text x="2334.20" y="699.322" font-size="41.80" text-anchor="start" transform="scale(1,1.1060)" font-family="Liberation Mono, monospace" fill="#000">20</text>
<line x1="2304.5" y1="548.19" x2="2320.6" y2="548.19" stroke="#000" stroke-width="2.6"/>
<text x="2334.20" y="509.394" font-size="41.80" text-anchor="start" transform="scale(1,1.1060)" font-family="Liberation Mono, monospace" fill="#000">30</text>
<line x1="2304.5" y1="338.13" x2="2320.6" y2="338.13" stroke="#000" stroke-width="2.6"/>
<text x="2334.20" y="319.467" font-size="41.80" text-anchor="start" transform="scale(1,1.1060)" font-family="Liberation Mono, monospace" fill="#000">40</text>
</svg></body></html>
